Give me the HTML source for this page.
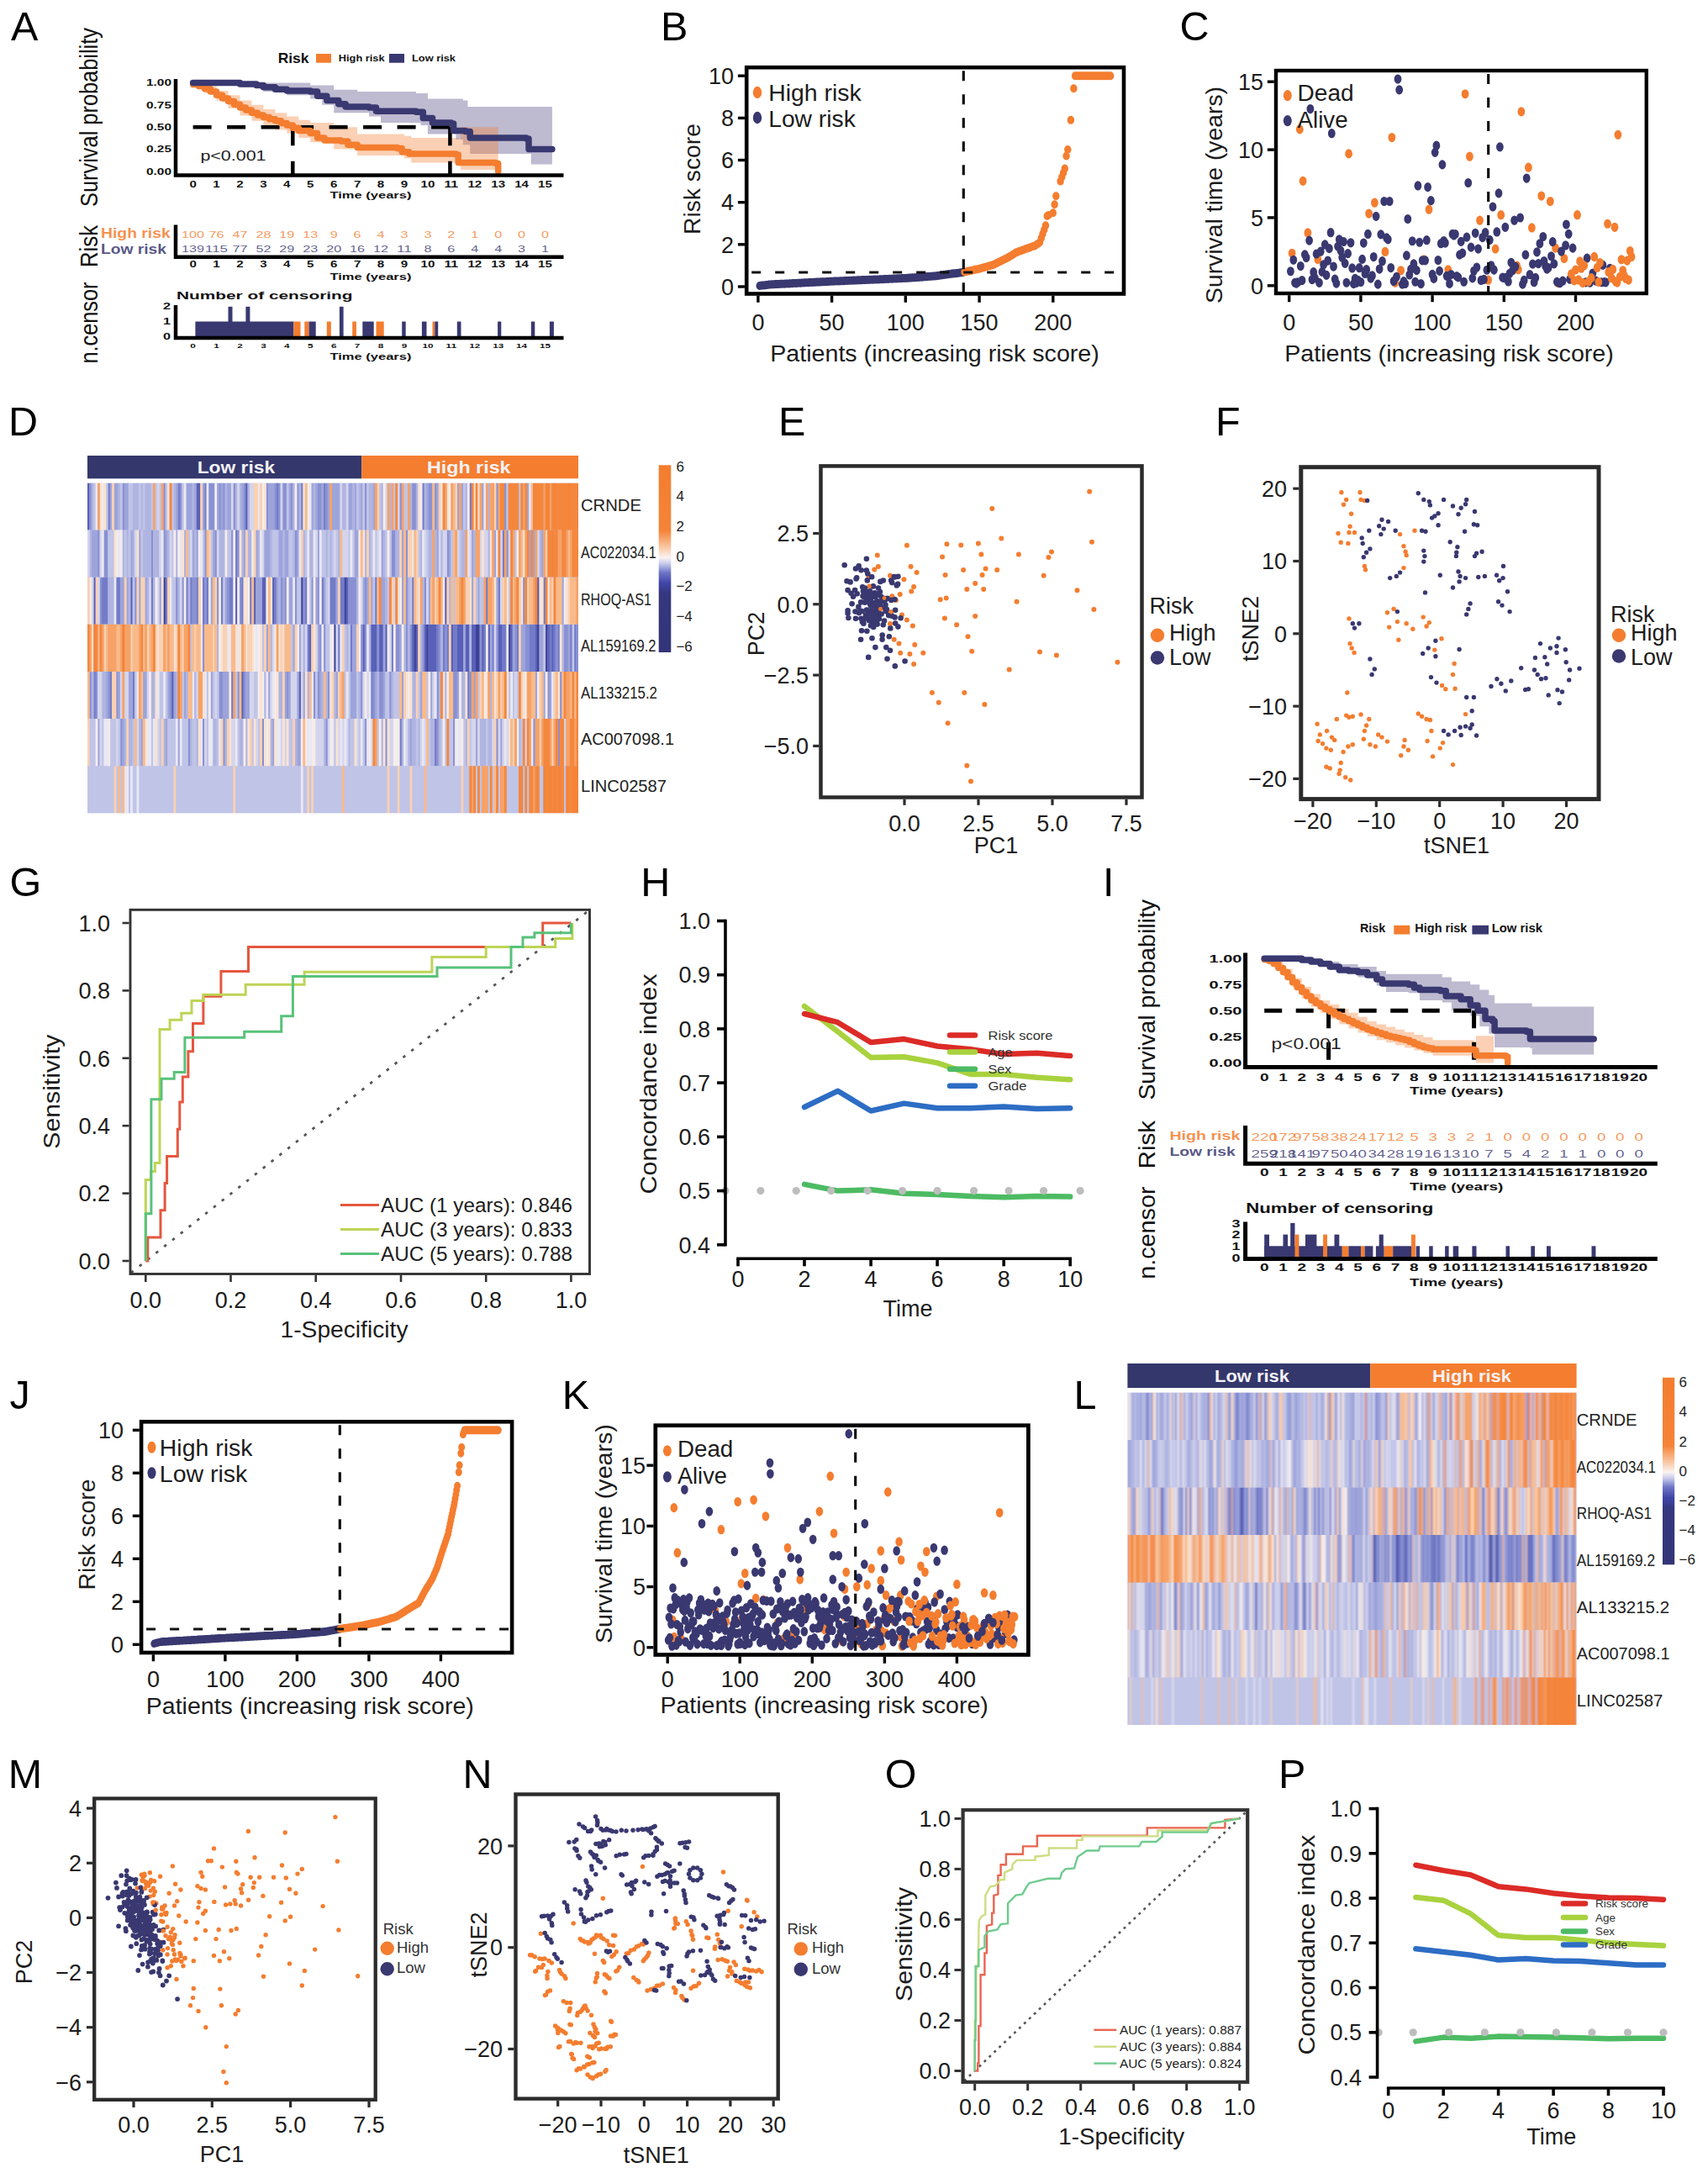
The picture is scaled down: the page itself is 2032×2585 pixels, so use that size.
<!DOCTYPE html>
<html lang="en"><head><meta charset="utf-8"><title>Figure</title>
<style>
html,body{margin:0;padding:0;background:#fff;}
svg{display:block;font-family:"Liberation Sans", sans-serif;}
</style></head><body>
<svg width="2032" height="2585" viewBox="0 0 2032 2585">
<rect width="2032" height="2585" fill="#fff"/>
<text x="12.9" y="48.0" font-size="48.5" fill="#000">A</text>
<text x="786.0" y="48.0" font-size="48.5" fill="#000">B</text>
<text x="1403.5" y="48.0" font-size="48.5" fill="#000">C</text>
<text x="10.0" y="518.3" font-size="48.5" fill="#000">D</text>
<text x="926.0" y="518.3" font-size="48.5" fill="#000">E</text>
<text x="1446.0" y="517.5" font-size="48.5" fill="#000">F</text>
<text x="11.6" y="1065.8" font-size="48.5" fill="#000">G</text>
<text x="762.3" y="1065.5" font-size="48.5" fill="#000">H</text>
<text x="1312.0" y="1065.5" font-size="48.5" fill="#000">I</text>
<text x="11.5" y="1675.6" font-size="48.5" fill="#000">J</text>
<text x="668.8" y="1675.6" font-size="48.5" fill="#000">K</text>
<text x="1277.4" y="1675.6" font-size="48.5" fill="#000">L</text>
<text x="9.8" y="2127.3" font-size="48.5" fill="#000">M</text>
<text x="550.4" y="2126.8" font-size="48.5" fill="#000">N</text>
<text x="1052.7" y="2126.8" font-size="48.5" fill="#000">O</text>
<text x="1521.0" y="2126.8" font-size="48.5" fill="#000">P</text>
<polygon points="229.6,98.4 313.4,98.4 313.4,98.4 369.2,98.4 369.2,101.6 397.2,101.6 397.2,106.8 425.1,106.8 425.1,109.0 494.9,109.0 494.9,111.1 508.9,111.1 508.9,117.4 550.8,117.4 550.8,119.5 556.4,119.5 556.4,126.9 656.9,126.9 656.9,128.0 656.9,195.6 656.9,195.6 631.8,195.6 631.8,182.9 629.0,182.9 629.0,182.9 559.2,182.9 559.2,172.3 550.8,172.3 550.8,166.0 542.4,166.0 542.4,159.6 508.9,159.6 508.9,149.1 500.5,149.1 500.5,145.9 453.0,145.9 453.0,138.5 439.1,138.5 439.1,134.3 397.2,134.3 397.2,124.8 383.2,124.8 383.2,117.4 369.2,117.4 369.2,113.2 341.3,113.2 341.3,109.0 313.4,109.0 313.4,103.7 285.5,103.7 285.5,100.5 257.5,100.5 257.5,98.4 229.6,98.4" fill="#4a3f7c" fill-opacity="0.36"/>
<polygon points="229.6,98.4 243.6,98.4 243.6,102.6 257.5,102.6 257.5,107.9 271.5,107.9 271.5,113.2 285.5,113.2 285.5,119.5 299.4,119.5 299.4,124.8 313.4,124.8 313.4,130.1 327.4,130.1 327.4,134.3 341.3,134.3 341.3,138.5 355.3,138.5 355.3,142.8 369.2,142.8 369.2,145.9 397.2,145.9 397.2,151.2 425.1,151.2 425.1,159.6 481.0,159.6 481.0,161.8 489.3,161.8 489.3,163.9 545.2,163.9 545.2,166.0 548.0,166.0 548.0,151.2 592.7,151.2 592.7,151.2 592.7,204.0 592.7,201.9 548.0,201.9 548.0,195.6 545.2,195.6 545.2,193.4 489.3,193.4 489.3,188.2 481.0,188.2 481.0,185.0 425.1,185.0 425.1,177.6 397.2,177.6 397.2,169.2 369.2,169.2 369.2,163.9 355.3,163.9 355.3,158.6 341.3,158.6 341.3,154.4 327.4,154.4 327.4,149.1 313.4,149.1 313.4,143.8 299.4,143.8 299.4,137.5 285.5,137.5 285.5,129.0 271.5,129.0 271.5,119.5 257.5,119.5 257.5,111.1 243.6,111.1 243.6,102.6 229.6,102.6" fill="#F47D2F" fill-opacity="0.36"/>
<line x1="229.6" y1="151.2" x2="535.4" y2="151.2" stroke="#000" stroke-width="4.5" stroke-dasharray="22 18.5"/>
<line x1="348.3" y1="151.2" x2="348.3" y2="208.5" stroke="#000" stroke-width="4.5" stroke-dasharray="22 18.5"/>
<line x1="535.4" y1="151.2" x2="535.4" y2="208.5" stroke="#000" stroke-width="4.5" stroke-dasharray="22 18.5"/>
<polyline points="229.6,100.5 236.6,100.5 236.6,102.6 243.6,102.6 243.6,105.8 250.5,105.8 250.5,109.0 257.5,109.0 257.5,113.2 264.5,113.2 264.5,116.9 271.5,116.9 271.5,120.6 278.5,120.6 278.5,124.3 285.5,124.3 285.5,128.0 292.4,128.0 292.4,131.1 299.4,131.1 299.4,134.3 306.4,134.3 306.4,136.9 313.4,136.9 313.4,139.6 320.4,139.6 320.4,141.7 327.4,141.7 327.4,143.8 334.3,143.8 334.3,146.4 341.3,146.4 341.3,149.1 348.3,149.1 348.3,152.3 355.3,152.3 355.3,155.4 369.2,155.4 369.2,158.6 377.6,158.6 377.6,163.9 386.0,163.9 386.0,167.0 405.6,167.0 405.6,168.1 413.9,168.1 413.9,172.3 425.1,172.3 425.1,175.5 472.6,175.5 472.6,176.5 478.2,176.5 478.2,180.8 486.6,180.8 486.6,182.9 542.4,182.9 542.4,183.9 545.2,183.9 545.2,193.4 589.9,193.4 589.9,194.5 592.7,194.5 592.7,204.0" fill="none" stroke="#F47D2F" stroke-width="7.5" stroke-linejoin="round" stroke-linecap="round"/>
<polyline points="229.6,98.4 271.5,98.4 271.5,98.4 285.5,98.4 285.5,100.0 305.0,100.0 305.0,101.6 313.4,101.6 313.4,103.7 327.4,103.7 327.4,106.3 341.3,106.3 341.3,107.9 369.2,107.9 369.2,109.0 377.6,109.0 377.6,114.2 388.8,114.2 388.8,119.5 402.8,119.5 402.8,123.7 411.1,123.7 411.1,126.9 439.1,126.9 439.1,128.0 447.5,128.0 447.5,132.2 494.9,132.2 494.9,133.2 503.3,133.2 503.3,140.6 514.5,140.6 514.5,145.9 536.8,145.9 536.8,147.0 539.6,147.0 539.6,155.4 553.6,155.4 553.6,156.5 559.2,156.5 559.2,163.9 626.2,163.9 626.2,164.9 629.0,164.9 629.0,177.6 656.9,177.6 656.9,177.6" fill="none" stroke="#393870" stroke-width="7.5" stroke-linejoin="round" stroke-linecap="round"/>
<polyline points="209.0,94.0 209.0,208.5 670.5,208.5" fill="none" stroke="#000" stroke-width="4.5" stroke-linejoin="miter" stroke-linecap="butt"/>
<text x="204.0" y="207.8" font-size="10.5" fill="#111" text-anchor="end" font-weight="bold" textLength="30.0" lengthAdjust="spacingAndGlyphs">0.00</text>
<text x="204.0" y="181.4" font-size="10.5" fill="#111" text-anchor="end" font-weight="bold" textLength="30.0" lengthAdjust="spacingAndGlyphs">0.25</text>
<text x="204.0" y="155.0" font-size="10.5" fill="#111" text-anchor="end" font-weight="bold" textLength="30.0" lengthAdjust="spacingAndGlyphs">0.50</text>
<text x="204.0" y="128.6" font-size="10.5" fill="#111" text-anchor="end" font-weight="bold" textLength="30.0" lengthAdjust="spacingAndGlyphs">0.75</text>
<text x="204.0" y="102.2" font-size="10.5" fill="#111" text-anchor="end" font-weight="bold" textLength="30.0" lengthAdjust="spacingAndGlyphs">1.00</text>
<text x="229.6" y="222.8" font-size="10.5" fill="#111" text-anchor="middle" font-weight="bold" textLength="8.4" lengthAdjust="spacingAndGlyphs">0</text>
<text x="257.5" y="222.8" font-size="10.5" fill="#111" text-anchor="middle" font-weight="bold" textLength="8.4" lengthAdjust="spacingAndGlyphs">1</text>
<text x="285.5" y="222.8" font-size="10.5" fill="#111" text-anchor="middle" font-weight="bold" textLength="8.4" lengthAdjust="spacingAndGlyphs">2</text>
<text x="313.4" y="222.8" font-size="10.5" fill="#111" text-anchor="middle" font-weight="bold" textLength="8.4" lengthAdjust="spacingAndGlyphs">3</text>
<text x="341.3" y="222.8" font-size="10.5" fill="#111" text-anchor="middle" font-weight="bold" textLength="8.4" lengthAdjust="spacingAndGlyphs">4</text>
<text x="369.2" y="222.8" font-size="10.5" fill="#111" text-anchor="middle" font-weight="bold" textLength="8.4" lengthAdjust="spacingAndGlyphs">5</text>
<text x="397.2" y="222.8" font-size="10.5" fill="#111" text-anchor="middle" font-weight="bold" textLength="8.4" lengthAdjust="spacingAndGlyphs">6</text>
<text x="425.1" y="222.8" font-size="10.5" fill="#111" text-anchor="middle" font-weight="bold" textLength="8.4" lengthAdjust="spacingAndGlyphs">7</text>
<text x="453.0" y="222.8" font-size="10.5" fill="#111" text-anchor="middle" font-weight="bold" textLength="8.4" lengthAdjust="spacingAndGlyphs">8</text>
<text x="481.0" y="222.8" font-size="10.5" fill="#111" text-anchor="middle" font-weight="bold" textLength="8.4" lengthAdjust="spacingAndGlyphs">9</text>
<text x="508.9" y="222.8" font-size="10.5" fill="#111" text-anchor="middle" font-weight="bold" textLength="16.8" lengthAdjust="spacingAndGlyphs">10</text>
<text x="536.8" y="222.8" font-size="10.5" fill="#111" text-anchor="middle" font-weight="bold" textLength="16.8" lengthAdjust="spacingAndGlyphs">11</text>
<text x="564.8" y="222.8" font-size="10.5" fill="#111" text-anchor="middle" font-weight="bold" textLength="16.8" lengthAdjust="spacingAndGlyphs">12</text>
<text x="592.7" y="222.8" font-size="10.5" fill="#111" text-anchor="middle" font-weight="bold" textLength="16.8" lengthAdjust="spacingAndGlyphs">13</text>
<text x="620.6" y="222.8" font-size="10.5" fill="#111" text-anchor="middle" font-weight="bold" textLength="16.8" lengthAdjust="spacingAndGlyphs">14</text>
<text x="648.5" y="222.8" font-size="10.5" fill="#111" text-anchor="middle" font-weight="bold" textLength="16.8" lengthAdjust="spacingAndGlyphs">15</text>
<text x="441.0" y="236.3" font-size="10.5" fill="#111" text-anchor="middle" font-weight="bold" textLength="97.0" lengthAdjust="spacingAndGlyphs">Time (years)</text>
<text x="238.4" y="190.7" font-size="16" fill="#222" textLength="78.1" lengthAdjust="spacingAndGlyphs">p&lt;0.001</text>
<text x="330.7" y="75.1" font-size="17" fill="#111" font-weight="bold" textLength="36.8" lengthAdjust="spacingAndGlyphs">Risk</text>
<rect x="376.0" y="64.0" width="18.0" height="10.7" fill="#F47D2F"/>
<rect x="463.0" y="64.0" width="18.0" height="10.7" fill="#393870"/>
<text x="402.8" y="72.8" font-size="10.5" fill="#111" font-weight="bold" textLength="54.7" lengthAdjust="spacingAndGlyphs">High risk</text>
<text x="490.0" y="72.8" font-size="10.5" fill="#111" font-weight="bold" textLength="52.0" lengthAdjust="spacingAndGlyphs">Low risk</text>
<text transform="translate(105.5,139.5) rotate(-90)" x="0" y="10.7" font-size="30" fill="#111" text-anchor="middle" textLength="213.0" lengthAdjust="spacingAndGlyphs">Survival probability</text>
<polyline points="209.0,267.5 209.0,305.8 670.5,305.8" fill="none" stroke="#000" stroke-width="4.5" stroke-linejoin="miter" stroke-linecap="butt"/>
<text x="229.6" y="282.5" font-size="11" fill="#F47D2F" text-anchor="middle" textLength="27.0" lengthAdjust="spacingAndGlyphs" fill-opacity=".8">100</text>
<text x="257.5" y="282.5" font-size="11" fill="#F47D2F" text-anchor="middle" textLength="18.0" lengthAdjust="spacingAndGlyphs" fill-opacity=".8">76</text>
<text x="285.5" y="282.5" font-size="11" fill="#F47D2F" text-anchor="middle" textLength="18.0" lengthAdjust="spacingAndGlyphs" fill-opacity=".8">47</text>
<text x="313.4" y="282.5" font-size="11" fill="#F47D2F" text-anchor="middle" textLength="18.0" lengthAdjust="spacingAndGlyphs" fill-opacity=".8">28</text>
<text x="341.3" y="282.5" font-size="11" fill="#F47D2F" text-anchor="middle" textLength="18.0" lengthAdjust="spacingAndGlyphs" fill-opacity=".8">19</text>
<text x="369.2" y="282.5" font-size="11" fill="#F47D2F" text-anchor="middle" textLength="18.0" lengthAdjust="spacingAndGlyphs" fill-opacity=".8">13</text>
<text x="397.2" y="282.5" font-size="11" fill="#F47D2F" text-anchor="middle" textLength="9.0" lengthAdjust="spacingAndGlyphs" fill-opacity=".8">9</text>
<text x="425.1" y="282.5" font-size="11" fill="#F47D2F" text-anchor="middle" textLength="9.0" lengthAdjust="spacingAndGlyphs" fill-opacity=".8">6</text>
<text x="453.0" y="282.5" font-size="11" fill="#F47D2F" text-anchor="middle" textLength="9.0" lengthAdjust="spacingAndGlyphs" fill-opacity=".8">4</text>
<text x="481.0" y="282.5" font-size="11" fill="#F47D2F" text-anchor="middle" textLength="9.0" lengthAdjust="spacingAndGlyphs" fill-opacity=".8">3</text>
<text x="508.9" y="282.5" font-size="11" fill="#F47D2F" text-anchor="middle" textLength="9.0" lengthAdjust="spacingAndGlyphs" fill-opacity=".8">3</text>
<text x="536.8" y="282.5" font-size="11" fill="#F47D2F" text-anchor="middle" textLength="9.0" lengthAdjust="spacingAndGlyphs" fill-opacity=".8">2</text>
<text x="564.8" y="282.5" font-size="11" fill="#F47D2F" text-anchor="middle" textLength="9.0" lengthAdjust="spacingAndGlyphs" fill-opacity=".8">1</text>
<text x="592.7" y="282.5" font-size="11" fill="#F47D2F" text-anchor="middle" textLength="9.0" lengthAdjust="spacingAndGlyphs" fill-opacity=".8">0</text>
<text x="620.6" y="282.5" font-size="11" fill="#F47D2F" text-anchor="middle" textLength="9.0" lengthAdjust="spacingAndGlyphs" fill-opacity=".8">0</text>
<text x="648.5" y="282.5" font-size="11" fill="#F47D2F" text-anchor="middle" textLength="9.0" lengthAdjust="spacingAndGlyphs" fill-opacity=".8">0</text>
<text x="229.6" y="299.6" font-size="11" fill="#393870" text-anchor="middle" textLength="27.0" lengthAdjust="spacingAndGlyphs" fill-opacity=".8">139</text>
<text x="257.5" y="299.6" font-size="11" fill="#393870" text-anchor="middle" textLength="27.0" lengthAdjust="spacingAndGlyphs" fill-opacity=".8">115</text>
<text x="285.5" y="299.6" font-size="11" fill="#393870" text-anchor="middle" textLength="18.0" lengthAdjust="spacingAndGlyphs" fill-opacity=".8">77</text>
<text x="313.4" y="299.6" font-size="11" fill="#393870" text-anchor="middle" textLength="18.0" lengthAdjust="spacingAndGlyphs" fill-opacity=".8">52</text>
<text x="341.3" y="299.6" font-size="11" fill="#393870" text-anchor="middle" textLength="18.0" lengthAdjust="spacingAndGlyphs" fill-opacity=".8">29</text>
<text x="369.2" y="299.6" font-size="11" fill="#393870" text-anchor="middle" textLength="18.0" lengthAdjust="spacingAndGlyphs" fill-opacity=".8">23</text>
<text x="397.2" y="299.6" font-size="11" fill="#393870" text-anchor="middle" textLength="18.0" lengthAdjust="spacingAndGlyphs" fill-opacity=".8">20</text>
<text x="425.1" y="299.6" font-size="11" fill="#393870" text-anchor="middle" textLength="18.0" lengthAdjust="spacingAndGlyphs" fill-opacity=".8">16</text>
<text x="453.0" y="299.6" font-size="11" fill="#393870" text-anchor="middle" textLength="18.0" lengthAdjust="spacingAndGlyphs" fill-opacity=".8">12</text>
<text x="481.0" y="299.6" font-size="11" fill="#393870" text-anchor="middle" textLength="18.0" lengthAdjust="spacingAndGlyphs" fill-opacity=".8">11</text>
<text x="508.9" y="299.6" font-size="11" fill="#393870" text-anchor="middle" textLength="9.0" lengthAdjust="spacingAndGlyphs" fill-opacity=".8">8</text>
<text x="536.8" y="299.6" font-size="11" fill="#393870" text-anchor="middle" textLength="9.0" lengthAdjust="spacingAndGlyphs" fill-opacity=".8">6</text>
<text x="564.8" y="299.6" font-size="11" fill="#393870" text-anchor="middle" textLength="9.0" lengthAdjust="spacingAndGlyphs" fill-opacity=".8">4</text>
<text x="592.7" y="299.6" font-size="11" fill="#393870" text-anchor="middle" textLength="9.0" lengthAdjust="spacingAndGlyphs" fill-opacity=".8">4</text>
<text x="620.6" y="299.6" font-size="11" fill="#393870" text-anchor="middle" textLength="9.0" lengthAdjust="spacingAndGlyphs" fill-opacity=".8">3</text>
<text x="648.5" y="299.6" font-size="11" fill="#393870" text-anchor="middle" textLength="9.0" lengthAdjust="spacingAndGlyphs" fill-opacity=".8">1</text>
<text x="120.0" y="282.5" font-size="16" fill="#F47D2F" font-weight="bold" textLength="82.7" lengthAdjust="spacingAndGlyphs" fill-opacity=".85">High risk</text>
<text x="120.0" y="301.7" font-size="16" fill="#393870" font-weight="bold" textLength="78.0" lengthAdjust="spacingAndGlyphs" fill-opacity=".85">Low risk</text>
<text x="229.6" y="318.3" font-size="10.5" fill="#111" text-anchor="middle" font-weight="bold" textLength="8.4" lengthAdjust="spacingAndGlyphs">0</text>
<text x="257.5" y="318.3" font-size="10.5" fill="#111" text-anchor="middle" font-weight="bold" textLength="8.4" lengthAdjust="spacingAndGlyphs">1</text>
<text x="285.5" y="318.3" font-size="10.5" fill="#111" text-anchor="middle" font-weight="bold" textLength="8.4" lengthAdjust="spacingAndGlyphs">2</text>
<text x="313.4" y="318.3" font-size="10.5" fill="#111" text-anchor="middle" font-weight="bold" textLength="8.4" lengthAdjust="spacingAndGlyphs">3</text>
<text x="341.3" y="318.3" font-size="10.5" fill="#111" text-anchor="middle" font-weight="bold" textLength="8.4" lengthAdjust="spacingAndGlyphs">4</text>
<text x="369.2" y="318.3" font-size="10.5" fill="#111" text-anchor="middle" font-weight="bold" textLength="8.4" lengthAdjust="spacingAndGlyphs">5</text>
<text x="397.2" y="318.3" font-size="10.5" fill="#111" text-anchor="middle" font-weight="bold" textLength="8.4" lengthAdjust="spacingAndGlyphs">6</text>
<text x="425.1" y="318.3" font-size="10.5" fill="#111" text-anchor="middle" font-weight="bold" textLength="8.4" lengthAdjust="spacingAndGlyphs">7</text>
<text x="453.0" y="318.3" font-size="10.5" fill="#111" text-anchor="middle" font-weight="bold" textLength="8.4" lengthAdjust="spacingAndGlyphs">8</text>
<text x="481.0" y="318.3" font-size="10.5" fill="#111" text-anchor="middle" font-weight="bold" textLength="8.4" lengthAdjust="spacingAndGlyphs">9</text>
<text x="508.9" y="318.3" font-size="10.5" fill="#111" text-anchor="middle" font-weight="bold" textLength="16.8" lengthAdjust="spacingAndGlyphs">10</text>
<text x="536.8" y="318.3" font-size="10.5" fill="#111" text-anchor="middle" font-weight="bold" textLength="16.8" lengthAdjust="spacingAndGlyphs">11</text>
<text x="564.8" y="318.3" font-size="10.5" fill="#111" text-anchor="middle" font-weight="bold" textLength="16.8" lengthAdjust="spacingAndGlyphs">12</text>
<text x="592.7" y="318.3" font-size="10.5" fill="#111" text-anchor="middle" font-weight="bold" textLength="16.8" lengthAdjust="spacingAndGlyphs">13</text>
<text x="620.6" y="318.3" font-size="10.5" fill="#111" text-anchor="middle" font-weight="bold" textLength="16.8" lengthAdjust="spacingAndGlyphs">14</text>
<text x="648.5" y="318.3" font-size="10.5" fill="#111" text-anchor="middle" font-weight="bold" textLength="16.8" lengthAdjust="spacingAndGlyphs">15</text>
<text x="441.0" y="332.5" font-size="10.5" fill="#111" text-anchor="middle" font-weight="bold" textLength="97.0" lengthAdjust="spacingAndGlyphs">Time (years)</text>
<text transform="translate(105.5,293.0) rotate(-90)" x="0" y="10.7" font-size="30" fill="#111" text-anchor="middle" textLength="50.0" lengthAdjust="spacingAndGlyphs">Risk</text>
<rect x="232.4" y="382.5" width="117.0" height="17.7" fill="#393870"/>
<rect x="271.5" y="364.8" width="5.0" height="35.4" fill="#393870"/>
<rect x="292.4" y="364.8" width="5.0" height="35.4" fill="#393870"/>
<rect x="349.4" y="382.5" width="8.1" height="17.7" fill="#F47D2F"/>
<rect x="362.3" y="382.5" width="5.3" height="17.7" fill="#F47D2F"/>
<rect x="367.6" y="382.5" width="8.1" height="17.7" fill="#393870"/>
<rect x="388.8" y="382.5" width="5.0" height="17.7" fill="#F47D2F"/>
<rect x="403.9" y="364.8" width="4.7" height="35.4" fill="#393870"/>
<rect x="419.2" y="382.5" width="4.7" height="17.7" fill="#F47D2F"/>
<rect x="431.3" y="382.5" width="13.4" height="17.7" fill="#393870"/>
<rect x="447.5" y="382.5" width="9.2" height="17.7" fill="#F47D2F"/>
<rect x="478.2" y="382.5" width="4.5" height="17.7" fill="#393870"/>
<rect x="501.9" y="382.5" width="5.6" height="17.7" fill="#393870"/>
<rect x="514.5" y="382.5" width="2.8" height="17.7" fill="#F47D2F"/>
<rect x="517.3" y="382.5" width="3.9" height="17.7" fill="#393870"/>
<rect x="543.8" y="382.5" width="4.7" height="17.7" fill="#393870"/>
<rect x="592.1" y="382.5" width="4.2" height="17.7" fill="#393870"/>
<rect x="631.8" y="382.5" width="4.5" height="17.7" fill="#393870"/>
<rect x="653.9" y="382.5" width="5.0" height="17.7" fill="#393870"/>
<polyline points="209.0,363.0 209.0,402.0 670.5,402.0" fill="none" stroke="#000" stroke-width="4.5" stroke-linejoin="miter" stroke-linecap="butt"/>
<text x="198.5" y="403.8" font-size="10" fill="#111" text-anchor="middle" font-weight="bold" textLength="9.0" lengthAdjust="spacingAndGlyphs">0</text>
<text x="198.5" y="386.1" font-size="10" fill="#111" text-anchor="middle" font-weight="bold" textLength="9.0" lengthAdjust="spacingAndGlyphs">1</text>
<text x="198.5" y="368.4" font-size="10" fill="#111" text-anchor="middle" font-weight="bold" textLength="9.0" lengthAdjust="spacingAndGlyphs">2</text>
<text x="229.6" y="413.9" font-size="8" fill="#111" text-anchor="middle" font-weight="bold" textLength="6.5" lengthAdjust="spacingAndGlyphs">0</text>
<text x="257.5" y="413.9" font-size="8" fill="#111" text-anchor="middle" font-weight="bold" textLength="6.5" lengthAdjust="spacingAndGlyphs">1</text>
<text x="285.5" y="413.9" font-size="8" fill="#111" text-anchor="middle" font-weight="bold" textLength="6.5" lengthAdjust="spacingAndGlyphs">2</text>
<text x="313.4" y="413.9" font-size="8" fill="#111" text-anchor="middle" font-weight="bold" textLength="6.5" lengthAdjust="spacingAndGlyphs">3</text>
<text x="341.3" y="413.9" font-size="8" fill="#111" text-anchor="middle" font-weight="bold" textLength="6.5" lengthAdjust="spacingAndGlyphs">4</text>
<text x="369.2" y="413.9" font-size="8" fill="#111" text-anchor="middle" font-weight="bold" textLength="6.5" lengthAdjust="spacingAndGlyphs">5</text>
<text x="397.2" y="413.9" font-size="8" fill="#111" text-anchor="middle" font-weight="bold" textLength="6.5" lengthAdjust="spacingAndGlyphs">6</text>
<text x="425.1" y="413.9" font-size="8" fill="#111" text-anchor="middle" font-weight="bold" textLength="6.5" lengthAdjust="spacingAndGlyphs">7</text>
<text x="453.0" y="413.9" font-size="8" fill="#111" text-anchor="middle" font-weight="bold" textLength="6.5" lengthAdjust="spacingAndGlyphs">8</text>
<text x="481.0" y="413.9" font-size="8" fill="#111" text-anchor="middle" font-weight="bold" textLength="6.5" lengthAdjust="spacingAndGlyphs">9</text>
<text x="508.9" y="413.9" font-size="8" fill="#111" text-anchor="middle" font-weight="bold" textLength="13.0" lengthAdjust="spacingAndGlyphs">10</text>
<text x="536.8" y="413.9" font-size="8" fill="#111" text-anchor="middle" font-weight="bold" textLength="13.0" lengthAdjust="spacingAndGlyphs">11</text>
<text x="564.8" y="413.9" font-size="8" fill="#111" text-anchor="middle" font-weight="bold" textLength="13.0" lengthAdjust="spacingAndGlyphs">12</text>
<text x="592.7" y="413.9" font-size="8" fill="#111" text-anchor="middle" font-weight="bold" textLength="13.0" lengthAdjust="spacingAndGlyphs">13</text>
<text x="620.6" y="413.9" font-size="8" fill="#111" text-anchor="middle" font-weight="bold" textLength="13.0" lengthAdjust="spacingAndGlyphs">14</text>
<text x="648.5" y="413.9" font-size="8" fill="#111" text-anchor="middle" font-weight="bold" textLength="13.0" lengthAdjust="spacingAndGlyphs">15</text>
<text x="441.0" y="427.8" font-size="10.5" fill="#111" text-anchor="middle" font-weight="bold" textLength="97.0" lengthAdjust="spacingAndGlyphs">Time (years)</text>
<text x="210.0" y="356.0" font-size="13.5" fill="#111" font-weight="bold" textLength="209.5" lengthAdjust="spacingAndGlyphs">Number of censoring</text>
<text transform="translate(105.5,384.0) rotate(-90)" x="0" y="10.7" font-size="30" fill="#111" text-anchor="middle" textLength="97.0" lengthAdjust="spacingAndGlyphs">n.censor</text>
<polygon points="1504.2,1140.2 1571.0,1140.2 1571.0,1143.9 1593.3,1143.9 1593.3,1147.0 1615.5,1147.0 1615.5,1150.1 1637.8,1150.1 1637.8,1155.1 1649.0,1155.1 1649.0,1158.8 1715.8,1158.8 1715.8,1162.6 1726.9,1162.6 1726.9,1167.5 1749.2,1167.5 1749.2,1171.3 1760.3,1171.3 1760.3,1177.5 1771.4,1177.5 1771.4,1183.7 1778.1,1183.7 1778.1,1193.6 1820.4,1193.6 1820.4,1193.6 1822.7,1193.6 1822.7,1197.4 1896.2,1197.4 1896.2,1197.4 1896.2,1254.6 1896.2,1254.6 1822.7,1254.6 1822.7,1247.1 1820.4,1247.1 1820.4,1245.9 1778.1,1245.9 1778.1,1229.7 1771.4,1229.7 1771.4,1221.0 1760.3,1221.0 1760.3,1208.6 1749.2,1208.6 1749.2,1202.3 1726.9,1202.3 1726.9,1192.4 1715.8,1192.4 1715.8,1189.9 1689.0,1189.9 1689.0,1181.2 1675.7,1181.2 1675.7,1180.0 1649.0,1180.0 1649.0,1172.5 1637.8,1172.5 1637.8,1162.6 1615.5,1162.6 1615.5,1156.4 1593.3,1156.4 1593.3,1148.9 1571.0,1148.9 1571.0,1145.2 1548.7,1145.2 1548.7,1142.7 1526.5,1142.7 1526.5,1140.2 1504.2,1140.2" fill="#4a3f7c" fill-opacity="0.36"/>
<polygon points="1504.2,1140.2 1515.3,1140.2 1515.3,1143.9 1526.5,1143.9 1526.5,1152.6 1537.6,1152.6 1537.6,1163.8 1548.7,1163.8 1548.7,1173.8 1559.9,1173.8 1559.9,1182.5 1571.0,1182.5 1571.0,1189.9 1582.1,1189.9 1582.1,1194.9 1593.3,1194.9 1593.3,1199.9 1604.4,1199.9 1604.4,1204.8 1615.5,1204.8 1615.5,1209.8 1626.7,1209.8 1626.7,1214.8 1637.8,1214.8 1637.8,1218.5 1649.0,1218.5 1649.0,1221.6 1660.1,1221.6 1660.1,1224.7 1671.2,1224.7 1671.2,1227.8 1682.4,1227.8 1682.4,1230.9 1693.5,1230.9 1693.5,1234.0 1704.6,1234.0 1704.6,1237.2 1753.6,1237.2 1753.6,1239.6 1755.9,1239.6 1755.9,1232.2 1775.9,1232.2 1775.9,1232.2 1777.0,1232.2 1777.0,1264.5 1777.0,1264.5 1777.0,1264.5 1755.9,1264.5 1755.9,1257.0 1753.6,1257.0 1753.6,1255.8 1704.6,1255.8 1704.6,1252.7 1693.5,1252.7 1693.5,1249.6 1682.4,1249.6 1682.4,1246.5 1671.2,1246.5 1671.2,1243.4 1660.1,1243.4 1660.1,1240.3 1649.0,1240.3 1649.0,1237.2 1637.8,1237.2 1637.8,1232.8 1626.7,1232.8 1626.7,1228.5 1615.5,1228.5 1615.5,1223.5 1604.4,1223.5 1604.4,1218.5 1593.3,1218.5 1593.3,1212.3 1582.1,1212.3 1582.1,1204.8 1571.0,1204.8 1571.0,1197.4 1559.9,1197.4 1559.9,1187.4 1548.7,1187.4 1548.7,1175.0 1537.6,1175.0 1537.6,1161.3 1526.5,1161.3 1526.5,1151.4 1515.3,1151.4 1515.3,1143.9 1504.2,1143.9" fill="#F47D2F" fill-opacity="0.36"/>
<line x1="1504.2" y1="1202.3" x2="1753.6" y2="1202.3" stroke="#000" stroke-width="5" stroke-dasharray="21 16.5"/>
<line x1="1580.6" y1="1202.3" x2="1580.6" y2="1269.5" stroke="#000" stroke-width="5" stroke-dasharray="21 16.5"/>
<line x1="1753.6" y1="1202.3" x2="1753.6" y2="1269.5" stroke="#000" stroke-width="5" stroke-dasharray="21 16.5"/>
<polyline points="1504.2,1141.4 1509.8,1141.4 1509.8,1143.3 1515.3,1143.3 1515.3,1146.4 1520.9,1146.4 1520.9,1151.4 1526.5,1151.4 1526.5,1156.4 1532.0,1156.4 1532.0,1162.6 1537.6,1162.6 1537.6,1168.8 1543.2,1168.8 1543.2,1174.4 1548.7,1174.4 1548.7,1180.0 1554.3,1180.0 1554.3,1184.9 1559.9,1184.9 1559.9,1189.9 1565.4,1189.9 1565.4,1193.6 1571.0,1193.6 1571.0,1197.4 1576.6,1197.4 1576.6,1200.5 1582.1,1200.5 1582.1,1203.6 1587.7,1203.6 1587.7,1206.7 1593.3,1206.7 1593.3,1209.8 1598.8,1209.8 1598.8,1212.3 1604.4,1212.3 1604.4,1214.8 1610.0,1214.8 1610.0,1217.3 1615.5,1217.3 1615.5,1219.8 1621.1,1219.8 1621.1,1222.2 1626.7,1222.2 1626.7,1224.7 1632.3,1224.7 1632.3,1226.6 1637.8,1226.6 1637.8,1228.5 1643.4,1228.5 1643.4,1230.3 1649.0,1230.3 1649.0,1232.2 1654.5,1232.2 1654.5,1233.4 1660.1,1233.4 1660.1,1234.7 1665.7,1234.7 1665.7,1235.9 1671.2,1235.9 1671.2,1237.2 1676.8,1237.2 1676.8,1239.6 1682.4,1239.6 1682.4,1242.1 1687.9,1242.1 1687.9,1244.0 1693.5,1244.0 1693.5,1245.9 1699.1,1245.9 1699.1,1247.1 1704.6,1247.1 1704.6,1248.3 1753.6,1248.3 1753.6,1249.6 1755.9,1249.6 1755.9,1255.8 1791.5,1255.8 1791.5,1257.0 1793.7,1257.0 1793.7,1264.5" fill="none" stroke="#F47D2F" stroke-width="7.5" stroke-linejoin="round" stroke-linecap="round"/>
<polyline points="1504.2,1140.2 1537.6,1140.2 1537.6,1140.2 1548.7,1140.2 1548.7,1142.1 1559.9,1142.1 1559.9,1143.9 1571.0,1143.9 1571.0,1146.4 1582.1,1146.4 1582.1,1150.1 1593.3,1150.1 1593.3,1153.9 1604.4,1153.9 1604.4,1155.1 1615.5,1155.1 1615.5,1156.4 1626.7,1156.4 1626.7,1160.1 1637.8,1160.1 1637.8,1165.1 1644.5,1165.1 1644.5,1170.0 1675.7,1170.0 1675.7,1171.3 1682.4,1171.3 1682.4,1175.0 1689.0,1175.0 1689.0,1177.5 1713.5,1177.5 1713.5,1178.7 1720.2,1178.7 1720.2,1184.9 1738.0,1184.9 1738.0,1188.7 1749.2,1188.7 1749.2,1196.1 1758.1,1196.1 1758.1,1202.3 1767.0,1202.3 1767.0,1212.3 1775.9,1212.3 1775.9,1214.8 1778.1,1214.8 1778.1,1226.0 1816.0,1226.0 1816.0,1227.2 1820.4,1227.2 1820.4,1235.9 1896.2,1235.9 1896.2,1235.9" fill="none" stroke="#393870" stroke-width="7.5" stroke-linejoin="round" stroke-linecap="round"/>
<polyline points="1481.6,1133.5 1481.6,1269.5 1971.8,1269.5" fill="none" stroke="#000" stroke-width="5" stroke-linejoin="miter" stroke-linecap="butt"/>
<text x="1477.5" y="1269.3" font-size="13.5" fill="#111" text-anchor="end" font-weight="bold" textLength="39.0" lengthAdjust="spacingAndGlyphs">0.00</text>
<text x="1477.5" y="1238.3" font-size="13.5" fill="#111" text-anchor="end" font-weight="bold" textLength="39.0" lengthAdjust="spacingAndGlyphs">0.25</text>
<text x="1477.5" y="1207.2" font-size="13.5" fill="#111" text-anchor="end" font-weight="bold" textLength="39.0" lengthAdjust="spacingAndGlyphs">0.50</text>
<text x="1477.5" y="1176.1" font-size="13.5" fill="#111" text-anchor="end" font-weight="bold" textLength="39.0" lengthAdjust="spacingAndGlyphs">0.75</text>
<text x="1477.5" y="1145.0" font-size="13.5" fill="#111" text-anchor="end" font-weight="bold" textLength="39.0" lengthAdjust="spacingAndGlyphs">1.00</text>
<text x="1504.2" y="1286.2" font-size="13.5" fill="#111" text-anchor="middle" font-weight="bold" textLength="10.6" lengthAdjust="spacingAndGlyphs">0</text>
<text x="1526.5" y="1286.2" font-size="13.5" fill="#111" text-anchor="middle" font-weight="bold" textLength="10.6" lengthAdjust="spacingAndGlyphs">1</text>
<text x="1548.7" y="1286.2" font-size="13.5" fill="#111" text-anchor="middle" font-weight="bold" textLength="10.6" lengthAdjust="spacingAndGlyphs">2</text>
<text x="1571.0" y="1286.2" font-size="13.5" fill="#111" text-anchor="middle" font-weight="bold" textLength="10.6" lengthAdjust="spacingAndGlyphs">3</text>
<text x="1593.3" y="1286.2" font-size="13.5" fill="#111" text-anchor="middle" font-weight="bold" textLength="10.6" lengthAdjust="spacingAndGlyphs">4</text>
<text x="1615.5" y="1286.2" font-size="13.5" fill="#111" text-anchor="middle" font-weight="bold" textLength="10.6" lengthAdjust="spacingAndGlyphs">5</text>
<text x="1637.8" y="1286.2" font-size="13.5" fill="#111" text-anchor="middle" font-weight="bold" textLength="10.6" lengthAdjust="spacingAndGlyphs">6</text>
<text x="1660.1" y="1286.2" font-size="13.5" fill="#111" text-anchor="middle" font-weight="bold" textLength="10.6" lengthAdjust="spacingAndGlyphs">7</text>
<text x="1682.4" y="1286.2" font-size="13.5" fill="#111" text-anchor="middle" font-weight="bold" textLength="10.6" lengthAdjust="spacingAndGlyphs">8</text>
<text x="1704.6" y="1286.2" font-size="13.5" fill="#111" text-anchor="middle" font-weight="bold" textLength="10.6" lengthAdjust="spacingAndGlyphs">9</text>
<text x="1726.9" y="1286.2" font-size="13.5" fill="#111" text-anchor="middle" font-weight="bold" textLength="21.2" lengthAdjust="spacingAndGlyphs">10</text>
<text x="1749.2" y="1286.2" font-size="13.5" fill="#111" text-anchor="middle" font-weight="bold" textLength="21.2" lengthAdjust="spacingAndGlyphs">11</text>
<text x="1771.4" y="1286.2" font-size="13.5" fill="#111" text-anchor="middle" font-weight="bold" textLength="21.2" lengthAdjust="spacingAndGlyphs">12</text>
<text x="1793.7" y="1286.2" font-size="13.5" fill="#111" text-anchor="middle" font-weight="bold" textLength="21.2" lengthAdjust="spacingAndGlyphs">13</text>
<text x="1816.0" y="1286.2" font-size="13.5" fill="#111" text-anchor="middle" font-weight="bold" textLength="21.2" lengthAdjust="spacingAndGlyphs">14</text>
<text x="1838.2" y="1286.2" font-size="13.5" fill="#111" text-anchor="middle" font-weight="bold" textLength="21.2" lengthAdjust="spacingAndGlyphs">15</text>
<text x="1860.5" y="1286.2" font-size="13.5" fill="#111" text-anchor="middle" font-weight="bold" textLength="21.2" lengthAdjust="spacingAndGlyphs">16</text>
<text x="1882.8" y="1286.2" font-size="13.5" fill="#111" text-anchor="middle" font-weight="bold" textLength="21.2" lengthAdjust="spacingAndGlyphs">17</text>
<text x="1905.1" y="1286.2" font-size="13.5" fill="#111" text-anchor="middle" font-weight="bold" textLength="21.2" lengthAdjust="spacingAndGlyphs">18</text>
<text x="1927.3" y="1286.2" font-size="13.5" fill="#111" text-anchor="middle" font-weight="bold" textLength="21.2" lengthAdjust="spacingAndGlyphs">19</text>
<text x="1949.6" y="1286.2" font-size="13.5" fill="#111" text-anchor="middle" font-weight="bold" textLength="21.2" lengthAdjust="spacingAndGlyphs">20</text>
<text x="1732.7" y="1302.3" font-size="13.5" fill="#111" text-anchor="middle" font-weight="bold" textLength="111.4" lengthAdjust="spacingAndGlyphs">Time (years)</text>
<text x="1512.4" y="1248.3" font-size="19" fill="#222" textLength="83.2" lengthAdjust="spacingAndGlyphs">p&lt;0.001</text>
<text x="1618.0" y="1108.8" font-size="14.5" fill="#111" font-weight="bold" textLength="30.2" lengthAdjust="spacingAndGlyphs">Risk</text>
<rect x="1658.3" y="1100.8" width="19.0" height="10.7" fill="#F47D2F"/>
<rect x="1751.4" y="1100.8" width="19.6" height="10.7" fill="#393870"/>
<text x="1683.3" y="1108.6" font-size="14" fill="#111" font-weight="bold" textLength="62.0" lengthAdjust="spacingAndGlyphs">High risk</text>
<text x="1774.7" y="1108.6" font-size="14" fill="#111" font-weight="bold" textLength="60.3" lengthAdjust="spacingAndGlyphs">Low risk</text>
<text transform="translate(1364.0,1189.3) rotate(-90)" x="0" y="10.2" font-size="28.4" fill="#111" text-anchor="middle" textLength="238.6" lengthAdjust="spacingAndGlyphs">Survival probability</text>
<polyline points="1481.6,1339.0 1481.6,1384.2 1971.8,1384.2" fill="none" stroke="#000" stroke-width="5" stroke-linejoin="miter" stroke-linecap="butt"/>
<text x="1504.2" y="1357.0" font-size="13.5" fill="#F47D2F" text-anchor="middle" textLength="31.2" lengthAdjust="spacingAndGlyphs" fill-opacity=".8">220</text>
<text x="1526.5" y="1357.0" font-size="13.5" fill="#F47D2F" text-anchor="middle" textLength="31.2" lengthAdjust="spacingAndGlyphs" fill-opacity=".8">172</text>
<text x="1548.7" y="1357.0" font-size="13.5" fill="#F47D2F" text-anchor="middle" textLength="20.8" lengthAdjust="spacingAndGlyphs" fill-opacity=".8">97</text>
<text x="1571.0" y="1357.0" font-size="13.5" fill="#F47D2F" text-anchor="middle" textLength="20.8" lengthAdjust="spacingAndGlyphs" fill-opacity=".8">58</text>
<text x="1593.3" y="1357.0" font-size="13.5" fill="#F47D2F" text-anchor="middle" textLength="20.8" lengthAdjust="spacingAndGlyphs" fill-opacity=".8">38</text>
<text x="1615.5" y="1357.0" font-size="13.5" fill="#F47D2F" text-anchor="middle" textLength="20.8" lengthAdjust="spacingAndGlyphs" fill-opacity=".8">24</text>
<text x="1637.8" y="1357.0" font-size="13.5" fill="#F47D2F" text-anchor="middle" textLength="20.8" lengthAdjust="spacingAndGlyphs" fill-opacity=".8">17</text>
<text x="1660.1" y="1357.0" font-size="13.5" fill="#F47D2F" text-anchor="middle" textLength="20.8" lengthAdjust="spacingAndGlyphs" fill-opacity=".8">12</text>
<text x="1682.4" y="1357.0" font-size="13.5" fill="#F47D2F" text-anchor="middle" textLength="10.4" lengthAdjust="spacingAndGlyphs" fill-opacity=".8">5</text>
<text x="1704.6" y="1357.0" font-size="13.5" fill="#F47D2F" text-anchor="middle" textLength="10.4" lengthAdjust="spacingAndGlyphs" fill-opacity=".8">3</text>
<text x="1726.9" y="1357.0" font-size="13.5" fill="#F47D2F" text-anchor="middle" textLength="10.4" lengthAdjust="spacingAndGlyphs" fill-opacity=".8">3</text>
<text x="1749.2" y="1357.0" font-size="13.5" fill="#F47D2F" text-anchor="middle" textLength="10.4" lengthAdjust="spacingAndGlyphs" fill-opacity=".8">2</text>
<text x="1771.4" y="1357.0" font-size="13.5" fill="#F47D2F" text-anchor="middle" textLength="10.4" lengthAdjust="spacingAndGlyphs" fill-opacity=".8">1</text>
<text x="1793.7" y="1357.0" font-size="13.5" fill="#F47D2F" text-anchor="middle" textLength="10.4" lengthAdjust="spacingAndGlyphs" fill-opacity=".8">0</text>
<text x="1816.0" y="1357.0" font-size="13.5" fill="#F47D2F" text-anchor="middle" textLength="10.4" lengthAdjust="spacingAndGlyphs" fill-opacity=".8">0</text>
<text x="1838.2" y="1357.0" font-size="13.5" fill="#F47D2F" text-anchor="middle" textLength="10.4" lengthAdjust="spacingAndGlyphs" fill-opacity=".8">0</text>
<text x="1860.5" y="1357.0" font-size="13.5" fill="#F47D2F" text-anchor="middle" textLength="10.4" lengthAdjust="spacingAndGlyphs" fill-opacity=".8">0</text>
<text x="1882.8" y="1357.0" font-size="13.5" fill="#F47D2F" text-anchor="middle" textLength="10.4" lengthAdjust="spacingAndGlyphs" fill-opacity=".8">0</text>
<text x="1905.1" y="1357.0" font-size="13.5" fill="#F47D2F" text-anchor="middle" textLength="10.4" lengthAdjust="spacingAndGlyphs" fill-opacity=".8">0</text>
<text x="1927.3" y="1357.0" font-size="13.5" fill="#F47D2F" text-anchor="middle" textLength="10.4" lengthAdjust="spacingAndGlyphs" fill-opacity=".8">0</text>
<text x="1949.6" y="1357.0" font-size="13.5" fill="#F47D2F" text-anchor="middle" textLength="10.4" lengthAdjust="spacingAndGlyphs" fill-opacity=".8">0</text>
<text x="1504.2" y="1376.5" font-size="13.5" fill="#393870" text-anchor="middle" textLength="31.2" lengthAdjust="spacingAndGlyphs" fill-opacity=".8">259</text>
<text x="1526.5" y="1376.5" font-size="13.5" fill="#393870" text-anchor="middle" textLength="31.2" lengthAdjust="spacingAndGlyphs" fill-opacity=".8">218</text>
<text x="1548.7" y="1376.5" font-size="13.5" fill="#393870" text-anchor="middle" textLength="31.2" lengthAdjust="spacingAndGlyphs" fill-opacity=".8">141</text>
<text x="1571.0" y="1376.5" font-size="13.5" fill="#393870" text-anchor="middle" textLength="20.8" lengthAdjust="spacingAndGlyphs" fill-opacity=".8">97</text>
<text x="1593.3" y="1376.5" font-size="13.5" fill="#393870" text-anchor="middle" textLength="20.8" lengthAdjust="spacingAndGlyphs" fill-opacity=".8">50</text>
<text x="1615.5" y="1376.5" font-size="13.5" fill="#393870" text-anchor="middle" textLength="20.8" lengthAdjust="spacingAndGlyphs" fill-opacity=".8">40</text>
<text x="1637.8" y="1376.5" font-size="13.5" fill="#393870" text-anchor="middle" textLength="20.8" lengthAdjust="spacingAndGlyphs" fill-opacity=".8">34</text>
<text x="1660.1" y="1376.5" font-size="13.5" fill="#393870" text-anchor="middle" textLength="20.8" lengthAdjust="spacingAndGlyphs" fill-opacity=".8">28</text>
<text x="1682.4" y="1376.5" font-size="13.5" fill="#393870" text-anchor="middle" textLength="20.8" lengthAdjust="spacingAndGlyphs" fill-opacity=".8">19</text>
<text x="1704.6" y="1376.5" font-size="13.5" fill="#393870" text-anchor="middle" textLength="20.8" lengthAdjust="spacingAndGlyphs" fill-opacity=".8">16</text>
<text x="1726.9" y="1376.5" font-size="13.5" fill="#393870" text-anchor="middle" textLength="20.8" lengthAdjust="spacingAndGlyphs" fill-opacity=".8">13</text>
<text x="1749.2" y="1376.5" font-size="13.5" fill="#393870" text-anchor="middle" textLength="20.8" lengthAdjust="spacingAndGlyphs" fill-opacity=".8">10</text>
<text x="1771.4" y="1376.5" font-size="13.5" fill="#393870" text-anchor="middle" textLength="10.4" lengthAdjust="spacingAndGlyphs" fill-opacity=".8">7</text>
<text x="1793.7" y="1376.5" font-size="13.5" fill="#393870" text-anchor="middle" textLength="10.4" lengthAdjust="spacingAndGlyphs" fill-opacity=".8">5</text>
<text x="1816.0" y="1376.5" font-size="13.5" fill="#393870" text-anchor="middle" textLength="10.4" lengthAdjust="spacingAndGlyphs" fill-opacity=".8">4</text>
<text x="1838.2" y="1376.5" font-size="13.5" fill="#393870" text-anchor="middle" textLength="10.4" lengthAdjust="spacingAndGlyphs" fill-opacity=".8">2</text>
<text x="1860.5" y="1376.5" font-size="13.5" fill="#393870" text-anchor="middle" textLength="10.4" lengthAdjust="spacingAndGlyphs" fill-opacity=".8">1</text>
<text x="1882.8" y="1376.5" font-size="13.5" fill="#393870" text-anchor="middle" textLength="10.4" lengthAdjust="spacingAndGlyphs" fill-opacity=".8">1</text>
<text x="1905.1" y="1376.5" font-size="13.5" fill="#393870" text-anchor="middle" textLength="10.4" lengthAdjust="spacingAndGlyphs" fill-opacity=".8">0</text>
<text x="1927.3" y="1376.5" font-size="13.5" fill="#393870" text-anchor="middle" textLength="10.4" lengthAdjust="spacingAndGlyphs" fill-opacity=".8">0</text>
<text x="1949.6" y="1376.5" font-size="13.5" fill="#393870" text-anchor="middle" textLength="10.4" lengthAdjust="spacingAndGlyphs" fill-opacity=".8">0</text>
<text x="1391.4" y="1355.5" font-size="15.5" fill="#F47D2F" font-weight="bold" textLength="84.0" lengthAdjust="spacingAndGlyphs" fill-opacity=".85">High risk</text>
<text x="1391.4" y="1375.3" font-size="15.5" fill="#393870" font-weight="bold" textLength="78.3" lengthAdjust="spacingAndGlyphs" fill-opacity=".85">Low risk</text>
<text x="1504.2" y="1398.8" font-size="13.5" fill="#111" text-anchor="middle" font-weight="bold" textLength="10.6" lengthAdjust="spacingAndGlyphs">0</text>
<text x="1526.5" y="1398.8" font-size="13.5" fill="#111" text-anchor="middle" font-weight="bold" textLength="10.6" lengthAdjust="spacingAndGlyphs">1</text>
<text x="1548.7" y="1398.8" font-size="13.5" fill="#111" text-anchor="middle" font-weight="bold" textLength="10.6" lengthAdjust="spacingAndGlyphs">2</text>
<text x="1571.0" y="1398.8" font-size="13.5" fill="#111" text-anchor="middle" font-weight="bold" textLength="10.6" lengthAdjust="spacingAndGlyphs">3</text>
<text x="1593.3" y="1398.8" font-size="13.5" fill="#111" text-anchor="middle" font-weight="bold" textLength="10.6" lengthAdjust="spacingAndGlyphs">4</text>
<text x="1615.5" y="1398.8" font-size="13.5" fill="#111" text-anchor="middle" font-weight="bold" textLength="10.6" lengthAdjust="spacingAndGlyphs">5</text>
<text x="1637.8" y="1398.8" font-size="13.5" fill="#111" text-anchor="middle" font-weight="bold" textLength="10.6" lengthAdjust="spacingAndGlyphs">6</text>
<text x="1660.1" y="1398.8" font-size="13.5" fill="#111" text-anchor="middle" font-weight="bold" textLength="10.6" lengthAdjust="spacingAndGlyphs">7</text>
<text x="1682.4" y="1398.8" font-size="13.5" fill="#111" text-anchor="middle" font-weight="bold" textLength="10.6" lengthAdjust="spacingAndGlyphs">8</text>
<text x="1704.6" y="1398.8" font-size="13.5" fill="#111" text-anchor="middle" font-weight="bold" textLength="10.6" lengthAdjust="spacingAndGlyphs">9</text>
<text x="1726.9" y="1398.8" font-size="13.5" fill="#111" text-anchor="middle" font-weight="bold" textLength="21.2" lengthAdjust="spacingAndGlyphs">10</text>
<text x="1749.2" y="1398.8" font-size="13.5" fill="#111" text-anchor="middle" font-weight="bold" textLength="21.2" lengthAdjust="spacingAndGlyphs">11</text>
<text x="1771.4" y="1398.8" font-size="13.5" fill="#111" text-anchor="middle" font-weight="bold" textLength="21.2" lengthAdjust="spacingAndGlyphs">12</text>
<text x="1793.7" y="1398.8" font-size="13.5" fill="#111" text-anchor="middle" font-weight="bold" textLength="21.2" lengthAdjust="spacingAndGlyphs">13</text>
<text x="1816.0" y="1398.8" font-size="13.5" fill="#111" text-anchor="middle" font-weight="bold" textLength="21.2" lengthAdjust="spacingAndGlyphs">14</text>
<text x="1838.2" y="1398.8" font-size="13.5" fill="#111" text-anchor="middle" font-weight="bold" textLength="21.2" lengthAdjust="spacingAndGlyphs">15</text>
<text x="1860.5" y="1398.8" font-size="13.5" fill="#111" text-anchor="middle" font-weight="bold" textLength="21.2" lengthAdjust="spacingAndGlyphs">16</text>
<text x="1882.8" y="1398.8" font-size="13.5" fill="#111" text-anchor="middle" font-weight="bold" textLength="21.2" lengthAdjust="spacingAndGlyphs">17</text>
<text x="1905.1" y="1398.8" font-size="13.5" fill="#111" text-anchor="middle" font-weight="bold" textLength="21.2" lengthAdjust="spacingAndGlyphs">18</text>
<text x="1927.3" y="1398.8" font-size="13.5" fill="#111" text-anchor="middle" font-weight="bold" textLength="21.2" lengthAdjust="spacingAndGlyphs">19</text>
<text x="1949.6" y="1398.8" font-size="13.5" fill="#111" text-anchor="middle" font-weight="bold" textLength="21.2" lengthAdjust="spacingAndGlyphs">20</text>
<text x="1732.7" y="1415.8" font-size="13.5" fill="#111" text-anchor="middle" font-weight="bold" textLength="111.4" lengthAdjust="spacingAndGlyphs">Time (years)</text>
<text transform="translate(1364.0,1361.7) rotate(-90)" x="0" y="10.2" font-size="28.4" fill="#111" text-anchor="middle" textLength="57.4" lengthAdjust="spacingAndGlyphs">Risk</text>
<rect x="1504.2" y="1482.3" width="92.6" height="13.7" fill="#393870"/>
<rect x="1504.2" y="1468.6" width="5.8" height="27.4" fill="#393870"/>
<rect x="1526.5" y="1468.6" width="5.6" height="27.4" fill="#393870"/>
<rect x="1535.2" y="1454.9" width="5.3" height="41.1" fill="#393870"/>
<rect x="1540.5" y="1468.6" width="4.9" height="27.4" fill="#F47D2F"/>
<rect x="1553.0" y="1468.6" width="13.4" height="27.4" fill="#393870"/>
<rect x="1574.1" y="1468.6" width="4.9" height="27.4" fill="#F47D2F"/>
<rect x="1587.5" y="1468.6" width="5.8" height="27.4" fill="#393870"/>
<rect x="1596.8" y="1482.3" width="7.6" height="13.7" fill="#F47D2F"/>
<rect x="1604.4" y="1482.3" width="14.7" height="13.7" fill="#393870"/>
<rect x="1619.1" y="1482.3" width="4.5" height="13.7" fill="#F47D2F"/>
<rect x="1623.6" y="1482.3" width="9.8" height="13.7" fill="#393870"/>
<rect x="1636.9" y="1482.3" width="9.8" height="13.7" fill="#393870"/>
<rect x="1640.7" y="1468.6" width="5.1" height="27.4" fill="#393870"/>
<rect x="1646.7" y="1482.3" width="10.5" height="13.7" fill="#F47D2F"/>
<rect x="1657.2" y="1482.3" width="23.6" height="13.7" fill="#393870"/>
<rect x="1679.0" y="1468.6" width="4.9" height="27.4" fill="#F47D2F"/>
<rect x="1684.6" y="1482.3" width="4.5" height="13.7" fill="#393870"/>
<rect x="1700.2" y="1482.3" width="4.5" height="13.7" fill="#393870"/>
<rect x="1719.1" y="1482.3" width="4.5" height="13.7" fill="#393870"/>
<rect x="1728.7" y="1482.3" width="6.5" height="13.7" fill="#393870"/>
<rect x="1751.4" y="1482.3" width="5.1" height="13.7" fill="#393870"/>
<rect x="1791.5" y="1482.3" width="4.5" height="13.7" fill="#393870"/>
<rect x="1821.3" y="1482.3" width="4.7" height="13.7" fill="#393870"/>
<rect x="1840.0" y="1482.3" width="4.9" height="13.7" fill="#393870"/>
<rect x="1893.5" y="1482.3" width="4.9" height="13.7" fill="#393870"/>
<polyline points="1481.6,1453.6 1481.6,1497.5 1971.8,1497.5" fill="none" stroke="#000" stroke-width="5" stroke-linejoin="miter" stroke-linecap="butt"/>
<text x="1470.5" y="1500.7" font-size="13" fill="#111" text-anchor="middle" font-weight="bold" textLength="10.0" lengthAdjust="spacingAndGlyphs">0</text>
<text x="1470.5" y="1487.0" font-size="13" fill="#111" text-anchor="middle" font-weight="bold" textLength="10.0" lengthAdjust="spacingAndGlyphs">1</text>
<text x="1470.5" y="1473.3" font-size="13" fill="#111" text-anchor="middle" font-weight="bold" textLength="10.0" lengthAdjust="spacingAndGlyphs">2</text>
<text x="1470.5" y="1459.6" font-size="13" fill="#111" text-anchor="middle" font-weight="bold" textLength="10.0" lengthAdjust="spacingAndGlyphs">3</text>
<text x="1504.2" y="1512.3" font-size="13.5" fill="#111" text-anchor="middle" font-weight="bold" textLength="10.6" lengthAdjust="spacingAndGlyphs">0</text>
<text x="1526.5" y="1512.3" font-size="13.5" fill="#111" text-anchor="middle" font-weight="bold" textLength="10.6" lengthAdjust="spacingAndGlyphs">1</text>
<text x="1548.7" y="1512.3" font-size="13.5" fill="#111" text-anchor="middle" font-weight="bold" textLength="10.6" lengthAdjust="spacingAndGlyphs">2</text>
<text x="1571.0" y="1512.3" font-size="13.5" fill="#111" text-anchor="middle" font-weight="bold" textLength="10.6" lengthAdjust="spacingAndGlyphs">3</text>
<text x="1593.3" y="1512.3" font-size="13.5" fill="#111" text-anchor="middle" font-weight="bold" textLength="10.6" lengthAdjust="spacingAndGlyphs">4</text>
<text x="1615.5" y="1512.3" font-size="13.5" fill="#111" text-anchor="middle" font-weight="bold" textLength="10.6" lengthAdjust="spacingAndGlyphs">5</text>
<text x="1637.8" y="1512.3" font-size="13.5" fill="#111" text-anchor="middle" font-weight="bold" textLength="10.6" lengthAdjust="spacingAndGlyphs">6</text>
<text x="1660.1" y="1512.3" font-size="13.5" fill="#111" text-anchor="middle" font-weight="bold" textLength="10.6" lengthAdjust="spacingAndGlyphs">7</text>
<text x="1682.4" y="1512.3" font-size="13.5" fill="#111" text-anchor="middle" font-weight="bold" textLength="10.6" lengthAdjust="spacingAndGlyphs">8</text>
<text x="1704.6" y="1512.3" font-size="13.5" fill="#111" text-anchor="middle" font-weight="bold" textLength="10.6" lengthAdjust="spacingAndGlyphs">9</text>
<text x="1726.9" y="1512.3" font-size="13.5" fill="#111" text-anchor="middle" font-weight="bold" textLength="21.2" lengthAdjust="spacingAndGlyphs">10</text>
<text x="1749.2" y="1512.3" font-size="13.5" fill="#111" text-anchor="middle" font-weight="bold" textLength="21.2" lengthAdjust="spacingAndGlyphs">11</text>
<text x="1771.4" y="1512.3" font-size="13.5" fill="#111" text-anchor="middle" font-weight="bold" textLength="21.2" lengthAdjust="spacingAndGlyphs">12</text>
<text x="1793.7" y="1512.3" font-size="13.5" fill="#111" text-anchor="middle" font-weight="bold" textLength="21.2" lengthAdjust="spacingAndGlyphs">13</text>
<text x="1816.0" y="1512.3" font-size="13.5" fill="#111" text-anchor="middle" font-weight="bold" textLength="21.2" lengthAdjust="spacingAndGlyphs">14</text>
<text x="1838.2" y="1512.3" font-size="13.5" fill="#111" text-anchor="middle" font-weight="bold" textLength="21.2" lengthAdjust="spacingAndGlyphs">15</text>
<text x="1860.5" y="1512.3" font-size="13.5" fill="#111" text-anchor="middle" font-weight="bold" textLength="21.2" lengthAdjust="spacingAndGlyphs">16</text>
<text x="1882.8" y="1512.3" font-size="13.5" fill="#111" text-anchor="middle" font-weight="bold" textLength="21.2" lengthAdjust="spacingAndGlyphs">17</text>
<text x="1905.1" y="1512.3" font-size="13.5" fill="#111" text-anchor="middle" font-weight="bold" textLength="21.2" lengthAdjust="spacingAndGlyphs">18</text>
<text x="1927.3" y="1512.3" font-size="13.5" fill="#111" text-anchor="middle" font-weight="bold" textLength="21.2" lengthAdjust="spacingAndGlyphs">19</text>
<text x="1949.6" y="1512.3" font-size="13.5" fill="#111" text-anchor="middle" font-weight="bold" textLength="21.2" lengthAdjust="spacingAndGlyphs">20</text>
<text x="1732.7" y="1529.8" font-size="13.5" fill="#111" text-anchor="middle" font-weight="bold" textLength="111.4" lengthAdjust="spacingAndGlyphs">Time (years)</text>
<text x="1482.3" y="1443.3" font-size="16" fill="#111" font-weight="bold" textLength="222.9" lengthAdjust="spacingAndGlyphs">Number of censoring</text>
<text transform="translate(1364.0,1466.6) rotate(-90)" x="0" y="10.2" font-size="28.4" fill="#111" text-anchor="middle" textLength="110.5" lengthAdjust="spacingAndGlyphs">n.censor</text>
<path transform="scale(1,1.1905)" d="M903.7 285.6h0M905.4 285.4h0M907.2 285.2h0M908.9 285.1h0M910.7 284.9h0M912.4 284.7h0M914.2 284.5h0M915.9 284.3h0M917.7 284.3h0M919.4 284.2h0M921.2 284.1h0M923.0 284.0h0M924.7 284.0h0M926.5 283.9h0M928.2 283.8h0M930.0 283.7h0M931.7 283.7h0M933.5 283.6h0M935.2 283.5h0M937.0 283.4h0M938.7 283.4h0M940.5 283.3h0M942.3 283.2h0M944.0 283.1h0M945.8 283.1h0M947.5 283.0h0M949.3 282.9h0M951.0 282.8h0M952.8 282.8h0M954.5 282.7h0M956.3 282.6h0M958.0 282.5h0M959.8 282.5h0M961.6 282.4h0M963.3 282.3h0M965.1 282.2h0M966.8 282.2h0M968.6 282.1h0M970.3 282.0h0M972.1 281.9h0M973.8 281.9h0M975.6 281.8h0M977.3 281.7h0M979.1 281.6h0M980.9 281.5h0M982.6 281.5h0M984.4 281.4h0M986.1 281.3h0M987.9 281.2h0M989.6 281.2h0M991.4 281.1h0M993.1 281.0h0M994.9 281.0h0M996.6 280.9h0M998.4 280.9h0M1000.2 280.8h0M1001.9 280.7h0M1003.7 280.7h0M1005.4 280.6h0M1007.2 280.5h0M1008.9 280.5h0M1010.7 280.4h0M1012.4 280.4h0M1014.2 280.3h0M1015.9 280.2h0M1017.7 280.2h0M1019.5 280.1h0M1021.2 280.0h0M1023.0 280.0h0M1024.7 279.9h0M1026.5 279.8h0M1028.2 279.8h0M1030.0 279.7h0M1031.7 279.7h0M1033.5 279.6h0M1035.2 279.5h0M1037.0 279.5h0M1038.8 279.4h0M1040.5 279.3h0M1042.3 279.3h0M1044.0 279.2h0M1045.8 279.2h0M1047.5 279.1h0M1049.3 279.0h0M1051.0 279.0h0M1052.8 278.9h0M1054.5 278.8h0M1056.3 278.8h0M1058.1 278.7h0M1059.8 278.6h0M1061.6 278.6h0M1063.3 278.5h0M1065.1 278.5h0M1066.8 278.4h0M1068.6 278.3h0M1070.3 278.3h0M1072.1 278.2h0M1073.8 278.1h0M1075.6 278.1h0M1077.3 278.0h0M1079.1 277.9h0M1080.9 277.8h0M1082.6 277.7h0M1084.4 277.6h0M1086.1 277.5h0M1087.9 277.4h0M1089.6 277.3h0M1091.4 277.2h0M1093.1 277.1h0M1094.9 277.0h0M1096.6 276.9h0M1098.4 276.7h0M1100.2 276.6h0M1101.9 276.5h0M1103.7 276.4h0M1105.4 276.3h0M1107.2 276.2h0M1108.9 276.1h0M1110.7 276.0h0M1112.4 275.9h0M1114.2 275.7h0M1115.9 275.5h0M1117.7 275.3h0M1119.5 275.1h0M1121.2 274.9h0M1123.0 274.7h0M1124.7 274.5h0M1126.5 274.3h0M1128.2 274.1h0M1130.0 273.9h0M1131.7 273.7h0M1133.5 273.5h0M1135.2 273.3h0M1137.0 273.1h0M1138.8 272.9h0M1140.5 272.7h0M1142.3 272.5h0M1144.0 272.3h0M1145.8 272.1h0" stroke="#393870" stroke-width="8.4" stroke-linecap="round" fill="none"/>
<path transform="scale(1,1.1905)" d="M1147.5 271.8h0M1149.3 271.5h0M1151.0 271.1h0M1152.8 270.8h0M1154.5 270.5h0M1156.3 270.2h0M1158.1 269.8h0M1159.8 269.5h0M1161.6 269.2h0M1163.3 268.9h0M1165.1 268.5h0M1166.8 268.1h0M1168.6 267.7h0M1170.3 267.3h0M1172.1 266.8h0M1173.8 266.4h0M1175.6 266.0h0M1177.4 265.6h0M1179.1 265.2h0M1180.9 264.7h0M1182.6 264.3h0M1184.4 263.6h0M1186.1 262.8h0M1187.9 262.1h0M1189.6 261.4h0M1191.4 260.6h0M1193.1 259.9h0M1194.9 259.2h0M1196.7 258.4h0M1198.4 257.7h0M1200.2 256.9h0M1201.9 256.0h0M1203.7 255.1h0M1205.4 254.2h0M1207.2 253.2h0M1208.9 252.3h0M1210.7 251.8h0M1212.4 251.2h0M1214.2 250.7h0M1216.0 250.1h0M1217.7 249.6h0M1219.5 249.0h0M1221.2 248.5h0M1223.0 248.0h0M1224.7 247.5h0M1226.5 246.9h0M1228.2 246.4h0M1230.0 245.9h0M1231.7 245.4h0M1233.5 244.3h0M1235.3 243.3h0M1237.0 242.2h0M1238.8 238.0h0M1240.5 233.8h0M1242.3 229.6h0M1244.0 225.3h0M1245.8 215.9h0M1247.5 215.1h0M1252.8 212.7h0M1254.6 204.3h0M1256.3 195.9h0M1261.6 181.1h0M1263.3 176.9h0M1265.1 172.7h0M1266.8 168.5h0M1268.6 155.8h0M1270.3 149.5h0M1273.9 120.0h0M1277.4 88.4h0M1279.1 75.8h0M1280.9 75.8h0M1282.6 75.8h0M1284.4 75.8h0M1286.1 75.8h0M1287.9 75.8h0M1289.6 75.8h0M1291.4 75.8h0M1293.2 75.8h0M1294.9 75.8h0M1296.7 75.8h0M1298.4 75.8h0M1300.2 75.8h0M1301.9 75.8h0M1303.7 75.8h0M1305.4 75.8h0M1307.2 75.8h0M1308.9 75.8h0M1310.7 75.8h0M1312.5 75.8h0M1314.2 75.8h0M1316.0 75.8h0M1317.7 75.8h0M1319.5 75.8h0M1321.2 75.8h0" stroke="#F47D2F" stroke-width="8.4" stroke-linecap="round" fill="none"/>
<line x1="888.2" y1="323.9" x2="1337.0" y2="323.9" stroke="#111" stroke-width="3" stroke-dasharray="11 17" stroke-dashoffset="-6"/>
<line x1="1146.3" y1="80.2" x2="1146.3" y2="349.5" stroke="#111" stroke-width="3.2" stroke-dasharray="12 16" stroke-dashoffset="-4"/>
<rect x="888.2" y="80.2" width="448.8" height="269.3" fill="none" stroke="#000" stroke-width="4.6"/>
<line x1="901.9" y1="351.8" x2="901.9" y2="359.8" stroke="#000" stroke-width="3.4"/>
<text x="901.9" y="392.9" font-size="27" fill="#1c1c1c" text-anchor="middle">0</text>
<line x1="989.6" y1="351.8" x2="989.6" y2="359.8" stroke="#000" stroke-width="3.4"/>
<text x="989.6" y="392.9" font-size="27" fill="#1c1c1c" text-anchor="middle">50</text>
<line x1="1077.3" y1="351.8" x2="1077.3" y2="359.8" stroke="#000" stroke-width="3.4"/>
<text x="1077.3" y="392.9" font-size="27" fill="#1c1c1c" text-anchor="middle">100</text>
<line x1="1165.1" y1="351.8" x2="1165.1" y2="359.8" stroke="#000" stroke-width="3.4"/>
<text x="1165.1" y="392.9" font-size="27" fill="#1c1c1c" text-anchor="middle">150</text>
<line x1="1252.8" y1="351.8" x2="1252.8" y2="359.8" stroke="#000" stroke-width="3.4"/>
<text x="1252.8" y="392.9" font-size="27" fill="#1c1c1c" text-anchor="middle">200</text>
<line x1="877.9" y1="341.0" x2="885.9" y2="341.0" stroke="#000" stroke-width="3.4"/>
<text x="873.0" y="350.7" font-size="27" fill="#1c1c1c" text-anchor="end">0</text>
<line x1="877.9" y1="290.8" x2="885.9" y2="290.8" stroke="#000" stroke-width="3.4"/>
<text x="873.0" y="300.5" font-size="27" fill="#1c1c1c" text-anchor="end">2</text>
<line x1="877.9" y1="240.7" x2="885.9" y2="240.7" stroke="#000" stroke-width="3.4"/>
<text x="873.0" y="250.3" font-size="27" fill="#1c1c1c" text-anchor="end">4</text>
<line x1="877.9" y1="190.5" x2="885.9" y2="190.5" stroke="#000" stroke-width="3.4"/>
<text x="873.0" y="200.2" font-size="27" fill="#1c1c1c" text-anchor="end">6</text>
<line x1="877.9" y1="140.4" x2="885.9" y2="140.4" stroke="#000" stroke-width="3.4"/>
<text x="873.0" y="150.0" font-size="27" fill="#1c1c1c" text-anchor="end">8</text>
<line x1="877.9" y1="90.2" x2="885.9" y2="90.2" stroke="#000" stroke-width="3.4"/>
<text x="873.0" y="99.9" font-size="27" fill="#1c1c1c" text-anchor="end">10</text>
<text x="1112.0" y="430.2" font-size="27" fill="#1c1c1c" text-anchor="middle" textLength="391.7" lengthAdjust="spacingAndGlyphs">Patients (increasing risk score)</text>
<text transform="translate(823.5,213.0) rotate(-90)" x="0" y="9.7" font-size="27" fill="#1c1c1c" text-anchor="middle" textLength="132.0" lengthAdjust="spacingAndGlyphs">Risk score</text>
<ellipse cx="901.0" cy="110.0" rx="5.2" ry="7.2" fill="#F47D2F"/>
<ellipse cx="901.0" cy="140.0" rx="5.2" ry="7.2" fill="#393870"/>
<text x="914.2" y="120.1" font-size="27" fill="#1c1c1c" textLength="110.6" lengthAdjust="spacingAndGlyphs">High risk</text>
<text x="914.2" y="150.9" font-size="27" fill="#1c1c1c" textLength="103.6" lengthAdjust="spacingAndGlyphs">Low risk</text>
<path transform="scale(1,1.2727)" d="M1537.1 236.7h0M1555.9 217.6h0M1567.8 242.4h0M1647.9 235.3h0M1659.8 264.2h0M1666.6 252.8h0M1693.9 242.6h0M1722.8 252.1h0M1770.6 261.8h0M1779.1 232.7h0M1804.6 248.3h0M1806.3 252.0h0M1850.6 231.9h0M1854.1 264.6h0M1860.9 241.6h0M1546.3 120.9h0M1550.1 169.2h0M1604.6 143.7h0M1655.9 128.5h0M1635.4 189.5h0M1628.6 199.6h0M1700.0 195.8h0M1743.1 87.8h0M1748.4 146.3h0M1760.5 206.0h0M1809.9 104.4h0M1818.4 156.5h0M1785.7 200.9h0M1833.8 183.1h0M1844.3 188.2h0M1876.5 200.9h0M1924.9 126.0h0M1912.5 209.2h0M1921.0 212.4h0M1822.4 212.9h0" stroke="#F47D2F" stroke-width="8.8" stroke-linecap="round" fill="none"/>
<path transform="scale(1,1.2727)" d="M1535.4 253.6h0M1538.8 243.0h0M1540.5 264.3h0M1542.2 264.9h0M1543.9 263.9h0M1547.3 248.7h0M1549.0 262.1h0M1552.4 238.0h0M1554.1 240.8h0M1557.6 224.8h0M1561.0 261.3h0M1562.7 254.3h0M1564.4 259.9h0M1566.1 237.4h0M1569.5 264.3h0M1571.2 235.1h0M1572.9 254.1h0M1574.6 247.3h0M1576.3 228.6h0M1578.0 257.2h0M1579.7 243.6h0M1581.4 232.3h0M1583.1 217.4h0M1586.5 249.1h0M1588.2 261.0h0M1589.9 264.9h0M1591.6 230.3h0M1593.3 223.8h0M1595.0 234.3h0M1596.7 240.6h0M1598.5 225.9h0M1600.2 246.2h0M1601.9 264.2h0M1603.6 237.0h0M1607.0 226.9h0M1608.7 250.6h0M1610.4 265.3h0M1612.1 260.4h0M1613.8 264.3h0M1615.5 261.9h0M1617.2 250.4h0M1618.9 263.6h0M1620.6 242.3h0M1622.3 227.1h0M1624.0 255.7h0M1625.7 252.0h0M1627.4 218.8h0M1630.8 260.1h0M1632.5 257.7h0M1634.2 240.1h0M1639.3 265.7h0M1641.1 251.5h0M1642.8 219.1h0M1644.5 244.1h0M1649.6 222.3h0M1651.3 223.8h0M1654.7 250.3h0M1658.1 262.8h0M1661.5 258.7h0M1668.3 265.7h0M1670.0 262.9h0M1671.7 265.2h0M1673.4 238.8h0M1676.8 256.9h0M1678.5 251.7h0M1680.2 225.3h0M1681.9 246.6h0M1683.7 263.4h0M1685.4 252.7h0M1688.8 226.5h0M1690.5 265.3h0M1692.2 243.4h0M1695.6 243.4h0M1697.3 224.5h0M1704.1 256.5h0M1705.8 260.4h0M1710.9 243.2h0M1712.6 253.3h0M1714.3 227.6h0M1717.7 225.1h0M1719.4 227.1h0M1721.1 258.0h0M1724.5 265.1h0M1726.3 256.6h0M1728.0 218.8h0M1729.7 220.0h0M1731.4 218.9h0M1733.1 258.2h0M1734.8 259.2h0M1736.5 238.2h0M1738.2 225.8h0M1739.9 236.6h0M1741.6 263.4h0M1745.0 221.7h0M1750.1 231.1h0M1751.8 260.0h0M1753.5 253.2h0M1755.2 217.9h0M1756.9 249.9h0M1758.6 232.6h0M1762.0 262.0h0M1763.7 222.0h0M1765.4 261.2h0M1767.1 217.4h0M1768.9 252.4h0M1772.3 224.3h0M1774.0 248.1h0M1777.4 252.3h0M1787.6 259.4h0M1789.3 259.8h0M1792.7 259.2h0M1794.4 263.2h0M1796.1 255.6h0M1797.8 245.4h0M1799.5 252.9h0M1802.9 249.3h0M1811.5 265.7h0M1813.2 262.0h0M1814.9 238.2h0M1820.0 256.7h0M1823.4 246.8h0M1825.1 263.8h0M1826.8 259.6h0M1828.5 235.6h0M1830.2 246.4h0M1831.9 227.7h0M1837.0 244.0h0M1838.7 248.8h0M1840.4 251.5h0M1842.1 250.3h0M1845.5 239.5h0M1847.2 226.0h0M1848.9 246.6h0M1852.3 263.5h0M1855.8 264.6h0M1857.5 235.0h0M1859.2 262.6h0M1862.6 229.4h0M1867.7 261.0h0M1871.1 231.9h0M1886.4 263.9h0M1888.1 241.3h0M1891.5 264.2h0M1894.9 255.4h0M1898.4 262.5h0M1905.2 263.8h0M1906.9 247.8h0M1908.6 263.6h0M1910.3 263.9h0M1915.4 250.9h0M1558.9 101.8h0M1584.3 124.7h0M1663.0 73.9h0M1664.7 84.0h0M1708.9 136.1h0M1707.2 142.5h0M1715.9 153.9h0M1686.9 173.6h0M1698.6 174.9h0M1702.4 187.5h0M1746.7 170.9h0M1646.7 188.2h0M1653.2 188.2h0M1637.1 202.2h0M1674.8 204.7h0M1784.4 137.4h0M1816.2 166.6h0M1783.0 180.6h0M1776.0 193.3h0M1808.6 203.5h0M1801.6 206.0h0M1790.8 212.4h0M1863.4 209.8h0M1866.2 218.7h0M1780.8 216.8h0M1835.8 221.2h0" stroke="#393870" stroke-width="8.8" stroke-linecap="round" fill="none"/>
<path transform="scale(1,1.2727)" d="M1869.4 256.1h0M1872.8 262.3h0M1874.5 252.2h0M1877.9 261.6h0M1879.6 244.2h0M1881.3 250.8h0M1883.0 264.4h0M1884.7 248.2h0M1889.8 263.3h0M1893.2 259.8h0M1896.7 240.0h0M1900.1 250.2h0M1901.8 263.6h0M1903.5 245.6h0M1913.7 254.3h0M1917.1 259.9h0M1918.8 251.8h0M1922.2 263.2h0M1923.9 264.1h0M1927.3 258.7h0M1929.0 242.6h0M1930.7 252.8h0M1932.4 257.7h0M1934.1 260.3h0M1935.8 243.7h0M1937.5 261.7h0M1939.3 234.6h0M1941.0 240.0h0" stroke="#F47D2F" stroke-width="8.8" stroke-linecap="round" fill="none"/>
<line x1="1770.7" y1="84.0" x2="1770.7" y2="349.0" stroke="#111" stroke-width="3.2" stroke-dasharray="12 16" stroke-dashoffset="-4"/>
<rect x="1518.0" y="84.0" width="440.8" height="265.0" fill="none" stroke="#000" stroke-width="4.4"/>
<line x1="1533.7" y1="351.2" x2="1533.7" y2="359.2" stroke="#000" stroke-width="3.4"/>
<text x="1533.7" y="392.9" font-size="27" fill="#1c1c1c" text-anchor="middle">0</text>
<line x1="1618.9" y1="351.2" x2="1618.9" y2="359.2" stroke="#000" stroke-width="3.4"/>
<text x="1618.9" y="392.9" font-size="27" fill="#1c1c1c" text-anchor="middle">50</text>
<line x1="1704.1" y1="351.2" x2="1704.1" y2="359.2" stroke="#000" stroke-width="3.4"/>
<text x="1704.1" y="392.9" font-size="27" fill="#1c1c1c" text-anchor="middle">100</text>
<line x1="1789.3" y1="351.2" x2="1789.3" y2="359.2" stroke="#000" stroke-width="3.4"/>
<text x="1789.3" y="392.9" font-size="27" fill="#1c1c1c" text-anchor="middle">150</text>
<line x1="1874.5" y1="351.2" x2="1874.5" y2="359.2" stroke="#000" stroke-width="3.4"/>
<text x="1874.5" y="392.9" font-size="27" fill="#1c1c1c" text-anchor="middle">200</text>
<line x1="1507.8" y1="339.8" x2="1515.8" y2="339.8" stroke="#000" stroke-width="3.4"/>
<text x="1503.0" y="349.5" font-size="27" fill="#1c1c1c" text-anchor="end">0</text>
<line x1="1507.8" y1="258.9" x2="1515.8" y2="258.9" stroke="#000" stroke-width="3.4"/>
<text x="1503.0" y="268.6" font-size="27" fill="#1c1c1c" text-anchor="end">5</text>
<line x1="1507.8" y1="178.1" x2="1515.8" y2="178.1" stroke="#000" stroke-width="3.4"/>
<text x="1503.0" y="187.8" font-size="27" fill="#1c1c1c" text-anchor="end">10</text>
<line x1="1507.8" y1="97.2" x2="1515.8" y2="97.2" stroke="#000" stroke-width="3.4"/>
<text x="1503.0" y="106.9" font-size="27" fill="#1c1c1c" text-anchor="end">15</text>
<text x="1724.0" y="430.2" font-size="27" fill="#1c1c1c" text-anchor="middle" textLength="391.7" lengthAdjust="spacingAndGlyphs">Patients (increasing risk score)</text>
<text transform="translate(1444.0,232.0) rotate(-90)" x="0" y="9.7" font-size="27" fill="#1c1c1c" text-anchor="middle" textLength="258.0" lengthAdjust="spacingAndGlyphs">Survival time (years)</text>
<ellipse cx="1531.8" cy="113.6" rx="5" ry="6.6" fill="#F47D2F"/>
<ellipse cx="1531.8" cy="143.6" rx="5" ry="6.6" fill="#393870"/>
<text x="1543.6" y="119.5" font-size="27" fill="#1c1c1c" textLength="67.0" lengthAdjust="spacingAndGlyphs">Dead</text>
<text x="1543.6" y="151.7" font-size="27" fill="#1c1c1c" textLength="60.0" lengthAdjust="spacingAndGlyphs">Alive</text>
<path transform="scale(1,1.2000)" d="M183.3 1629.4h0M184.1 1629.2h0M185.0 1629.0h0M185.8 1628.8h0M186.7 1628.6h0M187.5 1628.5h0M188.4 1628.3h0M189.2 1628.1h0M190.1 1627.9h0M191.0 1627.7h0M191.8 1627.7h0M192.7 1627.6h0M193.5 1627.6h0M194.4 1627.5h0M195.2 1627.5h0M196.1 1627.4h0M196.9 1627.4h0M197.8 1627.4h0M198.6 1627.3h0M199.5 1627.3h0M200.4 1627.2h0M201.2 1627.2h0M202.1 1627.1h0M202.9 1627.1h0M203.8 1627.1h0M204.6 1627.0h0M205.5 1627.0h0M206.3 1626.9h0M207.2 1626.9h0M208.1 1626.9h0M208.9 1626.8h0M209.8 1626.8h0M210.6 1626.7h0M211.5 1626.7h0M212.3 1626.6h0M213.2 1626.6h0M214.0 1626.6h0M214.9 1626.5h0M215.7 1626.5h0M216.6 1626.4h0M217.5 1626.4h0M218.3 1626.3h0M219.2 1626.3h0M220.0 1626.3h0M220.9 1626.2h0M221.7 1626.2h0M222.6 1626.1h0M223.4 1626.1h0M224.3 1626.0h0M225.2 1626.0h0M226.0 1626.0h0M226.9 1625.9h0M227.7 1625.9h0M228.6 1625.8h0M229.4 1625.8h0M230.3 1625.7h0M231.1 1625.7h0M232.0 1625.7h0M232.8 1625.6h0M233.7 1625.6h0M234.6 1625.5h0M235.4 1625.5h0M236.3 1625.4h0M237.1 1625.4h0M238.0 1625.4h0M238.8 1625.3h0M239.7 1625.3h0M240.5 1625.2h0M241.4 1625.2h0M242.2 1625.2h0M243.1 1625.1h0M244.0 1625.1h0M244.8 1625.0h0M245.7 1625.0h0M246.5 1624.9h0M247.4 1624.9h0M248.2 1624.9h0M249.1 1624.8h0M249.9 1624.8h0M250.8 1624.7h0M251.7 1624.7h0M252.5 1624.6h0M253.4 1624.6h0M254.2 1624.6h0M255.1 1624.5h0M255.9 1624.5h0M256.8 1624.4h0M257.6 1624.4h0M258.5 1624.3h0M259.4 1624.3h0M260.2 1624.3h0M261.1 1624.2h0M261.9 1624.2h0M262.8 1624.1h0M263.6 1624.1h0M264.5 1624.0h0M265.3 1624.0h0M266.2 1624.0h0M267.0 1623.9h0M267.9 1623.9h0M268.8 1623.8h0M269.6 1623.8h0M270.5 1623.8h0M271.3 1623.7h0M272.2 1623.7h0M273.0 1623.6h0M273.9 1623.6h0M274.7 1623.6h0M275.6 1623.5h0M276.4 1623.5h0M277.3 1623.5h0M278.2 1623.4h0M279.0 1623.4h0M279.9 1623.3h0M280.7 1623.3h0M281.6 1623.3h0M282.4 1623.2h0M283.3 1623.2h0M284.1 1623.1h0M285.0 1623.1h0M285.9 1623.1h0M286.7 1623.0h0M287.6 1623.0h0M288.4 1623.0h0M289.3 1622.9h0M290.1 1622.9h0M291.0 1622.8h0M291.8 1622.8h0M292.7 1622.8h0M293.6 1622.7h0M294.4 1622.7h0M295.3 1622.7h0M296.1 1622.6h0M297.0 1622.6h0M297.8 1622.5h0M298.7 1622.5h0M299.5 1622.5h0M300.4 1622.4h0M301.2 1622.4h0M302.1 1622.3h0M303.0 1622.3h0M303.8 1622.3h0M304.7 1622.2h0M305.5 1622.2h0M306.4 1622.2h0M307.2 1622.1h0M308.1 1622.1h0M308.9 1622.0h0M309.8 1622.0h0M310.6 1622.0h0M311.5 1621.9h0M312.4 1621.9h0M313.2 1621.8h0M314.1 1621.8h0M314.9 1621.8h0M315.8 1621.7h0M316.6 1621.7h0M317.5 1621.7h0M318.3 1621.6h0M319.2 1621.6h0M320.1 1621.5h0M320.9 1621.5h0M321.8 1621.5h0M322.6 1621.4h0M323.5 1621.4h0M324.3 1621.4h0M325.2 1621.3h0M326.0 1621.3h0M326.9 1621.2h0M327.8 1621.2h0M328.6 1621.2h0M329.5 1621.1h0M330.3 1621.1h0M331.2 1621.0h0M332.0 1621.0h0M332.9 1621.0h0M333.7 1620.9h0M334.6 1620.9h0M335.4 1620.9h0M336.3 1620.8h0M337.2 1620.8h0M338.0 1620.7h0M338.9 1620.7h0M339.7 1620.7h0M340.6 1620.6h0M341.4 1620.6h0M342.3 1620.5h0M343.1 1620.5h0M344.0 1620.5h0M344.9 1620.4h0M345.7 1620.4h0M346.6 1620.4h0M347.4 1620.3h0M348.3 1620.3h0M349.1 1620.2h0M350.0 1620.2h0M350.8 1620.2h0M351.7 1620.1h0M352.5 1620.1h0M353.4 1620.0h0M354.3 1620.0h0M355.1 1619.9h0M356.0 1619.9h0M356.8 1619.8h0M357.7 1619.7h0M358.5 1619.7h0M359.4 1619.6h0M360.2 1619.5h0M361.1 1619.5h0M361.9 1619.4h0M362.8 1619.3h0M363.7 1619.3h0M364.5 1619.2h0M365.4 1619.2h0M366.2 1619.1h0M367.1 1619.0h0M367.9 1619.0h0M368.8 1618.9h0M369.6 1618.8h0M370.5 1618.8h0M371.4 1618.7h0M372.2 1618.6h0M373.1 1618.6h0M373.9 1618.5h0M374.8 1618.5h0M375.6 1618.4h0M376.5 1618.3h0M377.3 1618.3h0M378.2 1618.2h0M379.1 1618.1h0M379.9 1618.1h0M380.8 1618.0h0M381.6 1617.9h0M382.5 1617.9h0M383.3 1617.8h0M384.2 1617.8h0M385.0 1617.7h0M385.9 1617.6h0M386.7 1617.6h0M387.6 1617.5h0M388.5 1617.4h0M389.3 1617.2h0M390.2 1617.1h0M391.0 1617.0h0M391.9 1616.8h0M392.7 1616.7h0M393.6 1616.6h0M394.4 1616.4h0M395.3 1616.3h0M396.1 1616.2h0M397.0 1616.0h0M397.9 1615.9h0M398.7 1615.8h0M399.6 1615.6h0M400.4 1615.5h0M401.3 1615.4h0M402.1 1615.2h0M403.0 1615.1h0M403.8 1615.0h0" stroke="#393870" stroke-width="8.0" stroke-linecap="round" fill="none"/>
<path transform="scale(1,1.2000)" d="M404.7 1614.8h0M405.6 1614.7h0M406.4 1614.6h0M407.3 1614.5h0M408.1 1614.4h0M409.0 1614.3h0M409.8 1614.2h0M410.7 1614.1h0M411.5 1614.0h0M412.4 1613.9h0M413.2 1613.7h0M414.1 1613.6h0M415.0 1613.5h0M415.8 1613.4h0M416.7 1613.3h0M417.5 1613.2h0M418.4 1613.1h0M419.2 1613.0h0M420.1 1612.9h0M420.9 1612.8h0M421.8 1612.6h0M422.7 1612.5h0M423.5 1612.4h0M424.4 1612.3h0M425.2 1612.2h0M426.1 1612.1h0M426.9 1612.0h0M427.8 1611.9h0M428.6 1611.8h0M429.5 1611.7h0M430.4 1611.5h0M431.2 1611.4h0M432.1 1611.2h0M432.9 1611.1h0M433.8 1610.9h0M434.6 1610.8h0M435.5 1610.6h0M436.3 1610.5h0M437.2 1610.3h0M438.0 1610.2h0M438.9 1610.0h0M439.8 1609.9h0M440.6 1609.7h0M441.5 1609.6h0M442.3 1609.4h0M443.2 1609.3h0M444.0 1609.1h0M444.9 1609.0h0M445.7 1608.8h0M446.6 1608.7h0M447.5 1608.5h0M448.3 1608.4h0M449.2 1608.2h0M450.0 1608.1h0M450.9 1607.9h0M451.7 1607.7h0M452.6 1607.5h0M453.4 1607.3h0M454.3 1607.1h0M455.1 1606.9h0M456.0 1606.7h0M456.9 1606.5h0M457.7 1606.2h0M458.6 1606.0h0M459.4 1605.8h0M460.3 1605.6h0M461.1 1605.4h0M462.0 1605.2h0M462.8 1605.0h0M463.7 1604.8h0M464.5 1604.5h0M465.4 1604.3h0M466.3 1604.1h0M467.1 1603.9h0M468.0 1603.7h0M468.8 1603.5h0M469.7 1603.3h0M470.5 1603.0h0M471.4 1602.8h0M472.2 1602.4h0M473.1 1601.9h0M474.0 1601.5h0M474.8 1601.0h0M475.7 1600.6h0M476.5 1600.2h0M477.4 1599.7h0M478.2 1599.3h0M479.1 1598.8h0M479.9 1598.4h0M480.8 1597.9h0M481.6 1597.5h0M482.5 1597.0h0M483.4 1596.6h0M484.2 1596.1h0M485.1 1595.7h0M485.9 1595.2h0M486.8 1594.8h0M487.6 1594.3h0M488.5 1593.9h0M489.3 1593.5h0M490.2 1593.1h0M491.1 1592.6h0M491.9 1592.2h0M492.8 1591.8h0M493.6 1591.4h0M494.5 1590.9h0M495.3 1590.5h0M496.2 1590.1h0M497.0 1589.7h0M497.9 1589.2h0M498.8 1587.9h0M499.6 1586.5h0M500.5 1585.2h0M501.3 1583.9h0M502.2 1582.5h0M503.0 1581.2h0M503.9 1579.8h0M504.7 1578.5h0M505.6 1577.1h0M506.4 1576.0h0M507.3 1574.8h0M508.2 1573.6h0M509.0 1572.5h0M509.9 1571.3h0M510.7 1570.1h0M511.6 1568.9h0M512.4 1567.8h0M513.3 1566.6h0M514.1 1565.4h0M515.0 1563.8h0M515.9 1562.1h0M516.7 1560.4h0M517.6 1558.8h0M518.4 1557.1h0M519.3 1555.4h0M520.1 1553.8h0M521.0 1551.5h0M521.8 1549.3h0M522.7 1547.0h0M523.5 1544.8h0M524.4 1542.5h0M525.3 1540.3h0M526.1 1538.0h0M527.0 1535.9h0M527.8 1533.8h0M528.7 1531.7h0M529.5 1529.5h0M530.4 1527.4h0M531.2 1525.3h0M532.1 1523.2h0M533.0 1521.0h0M533.8 1517.5h0M534.7 1514.0h0M535.5 1510.5h0M536.4 1507.0h0M537.2 1503.6h0M538.1 1500.2h0M538.9 1496.8h0M539.8 1493.4h0M540.6 1490.0h0M541.5 1485.8h0M542.4 1481.5h0M543.2 1477.2h0M544.1 1473.0h0M545.8 1459.4h0M546.6 1452.6h0M548.3 1440.7h0M549.2 1434.8h0M550.9 1422.0h0M551.8 1419.9h0M552.6 1417.8h0M553.5 1417.8h0M554.3 1417.8h0M555.2 1417.8h0M556.0 1417.8h0M556.9 1417.8h0M557.7 1417.8h0M558.6 1417.8h0M559.5 1417.8h0M560.3 1417.8h0M561.2 1417.8h0M562.0 1417.8h0M562.9 1417.8h0M563.7 1417.8h0M564.6 1417.8h0M565.4 1417.8h0M566.3 1417.8h0M567.1 1417.8h0M568.0 1417.8h0M568.9 1417.8h0M569.7 1417.8h0M570.6 1417.8h0M571.4 1417.8h0M572.3 1417.8h0M573.1 1417.8h0M574.0 1417.8h0M574.8 1417.8h0M575.7 1417.8h0M576.6 1417.8h0M577.4 1417.8h0M578.3 1417.8h0M579.1 1417.8h0M580.0 1417.8h0M580.8 1417.8h0M581.7 1417.8h0M582.5 1417.8h0M583.4 1417.8h0M584.2 1417.8h0M585.1 1417.8h0M586.0 1417.8h0M586.8 1417.8h0M587.7 1417.8h0M588.5 1417.8h0M589.4 1417.8h0M590.2 1417.8h0M591.1 1417.8h0M591.9 1417.8h0M592.8 1417.8h0" stroke="#F47D2F" stroke-width="8.0" stroke-linecap="round" fill="none"/>
<line x1="168.1" y1="1938.0" x2="609.1" y2="1938.0" stroke="#111" stroke-width="3" stroke-dasharray="11 17" stroke-dashoffset="-6"/>
<line x1="404.3" y1="1691.3" x2="404.3" y2="1966.0" stroke="#111" stroke-width="3.2" stroke-dasharray="12 16" stroke-dashoffset="-4"/>
<rect x="168.1" y="1691.3" width="441.0" height="274.7" fill="none" stroke="#000" stroke-width="4.6"/>
<line x1="182.4" y1="1968.3" x2="182.4" y2="1976.3" stroke="#000" stroke-width="3.4"/>
<text x="182.4" y="2007.0" font-size="27" fill="#1c1c1c" text-anchor="middle">0</text>
<line x1="267.9" y1="1968.3" x2="267.9" y2="1976.3" stroke="#000" stroke-width="3.4"/>
<text x="267.9" y="2007.0" font-size="27" fill="#1c1c1c" text-anchor="middle">100</text>
<line x1="353.4" y1="1968.3" x2="353.4" y2="1976.3" stroke="#000" stroke-width="3.4"/>
<text x="353.4" y="2007.0" font-size="27" fill="#1c1c1c" text-anchor="middle">200</text>
<line x1="438.9" y1="1968.3" x2="438.9" y2="1976.3" stroke="#000" stroke-width="3.4"/>
<text x="438.9" y="2007.0" font-size="27" fill="#1c1c1c" text-anchor="middle">300</text>
<line x1="524.4" y1="1968.3" x2="524.4" y2="1976.3" stroke="#000" stroke-width="3.4"/>
<text x="524.4" y="2007.0" font-size="27" fill="#1c1c1c" text-anchor="middle">400</text>
<line x1="157.8" y1="1956.3" x2="165.8" y2="1956.3" stroke="#000" stroke-width="3.4"/>
<text x="147.0" y="1966.0" font-size="27" fill="#1c1c1c" text-anchor="end">0</text>
<line x1="157.8" y1="1905.3" x2="165.8" y2="1905.3" stroke="#000" stroke-width="3.4"/>
<text x="147.0" y="1915.0" font-size="27" fill="#1c1c1c" text-anchor="end">2</text>
<line x1="157.8" y1="1854.3" x2="165.8" y2="1854.3" stroke="#000" stroke-width="3.4"/>
<text x="147.0" y="1864.0" font-size="27" fill="#1c1c1c" text-anchor="end">4</text>
<line x1="157.8" y1="1803.3" x2="165.8" y2="1803.3" stroke="#000" stroke-width="3.4"/>
<text x="147.0" y="1813.0" font-size="27" fill="#1c1c1c" text-anchor="end">6</text>
<line x1="157.8" y1="1752.3" x2="165.8" y2="1752.3" stroke="#000" stroke-width="3.4"/>
<text x="147.0" y="1762.0" font-size="27" fill="#1c1c1c" text-anchor="end">8</text>
<line x1="157.8" y1="1701.3" x2="165.8" y2="1701.3" stroke="#000" stroke-width="3.4"/>
<text x="147.0" y="1711.0" font-size="27" fill="#1c1c1c" text-anchor="end">10</text>
<text x="368.8" y="2038.5" font-size="27" fill="#1c1c1c" text-anchor="middle" textLength="390.0" lengthAdjust="spacingAndGlyphs">Patients (increasing risk score)</text>
<text transform="translate(103.5,1825.5) rotate(-90)" x="0" y="9.7" font-size="27" fill="#1c1c1c" text-anchor="middle" textLength="132.0" lengthAdjust="spacingAndGlyphs">Risk score</text>
<ellipse cx="180.5" cy="1721.8" rx="5" ry="7" fill="#F47D2F"/>
<ellipse cx="180.5" cy="1752.2" rx="5" ry="7" fill="#393870"/>
<text x="189.8" y="1732.4" font-size="27" fill="#1c1c1c" textLength="110.6" lengthAdjust="spacingAndGlyphs">High risk</text>
<text x="189.8" y="1762.9" font-size="27" fill="#1c1c1c" textLength="104.5" lengthAdjust="spacingAndGlyphs">Low risk</text>
<path transform="scale(1,1.3023)" d="M800.2 1479.8h0M801.9 1495.4h0M810.5 1497.3h0M838.9 1467.6h0M851.0 1471.0h0M863.9 1481.4h0M869.9 1492.0h0M882.8 1478.1h0M899.2 1459.9h0M925.0 1482.4h0M931.9 1497.2h0M939.6 1493.9h0M946.5 1496.2h0M956.0 1469.7h0M966.3 1499.5h0M980.9 1488.6h0M985.2 1484.5h0M1001.6 1499.1h0M1004.2 1476.5h0M1017.1 1496.1h0M1017.9 1499.0h0M1019.7 1497.8h0M1020.5 1485.1h0M1023.1 1484.9h0M1024.8 1501.7h0M1031.7 1483.0h0M1032.6 1465.6h0M1042.0 1489.1h0M1048.9 1489.9h0M1049.8 1503.3h0M1051.5 1478.8h0M1054.1 1491.9h0M1057.5 1469.8h0M1060.1 1468.1h0M1063.5 1480.8h0M1071.3 1495.1h0M1072.1 1491.5h0M1073.0 1503.7h0M801.8 1377.3h0M805.9 1418.4h0M857.9 1397.3h0M877.7 1371.8h0M896.6 1370.1h0M910.9 1385.1h0M886.3 1437.2h0M881.8 1446.6h0M937.0 1413.9h0M951.7 1442.8h0M974.9 1380.7h0M987.8 1348.5h0M992.1 1400.6h0M1006.7 1436.1h0M1005.0 1451.6h0M1056.3 1362.9h0M1069.6 1408.4h0M1047.8 1416.7h0M1072.1 1425.0h0M1036.7 1432.8h0M1031.7 1447.7h0M1047.8 1443.9h0M1095.4 1430.6h0M1100.5 1436.1h0M1102.3 1417.3h0M1138.4 1447.2h0M1171.1 1455.0h0M1181.4 1457.2h0M1189.2 1381.8h0M1019.3 1449.4h0M908.6 1461.6h0M1114.3 1458.3h0M1054.1 1457.2h0M1071.3 1457.2h0" stroke="#F47D2F" stroke-width="8.6" stroke-linecap="round" fill="none"/>
<path transform="scale(1,1.3023)" d="M795.1 1498.2h0M795.9 1477.4h0M796.8 1496.1h0M797.6 1469.0h0M798.5 1483.5h0M799.4 1503.7h0M801.1 1469.7h0M802.8 1459.5h0M803.7 1465.7h0M804.5 1502.8h0M805.4 1483.9h0M806.2 1461.8h0M807.1 1498.5h0M808.0 1499.7h0M808.8 1485.9h0M809.7 1490.8h0M811.4 1466.2h0M812.3 1470.4h0M813.1 1461.0h0M814.0 1471.6h0M814.9 1480.0h0M815.7 1499.8h0M816.6 1468.1h0M817.4 1463.3h0M818.3 1487.8h0M819.2 1486.0h0M820.0 1459.6h0M820.9 1503.0h0M821.7 1473.4h0M822.6 1483.9h0M823.5 1481.4h0M824.3 1495.9h0M825.2 1481.1h0M826.0 1497.5h0M826.9 1490.6h0M827.8 1490.6h0M828.6 1492.3h0M829.5 1501.8h0M830.3 1470.6h0M831.2 1475.1h0M832.1 1464.5h0M832.9 1488.0h0M833.8 1461.3h0M834.6 1465.3h0M835.5 1489.4h0M836.4 1465.6h0M837.2 1501.7h0M838.1 1470.7h0M839.8 1494.4h0M840.7 1487.4h0M841.5 1501.7h0M842.4 1464.5h0M843.2 1472.1h0M844.1 1494.6h0M845.0 1482.6h0M845.8 1503.0h0M846.7 1467.5h0M847.6 1465.4h0M848.4 1487.1h0M849.3 1467.0h0M850.1 1482.2h0M851.9 1475.0h0M852.7 1503.1h0M853.6 1477.0h0M854.4 1479.8h0M855.3 1488.0h0M856.2 1464.2h0M857.0 1500.8h0M857.9 1503.1h0M858.7 1499.1h0M859.6 1476.5h0M860.5 1482.0h0M861.3 1484.0h0M862.2 1498.1h0M863.0 1489.3h0M864.8 1473.8h0M865.6 1470.7h0M866.5 1503.6h0M867.3 1501.9h0M868.2 1497.8h0M869.1 1494.6h0M870.8 1488.8h0M871.6 1464.4h0M872.5 1483.6h0M873.4 1462.0h0M874.2 1479.0h0M875.1 1472.6h0M875.9 1492.2h0M876.8 1482.6h0M877.7 1501.9h0M878.5 1460.6h0M879.4 1491.9h0M880.2 1500.3h0M881.1 1501.5h0M882.0 1471.4h0M883.7 1477.0h0M884.6 1482.9h0M885.4 1488.2h0M886.3 1502.4h0M887.1 1494.9h0M888.0 1468.6h0M888.9 1485.8h0M889.7 1488.9h0M890.6 1477.6h0M891.4 1501.1h0M892.3 1484.1h0M893.2 1464.9h0M894.0 1477.8h0M894.9 1475.8h0M895.7 1474.4h0M896.6 1494.9h0M897.5 1488.9h0M898.3 1468.2h0M900.0 1492.1h0M900.9 1488.7h0M901.8 1481.3h0M902.6 1492.5h0M903.5 1472.3h0M904.3 1500.3h0M905.2 1474.1h0M906.1 1491.1h0M906.9 1475.2h0M907.8 1461.9h0M908.6 1494.6h0M909.5 1498.6h0M910.4 1496.8h0M911.2 1493.6h0M912.1 1462.4h0M912.9 1486.6h0M913.8 1493.5h0M914.7 1489.0h0M915.5 1497.2h0M916.4 1502.8h0M917.3 1462.7h0M918.1 1503.3h0M919.0 1502.7h0M919.8 1474.3h0M920.7 1503.6h0M921.6 1500.8h0M922.4 1485.8h0M923.3 1489.6h0M924.1 1469.8h0M925.9 1497.3h0M926.7 1481.3h0M927.6 1469.3h0M928.4 1463.2h0M929.3 1503.3h0M930.2 1501.3h0M931.0 1472.0h0M932.7 1468.7h0M933.6 1478.1h0M934.5 1469.4h0M935.3 1493.9h0M936.2 1492.7h0M937.0 1464.9h0M937.9 1501.7h0M938.8 1475.4h0M940.5 1502.7h0M941.3 1475.2h0M942.2 1498.4h0M943.1 1462.9h0M943.9 1487.9h0M944.8 1473.0h0M945.6 1501.4h0M947.4 1490.4h0M948.2 1477.8h0M949.1 1473.8h0M950.0 1498.3h0M950.8 1469.1h0M951.7 1475.3h0M952.5 1470.5h0M953.4 1482.2h0M954.3 1460.9h0M955.1 1462.3h0M956.8 1490.4h0M957.7 1478.7h0M958.6 1476.9h0M959.4 1462.9h0M960.3 1465.4h0M961.1 1459.5h0M962.0 1470.6h0M962.9 1465.3h0M963.7 1501.2h0M964.6 1497.6h0M965.4 1468.7h0M967.2 1487.3h0M968.0 1503.1h0M968.9 1496.3h0M969.7 1463.1h0M970.6 1464.7h0M971.5 1499.8h0M972.3 1487.2h0M973.2 1470.9h0M974.0 1476.7h0M974.9 1486.9h0M975.8 1484.2h0M976.6 1482.0h0M977.5 1502.8h0M978.3 1479.7h0M979.2 1472.5h0M980.1 1459.7h0M981.8 1476.0h0M982.6 1480.2h0M983.5 1496.9h0M984.4 1472.7h0M986.1 1489.6h0M987.0 1483.8h0M987.8 1488.7h0M988.7 1479.2h0M989.5 1466.2h0M990.4 1489.4h0M991.3 1470.3h0M992.1 1463.0h0M993.0 1467.1h0M993.8 1501.4h0M994.7 1477.5h0M995.6 1467.9h0M996.4 1475.2h0M997.3 1496.0h0M998.1 1483.9h0M999.0 1496.0h0M999.9 1491.1h0M1000.7 1489.7h0M1002.4 1474.5h0M1003.3 1499.7h0M1005.0 1473.1h0M1005.9 1486.3h0M1006.7 1461.3h0M1007.6 1477.4h0M1008.5 1489.8h0M1009.3 1471.6h0M1010.2 1485.7h0M1011.0 1495.8h0M1011.9 1503.2h0M1012.8 1485.8h0M1013.6 1479.7h0M1014.5 1501.1h0M1015.3 1498.1h0M1016.2 1491.5h0M1018.8 1480.9h0M1021.4 1490.7h0M1022.2 1498.4h0M1024.0 1497.1h0M1025.7 1483.1h0M1026.5 1485.7h0M1027.4 1503.6h0M1028.3 1494.2h0M1029.1 1492.7h0M1030.0 1503.2h0M1030.8 1467.5h0M1033.4 1463.5h0M1034.3 1476.3h0M1035.1 1499.7h0M1036.0 1479.0h0M1036.9 1491.4h0M1037.7 1502.8h0M1038.6 1501.9h0M1039.4 1472.6h0M1040.3 1500.2h0M1041.2 1501.3h0M1042.9 1492.0h0M1043.7 1489.9h0M1044.6 1480.7h0M1045.5 1484.1h0M1046.3 1498.6h0M1047.2 1494.8h0M1048.0 1499.0h0M1050.6 1468.7h0M1052.4 1479.6h0M1053.2 1475.4h0M1054.9 1482.3h0M1055.8 1477.7h0M1056.7 1493.8h0M1058.4 1478.3h0M1059.2 1478.4h0M1061.0 1461.8h0M1061.8 1491.8h0M1062.7 1499.6h0M1064.4 1496.2h0M1065.3 1481.5h0M1066.1 1472.7h0M1067.0 1467.3h0M1067.8 1462.8h0M1068.7 1477.2h0M1069.6 1463.3h0M1070.4 1489.6h0M1073.9 1488.6h0M1074.7 1502.9h0M1075.6 1501.3h0M1076.4 1495.1h0M1077.3 1476.6h0M1078.2 1491.3h0M1079.0 1501.2h0M1079.9 1477.1h0M1082.5 1477.1h0M1085.0 1480.5h0M1085.9 1495.7h0M1090.2 1483.3h0M1091.1 1469.7h0M1095.4 1491.1h0M1096.2 1469.4h0M1098.8 1489.5h0M1100.5 1463.5h0M1101.4 1488.3h0M1103.1 1481.3h0M1104.0 1468.0h0M1104.8 1502.0h0M1105.7 1487.2h0M1106.6 1499.6h0M1107.4 1501.0h0M1110.0 1480.4h0M1110.9 1502.6h0M1111.7 1463.5h0M1114.3 1489.2h0M1116.9 1502.4h0M1119.5 1492.9h0M1120.3 1501.2h0M1123.8 1470.3h0M1124.6 1487.8h0M1126.4 1481.3h0M1127.2 1485.1h0M1128.1 1480.5h0M1128.9 1496.3h0M1129.8 1462.9h0M1134.1 1496.5h0M1135.0 1480.0h0M1137.5 1484.9h0M1138.4 1486.2h0M1139.3 1475.0h0M1145.3 1486.1h0M1147.9 1489.0h0M1151.3 1485.9h0M1153.0 1496.4h0M1153.9 1499.0h0M1156.5 1501.7h0M1163.4 1494.5h0M1168.5 1490.2h0M1171.1 1483.3h0M1175.4 1480.9h0M1176.3 1478.4h0M1178.0 1502.1h0M1181.4 1482.2h0M1183.1 1496.2h0M1184.9 1495.7h0M1186.6 1493.3h0M1188.3 1486.4h0M1190.0 1481.9h0M1191.8 1498.3h0M1196.1 1492.0h0M1198.6 1475.1h0M1206.4 1498.0h0M814.4 1360.7h0M843.9 1380.7h0M835.0 1391.8h0M813.8 1427.2h0M800.5 1450.5h0M873.9 1417.3h0M899.2 1413.9h0M901.8 1418.4h0M906.9 1427.2h0M898.3 1436.1h0M906.1 1436.1h0M888.9 1448.3h0M916.0 1336.3h0M916.4 1346.3h0M940.9 1422.8h0M949.8 1423.9h0M952.3 1436.1h0M930.8 1437.2h0M923.8 1443.9h0M925.9 1450.5h0M960.8 1390.6h0M955.1 1396.2h0M967.2 1406.2h0M990.8 1421.1h0M997.8 1421.1h0M990.8 1442.8h0M1001.6 1449.4h0M1009.8 1309.7h0M1028.8 1391.8h0M1028.3 1428.9h0M1021.8 1441.6h0M1052.4 1432.8h0M1066.7 1416.7h0M1110.9 1413.9h0M1123.6 1416.1h0M1114.7 1426.1h0M1091.1 1445.0h0M1118.6 1456.1h0M1047.8 1451.6h0M1076.2 1453.3h0M852.7 1453.3h0M1088.8 1457.2h0" stroke="#393870" stroke-width="8.6" stroke-linecap="round" fill="none"/>
<path transform="scale(1,1.3023)" d="M1080.7 1462.7h0M1081.6 1480.9h0M1083.3 1500.6h0M1084.2 1465.1h0M1086.8 1503.7h0M1087.6 1499.6h0M1088.5 1498.1h0M1089.4 1472.1h0M1091.9 1481.0h0M1092.8 1474.2h0M1093.7 1465.5h0M1094.5 1496.7h0M1097.1 1475.8h0M1098.0 1494.1h0M1099.7 1461.8h0M1102.3 1473.0h0M1108.3 1476.1h0M1109.1 1494.6h0M1112.6 1483.3h0M1113.4 1481.8h0M1115.2 1499.0h0M1116.0 1474.1h0M1117.7 1499.9h0M1118.6 1494.4h0M1121.2 1502.9h0M1122.1 1498.5h0M1122.9 1493.3h0M1125.5 1477.9h0M1130.7 1466.7h0M1131.5 1476.1h0M1132.4 1474.7h0M1133.2 1485.1h0M1135.8 1501.2h0M1136.7 1463.3h0M1140.1 1498.8h0M1141.0 1494.1h0M1141.8 1486.0h0M1142.7 1485.4h0M1143.6 1502.5h0M1144.4 1495.3h0M1146.1 1476.5h0M1147.0 1479.4h0M1148.7 1502.1h0M1149.6 1495.4h0M1150.4 1493.8h0M1152.2 1498.9h0M1154.7 1500.2h0M1155.6 1484.4h0M1157.3 1479.7h0M1158.2 1479.3h0M1159.1 1500.2h0M1159.9 1480.8h0M1160.8 1502.3h0M1161.6 1499.9h0M1162.5 1487.1h0M1164.2 1496.2h0M1165.1 1499.5h0M1165.9 1500.0h0M1166.8 1496.3h0M1167.7 1495.2h0M1169.4 1492.4h0M1170.2 1484.2h0M1172.0 1491.0h0M1172.8 1495.8h0M1173.7 1496.8h0M1174.5 1494.7h0M1177.1 1494.3h0M1178.8 1484.9h0M1179.7 1492.5h0M1180.6 1481.7h0M1182.3 1482.4h0M1184.0 1477.6h0M1185.7 1483.1h0M1187.4 1501.6h0M1189.2 1475.9h0M1190.9 1496.5h0M1192.6 1500.8h0M1193.5 1476.6h0M1194.3 1487.6h0M1195.2 1475.2h0M1196.9 1483.3h0M1197.8 1481.4h0M1199.5 1491.9h0M1200.4 1499.0h0M1201.2 1499.5h0M1202.1 1484.1h0M1202.9 1488.6h0M1203.8 1483.9h0M1204.7 1476.7h0M1205.5 1501.6h0M1207.2 1476.9h0" stroke="#F47D2F" stroke-width="8.6" stroke-linecap="round" fill="none"/>
<path transform="scale(1,1.3023)" d="M1145.3 1486.1h0M1147.9 1489.0h0M1153.0 1496.4h0M1163.4 1494.5h0M1168.5 1490.2h0M1171.1 1483.3h0M1176.3 1478.4h0M1181.4 1482.2h0M1186.6 1493.3h0M1191.8 1498.3h0" stroke="#393870" stroke-width="8.6" stroke-linecap="round" fill="none"/>
<line x1="1017.7" y1="1695.7" x2="1017.7" y2="1968.5" stroke="#111" stroke-width="3.2" stroke-dasharray="12 16" stroke-dashoffset="-4"/>
<rect x="779.8" y="1695.7" width="443.6" height="272.8" fill="none" stroke="#000" stroke-width="4.7"/>
<line x1="794.2" y1="1970.8" x2="794.2" y2="1978.8" stroke="#000" stroke-width="3.4"/>
<text x="794.2" y="2006.8" font-size="27" fill="#1c1c1c" text-anchor="middle">0</text>
<line x1="880.2" y1="1970.8" x2="880.2" y2="1978.8" stroke="#000" stroke-width="3.4"/>
<text x="880.2" y="2006.8" font-size="27" fill="#1c1c1c" text-anchor="middle">100</text>
<line x1="966.3" y1="1970.8" x2="966.3" y2="1978.8" stroke="#000" stroke-width="3.4"/>
<text x="966.3" y="2006.8" font-size="27" fill="#1c1c1c" text-anchor="middle">200</text>
<line x1="1052.4" y1="1970.8" x2="1052.4" y2="1978.8" stroke="#000" stroke-width="3.4"/>
<text x="1052.4" y="2006.8" font-size="27" fill="#1c1c1c" text-anchor="middle">300</text>
<line x1="1138.4" y1="1970.8" x2="1138.4" y2="1978.8" stroke="#000" stroke-width="3.4"/>
<text x="1138.4" y="2006.8" font-size="27" fill="#1c1c1c" text-anchor="middle">400</text>
<line x1="769.4" y1="1959.8" x2="777.4" y2="1959.8" stroke="#000" stroke-width="3.4"/>
<text x="768.0" y="1969.5" font-size="27" fill="#1c1c1c" text-anchor="end">0</text>
<line x1="769.4" y1="1887.6" x2="777.4" y2="1887.6" stroke="#000" stroke-width="3.4"/>
<text x="768.0" y="1897.3" font-size="27" fill="#1c1c1c" text-anchor="end">5</text>
<line x1="769.4" y1="1815.4" x2="777.4" y2="1815.4" stroke="#000" stroke-width="3.4"/>
<text x="768.0" y="1825.1" font-size="27" fill="#1c1c1c" text-anchor="end">10</text>
<line x1="769.4" y1="1743.2" x2="777.4" y2="1743.2" stroke="#000" stroke-width="3.4"/>
<text x="768.0" y="1752.9" font-size="27" fill="#1c1c1c" text-anchor="end">15</text>
<text x="980.6" y="2038.4" font-size="27" fill="#1c1c1c" text-anchor="middle" textLength="390.4" lengthAdjust="spacingAndGlyphs">Patients (increasing risk score)</text>
<text transform="translate(718.7,1824.6) rotate(-90)" x="0" y="9.7" font-size="27" fill="#1c1c1c" text-anchor="middle" textLength="261.0" lengthAdjust="spacingAndGlyphs">Survival time (years)</text>
<ellipse cx="793.9" cy="1725.8" rx="5" ry="6.6" fill="#F47D2F"/>
<ellipse cx="793.9" cy="1756.8" rx="5" ry="6.6" fill="#393870"/>
<text x="805.9" y="1733.0" font-size="27" fill="#1c1c1c" textLength="66.4" lengthAdjust="spacingAndGlyphs">Dead</text>
<text x="805.9" y="1764.9" font-size="27" fill="#1c1c1c" textLength="59.0" lengthAdjust="spacingAndGlyphs">Alive</text>
<path d="M1044.9 674.1h0M1040.3 677.6h0M1033.2 684.7h0M1059.0 684.7h0M1070.7 706.9h0M1061.3 709.3h0M1052.0 711.6h0M1066.0 713.9h0M1047.3 724.5h0M1060.2 728.0h0M1073.0 731.5h0M1078.9 737.4h0M1085.9 744.4h0M1059.0 742.0h0M1063.7 760.8h0M1069.5 765.5h0M1034.4 697.5h0M1035.6 715.1h0" stroke="#F47D2F" stroke-width="6.0" stroke-linecap="round" fill="none"/>
<path d="M1004.7 672.2h0M1030.9 664.8h0M1018.0 676.5h0M1007.5 691.2h0M1068.4 685.8h0M1050.8 690.5h0M1060.2 690.5h0M1025.0 750.2h0M1049.6 760.8h0M1057.8 757.3h0M1041.4 770.1h0M1054.3 770.1h0M1059.0 773.7h0M1033.2 781.9h0M1055.5 783.7h0M1076.6 786.5h0M1064.8 792.4h0M1068.4 745.6h0M1039.2 746.0h0M1024.8 736.1h0M1034.3 716.0h0M1064.6 734.4h0M1037.3 735.6h0M1053.7 727.1h0M1046.2 706.8h0M1032.8 712.1h0M1019.2 687.3h0M1015.1 709.7h0M1035.5 715.3h0M1038.9 697.4h0M1036.8 726.2h0M1048.5 710.0h0M1032.3 682.4h0M1030.8 678.5h0M1018.0 735.8h0M1008.6 726.3h0M1042.5 717.9h0M1044.4 734.3h0M1052.6 723.0h0M1029.6 707.9h0M1024.1 716.4h0M1026.9 738.3h0M1011.6 692.4h0M1024.5 678.2h0M1064.6 686.4h0M1033.9 710.9h0M1061.2 693.1h0M1053.0 713.7h0M1035.7 708.8h0M1046.9 704.0h0M1036.8 728.4h0M1063.8 686.1h0M1059.3 747.4h0M1031.1 725.5h0M1031.4 750.7h0M1040.9 719.1h0M1034.7 717.3h0M1035.4 704.8h0M1066.8 696.5h0M1008.6 702.1h0M1035.9 728.4h0M1035.0 718.4h0M1042.6 741.9h0M1031.6 712.9h0M1065.2 741.6h0M1024.1 760.8h0M1048.8 714.9h0M1021.4 721.9h0M1026.2 698.2h0M1019.7 706.3h0M1053.5 719.5h0M1017.5 727.5h0M1038.8 738.3h0M1054.8 724.9h0M1035.9 720.6h0M1022.0 729.1h0M1057.2 732.1h0M1034.6 716.1h0M1026.9 703.2h0M1032.3 704.4h0M1031.8 690.4h0M1042.8 724.8h0M1021.7 673.4h0M1037.8 742.8h0M1027.6 709.5h0M1029.9 731.6h0M1025.0 736.1h0M1033.7 738.0h0M1038.4 718.0h0M1017.1 702.0h0M1034.2 733.2h0M1041.4 710.3h0M1043.7 742.6h0M1035.8 713.2h0M1032.4 735.4h0M1045.5 707.4h0M1043.2 715.0h0M1027.4 741.7h0M1049.5 712.6h0M1039.0 731.9h0M1028.9 716.7h0M1047.3 691.9h0M1042.5 737.6h0M1045.0 699.5h0M1042.4 707.5h0M1045.9 736.3h0M1041.0 708.9h0M1029.6 735.2h0M1025.3 727.0h0M1045.1 719.4h0M1071.6 735.2h0M1068.1 694.9h0M1008.6 729.5h0M1046.9 719.4h0M1037.2 686.2h0M1029.1 699.7h0M1034.8 737.6h0M1038.7 729.4h0M1028.1 710.5h0M1039.5 717.4h0M1055.7 711.9h0M1064.5 713.1h0M1052.8 712.9h0M1061.1 732.8h0M1043.5 738.0h0M1029.0 699.5h0M1009.4 735.0h0M1028.1 707.6h0M1037.5 759.2h0M1013.6 718.3h0M1032.4 730.1h0M1012.6 705.8h0M1049.7 755.5h0M1060.4 714.0h0M1038.7 720.3h0M1018.6 688.4h0M1048.6 730.5h0M1035.9 744.2h0M1023.8 727.1h0M1038.1 721.1h0M1044.8 727.8h0M1041.7 728.4h0M1065.2 725.8h0M1052.1 738.5h0M1033.0 735.3h0M1025.9 739.7h0M1026.5 709.0h0M1042.5 739.3h0M1050.7 743.3h0M1035.0 703.2h0M1045.6 730.5h0M1024.5 735.7h0M1040.7 705.2h0" stroke="#393870" stroke-width="6.6" stroke-linecap="round" fill="none"/>
<path d="M1296.2 584.7h0M1180.3 605.0h0M1191.3 640.6h0M1078.9 648.8h0M1126.4 647.2h0M1143.3 648.4h0M1163.9 646.5h0M1299.0 644.8h0M1043.8 660.5h0M1121.1 662.4h0M1167.4 659.4h0M1211.9 659.4h0M1251.0 656.6h0M1247.5 663.1h0M1083.6 674.1h0M1090.6 681.1h0M1146.1 678.1h0M1172.6 676.5h0M1186.2 678.1h0M1124.6 684.0h0M1168.6 684.0h0M1241.7 684.7h0M1075.4 689.3h0M1160.2 694.0h0M1150.3 701.1h0M1170.2 701.1h0M1087.1 698.0h0M1084.3 703.4h0M1281.5 702.2h0M1118.7 713.2h0M1125.7 711.6h0M1209.6 715.8h0M1301.4 724.9h0M1160.2 733.1h0M1123.9 735.5h0M1138.1 743.2h0M1151.5 757.3h0M1156.2 774.8h0M1237.0 775.5h0M1256.9 779.5h0M1329.5 787.7h0M1200.7 796.4h0M1088.3 767.1h0M1098.3 776.7h0M1082.4 777.9h0M1071.2 776.7h0M1087.1 790.0h0M1108.9 824.0h0M1147.3 824.0h0M1116.8 835.7h0M1171.4 838.1h0M1127.6 860.3h0M1150.3 910.7h0M1155.0 929.4h0" stroke="#F47D2F" stroke-width="6.0" stroke-linecap="round" fill="none"/>
<path d="M1047.3 724.5h0M1060.2 728.0h0M1059.0 742.0h0M1052.0 711.6h0M1034.4 697.5h0" stroke="#F47D2F" stroke-width="4.8" stroke-linecap="round" fill="none"/>
<rect x="976.5" y="554.4" width="382.0" height="394.1" fill="none" stroke="#2b2b2b" stroke-width="4.5"/>
<line x1="1076.0" y1="950.8" x2="1076.0" y2="957.8" stroke="#2b2b2b" stroke-width="3.2"/>
<text x="1076.0" y="988.5" font-size="27" fill="#1c1c1c" text-anchor="middle">0.0</text>
<line x1="1164.0" y1="950.8" x2="1164.0" y2="957.8" stroke="#2b2b2b" stroke-width="3.2"/>
<text x="1164.0" y="988.5" font-size="27" fill="#1c1c1c" text-anchor="middle">2.5</text>
<line x1="1252.0" y1="950.8" x2="1252.0" y2="957.8" stroke="#2b2b2b" stroke-width="3.2"/>
<text x="1252.0" y="988.5" font-size="27" fill="#1c1c1c" text-anchor="middle">5.0</text>
<line x1="1340.0" y1="950.8" x2="1340.0" y2="957.8" stroke="#2b2b2b" stroke-width="3.2"/>
<text x="1340.0" y="988.5" font-size="27" fill="#1c1c1c" text-anchor="middle">7.5</text>
<line x1="967.2" y1="634.5" x2="974.2" y2="634.5" stroke="#2b2b2b" stroke-width="3.2"/>
<text x="962.0" y="644.2" font-size="27" fill="#1c1c1c" text-anchor="end">2.5</text>
<line x1="967.2" y1="718.8" x2="974.2" y2="718.8" stroke="#2b2b2b" stroke-width="3.2"/>
<text x="962.0" y="728.5" font-size="27" fill="#1c1c1c" text-anchor="end">0.0</text>
<line x1="967.2" y1="803.1" x2="974.2" y2="803.1" stroke="#2b2b2b" stroke-width="3.2"/>
<text x="962.0" y="812.8" font-size="27" fill="#1c1c1c" text-anchor="end">−2.5</text>
<line x1="967.2" y1="887.4" x2="974.2" y2="887.4" stroke="#2b2b2b" stroke-width="3.2"/>
<text x="962.0" y="897.1" font-size="27" fill="#1c1c1c" text-anchor="end">−5.0</text>
<text x="1185.0" y="1015.2" font-size="27" fill="#1c1c1c" text-anchor="middle">PC1</text>
<text transform="translate(899.0,754.0) rotate(-90)" x="0" y="9.7" font-size="27" fill="#1c1c1c" text-anchor="middle">PC2</text>
<text x="1367.5" y="730.3" font-size="27" fill="#1c1c1c">Risk</text>
<circle cx="1377.0" cy="755.7" r="8.2" fill="#F47D2F"/>
<circle cx="1377.0" cy="782.5" r="8.2" fill="#393870"/>
<text x="1391.0" y="762.2" font-size="27" fill="#1c1c1c">High</text>
<text x="1391.0" y="791.2" font-size="27" fill="#1c1c1c">Low</text>
<path d="M1595.9 585.7h0M1601.7 594.4h0M1598.5 600.3h0M1618.0 585.7h0M1619.1 594.4h0M1623.4 595.5h0M1607.6 611.3h0M1606.1 626.3h0M1605.0 633.4h0M1611.5 633.4h0M1592.0 634.5h0M1595.2 645.3h0M1603.9 646.4h0M1623.4 673.5h0M1624.5 677.8h0M1670.0 649.7h0M1672.1 656.2h0M1673.2 660.5h0M1665.6 635.6h0M1683.0 631.2h0M1670.0 675.6h0M1605.0 735.9h0M1650.5 728.7h0M1658.1 724.4h0M1652.7 746.1h0M1662.4 739.6h0M1673.2 741.7h0M1680.8 748.2h0M1663.9 761.2h0M1693.2 734.1h0M1700.3 740.6h0M1697.1 745.0h0M1715.0 759.7h0M1706.8 773.1h0M1606.1 765.6h0M1608.2 771.0h0M1611.1 776.4h0M1602.8 824.0h0M1730.2 789.4h0M1728.5 802.4h0M1715.5 815.4h0M1719.8 819.7h0M1731.1 819.3h0M1743.6 849.6h0M1567.1 861.3h0M1590.3 855.5h0M1601.7 851.1h0M1605.0 853.3h0M1609.3 852.2h0M1619.1 850.0h0M1628.8 855.5h0M1625.6 863.0h0M1623.4 869.5h0M1622.3 879.3h0M1570.3 873.9h0M1568.2 881.5h0M1573.6 884.7h0M1578.6 869.5h0M1584.4 877.1h0M1587.7 880.4h0M1577.9 890.1h0M1583.3 892.3h0M1639.7 873.9h0M1644.0 877.1h0M1650.5 882.1h0M1629.9 885.8h0M1636.4 888.0h0M1609.3 885.8h0M1603.9 888.0h0M1598.1 894.5h0M1595.2 907.5h0M1594.2 916.1h0M1593.1 920.5h0M1577.9 912.2h0M1582.2 914.0h0M1600.7 924.8h0M1606.7 928.0h0M1687.3 849.0h0M1691.6 852.2h0M1697.1 855.5h0M1701.4 856.5h0M1702.9 869.5h0M1698.1 881.5h0M1671.1 880.4h0M1670.0 888.0h0M1675.4 892.3h0M1666.7 898.8h0M1716.6 883.6h0M1713.3 890.1h0M1704.6 899.9h0M1728.5 909.6h0" stroke="#F47D2F" stroke-width="5.4" stroke-linecap="round" fill="none"/>
<path d="M1687.3 586.8h0M1693.8 594.4h0M1700.3 596.6h0M1701.4 600.9h0M1717.6 594.4h0M1744.7 594.4h0M1743.6 599.8h0M1728.5 602.0h0M1738.2 604.2h0M1735.0 611.7h0M1754.5 608.5h0M1711.1 610.7h0M1706.8 613.9h0M1703.6 616.1h0M1711.1 624.7h0M1753.4 623.7h0M1757.7 624.7h0M1742.6 632.3h0M1644.0 618.2h0M1651.6 620.4h0M1640.7 625.8h0M1646.2 629.1h0M1642.9 635.6h0M1628.8 631.2h0M1660.2 631.2h0M1691.6 631.2h0M1696.0 632.3h0M1626.7 595.5h0M1620.2 639.9h0M1621.2 646.4h0M1629.9 652.9h0M1625.6 657.2h0M1622.3 662.7h0M1725.2 644.7h0M1733.9 650.7h0M1732.8 657.2h0M1732.4 661.6h0M1763.1 656.2h0M1756.6 658.3h0M1754.5 661.6h0M1693.8 655.1h0M1694.9 661.6h0M1693.8 668.1h0M1788.5 673.5h0M1780.5 684.3h0M1788.1 687.6h0M1783.7 690.8h0M1758.8 686.5h0M1766.4 685.4h0M1653.7 687.6h0M1661.3 685.4h0M1665.6 681.1h0M1713.3 684.3h0M1735.0 680.0h0M1737.1 685.4h0M1743.6 687.6h0M1736.1 691.9h0M1728.5 699.0h0M1793.5 703.8h0M1782.6 715.7h0M1787.0 720.1h0M1796.1 727.6h0M1695.5 704.9h0M1749.1 717.9h0M1746.9 724.4h0M1744.7 730.9h0M1662.4 727.6h0M1609.3 741.7h0M1616.9 741.7h0M1611.5 747.1h0M1629.9 784.0h0M1635.3 795.9h0M1632.1 802.4h0M1707.9 762.3h0M1699.2 771.0h0M1692.7 777.5h0M1707.9 780.7h0M1736.1 772.5h0M1702.5 805.6h0M1709.0 812.1h0M1744.7 829.5h0M1753.4 829.5h0M1751.2 845.7h0M1717.6 869.5h0M1723.1 873.9h0M1730.6 869.5h0M1737.1 865.2h0M1743.6 864.1h0M1749.1 866.3h0M1751.2 862.0h0M1738.2 874.5h0M1756.6 875.0h0M1854.1 759.1h0M1832.5 765.6h0M1844.4 771.0h0M1852.0 768.8h0M1852.0 776.4h0M1862.4 772.7h0M1826.4 782.5h0M1837.9 781.8h0M1840.7 790.0h0M1863.2 787.7h0M1879.0 795.2h0M1809.7 794.8h0M1825.5 797.0h0M1829.2 802.4h0M1833.5 807.8h0M1839.0 806.7h0M1867.6 797.0h0M1866.7 808.9h0M1780.9 807.8h0M1785.9 813.2h0M1774.0 816.5h0M1791.3 821.9h0M1797.8 810.0h0M1814.7 820.4h0M1818.4 819.7h0M1842.2 826.9h0M1853.0 820.8h0M1858.5 823.0h0M1855.2 836.6h0" stroke="#393870" stroke-width="5.4" stroke-linecap="round" fill="none"/>
<rect x="1547.8" y="555.7" width="354.2" height="394.9" fill="none" stroke="#2b2b2b" stroke-width="5"/>
<line x1="1561.9" y1="953.1" x2="1561.9" y2="960.1" stroke="#2b2b2b" stroke-width="3.2"/>
<text x="1561.9" y="985.5" font-size="27" fill="#1c1c1c" text-anchor="middle">−20</text>
<line x1="1637.3" y1="953.1" x2="1637.3" y2="960.1" stroke="#2b2b2b" stroke-width="3.2"/>
<text x="1637.3" y="985.5" font-size="27" fill="#1c1c1c" text-anchor="middle">−10</text>
<line x1="1712.7" y1="953.1" x2="1712.7" y2="960.1" stroke="#2b2b2b" stroke-width="3.2"/>
<text x="1712.7" y="985.5" font-size="27" fill="#1c1c1c" text-anchor="middle">0</text>
<line x1="1788.1" y1="953.1" x2="1788.1" y2="960.1" stroke="#2b2b2b" stroke-width="3.2"/>
<text x="1788.1" y="985.5" font-size="27" fill="#1c1c1c" text-anchor="middle">10</text>
<line x1="1863.5" y1="953.1" x2="1863.5" y2="960.1" stroke="#2b2b2b" stroke-width="3.2"/>
<text x="1863.5" y="985.5" font-size="27" fill="#1c1c1c" text-anchor="middle">20</text>
<line x1="1538.3" y1="581.2" x2="1545.3" y2="581.2" stroke="#2b2b2b" stroke-width="3.2"/>
<text x="1531.0" y="590.9" font-size="27" fill="#1c1c1c" text-anchor="end">20</text>
<line x1="1538.3" y1="667.5" x2="1545.3" y2="667.5" stroke="#2b2b2b" stroke-width="3.2"/>
<text x="1531.0" y="677.2" font-size="27" fill="#1c1c1c" text-anchor="end">10</text>
<line x1="1538.3" y1="753.8" x2="1545.3" y2="753.8" stroke="#2b2b2b" stroke-width="3.2"/>
<text x="1531.0" y="763.5" font-size="27" fill="#1c1c1c" text-anchor="end">0</text>
<line x1="1538.3" y1="840.1" x2="1545.3" y2="840.1" stroke="#2b2b2b" stroke-width="3.2"/>
<text x="1531.0" y="849.8" font-size="27" fill="#1c1c1c" text-anchor="end">−10</text>
<line x1="1538.3" y1="926.4" x2="1545.3" y2="926.4" stroke="#2b2b2b" stroke-width="3.2"/>
<text x="1531.0" y="936.1" font-size="27" fill="#1c1c1c" text-anchor="end">−20</text>
<text x="1733.0" y="1015.2" font-size="27" fill="#1c1c1c" text-anchor="middle">tSNE1</text>
<text transform="translate(1487.0,748.0) rotate(-90)" x="0" y="9.7" font-size="27" fill="#1c1c1c" text-anchor="middle">tSNE2</text>
<text x="1916.0" y="739.5" font-size="27" fill="#1c1c1c">Risk</text>
<circle cx="1926.0" cy="755.7" r="8.2" fill="#F47D2F"/>
<circle cx="1926.0" cy="780.5" r="8.2" fill="#393870"/>
<text x="1940.0" y="762.2" font-size="27" fill="#1c1c1c">High</text>
<text x="1940.0" y="790.7" font-size="27" fill="#1c1c1c">Low</text>
<path d="M171.7 2229.1h0M190.6 2232.2h0M174.8 2239.6h0M163.2 2245.9h0M184.3 2250.2h0M201.2 2252.3h0M182.2 2264.9h0M192.7 2271.2h0M198.0 2275.4h0M184.3 2277.6h0M193.8 2286.0h0M199.1 2292.3h0M203.3 2298.6h0M207.5 2305.0h0M213.8 2311.3h0M190.6 2296.5h0M197.0 2302.8h0M193.8 2319.7h0M199.1 2325.0h0M207.5 2325.0h0M214.9 2327.1h0M220.2 2329.2h0M209.6 2332.4h0M203.3 2338.7h0M199.1 2340.8h0M218.0 2338.7h0M215.9 2333.4h0M205.4 2313.4h0M188.5 2309.2h0M172.1 2231.3h0M206.2 2319.7h0M185.9 2264.1h0M183.7 2263.2h0M219.7 2329.7h0M178.7 2239.2h0M178.1 2256.1h0M205.8 2294.6h0M168.3 2230.2h0M213.9 2323.4h0M208.1 2301.8h0" stroke="#F47D2F" stroke-width="5.4" stroke-linecap="round" fill="none"/>
<path d="M137.9 2239.6h0M139.0 2245.9h0M144.3 2231.2h0M150.6 2231.2h0M141.1 2256.5h0M142.2 2269.1h0M141.1 2291.3h0M164.3 2344.0h0M180.1 2346.1h0M190.6 2350.3h0M201.2 2350.3h0M198.0 2356.6h0M193.8 2361.5h0M211.1 2378.1h0M169.6 2336.6h0M175.9 2339.7h0M155.9 2315.5h0M147.6 2263.0h0M150.7 2225.3h0M178.6 2320.4h0M167.4 2272.6h0M163.2 2261.0h0M171.4 2278.3h0M184.8 2277.0h0M164.6 2269.2h0M161.5 2290.0h0M169.6 2290.9h0M182.7 2329.1h0M176.1 2334.3h0M194.4 2295.7h0M155.8 2236.3h0M169.0 2278.6h0M166.2 2301.1h0M180.2 2318.3h0M178.2 2296.6h0M173.8 2274.8h0M167.1 2278.3h0M149.9 2297.2h0M161.3 2297.0h0M170.5 2300.0h0M188.9 2346.6h0M178.8 2333.1h0M158.3 2302.5h0M188.0 2319.9h0M167.4 2245.5h0M178.6 2293.2h0M148.5 2264.9h0M158.9 2265.2h0M177.1 2301.1h0M128.5 2257.8h0M181.4 2291.7h0M166.7 2262.1h0M150.1 2263.7h0M189.6 2342.0h0M172.3 2288.9h0M143.0 2272.0h0M165.2 2260.4h0M191.5 2310.8h0M194.5 2310.7h0M175.1 2301.3h0M161.2 2289.6h0M167.1 2261.9h0M193.3 2332.4h0M160.5 2269.3h0M175.0 2283.6h0M171.1 2261.4h0M150.0 2241.6h0M170.5 2261.0h0M178.8 2302.9h0M184.1 2266.0h0M170.9 2261.9h0M181.6 2274.7h0M161.3 2287.0h0M172.0 2265.9h0M145.5 2252.4h0M166.0 2326.1h0M153.5 2276.6h0M190.8 2315.1h0M159.0 2266.6h0M161.6 2286.0h0M152.4 2250.3h0M146.6 2250.9h0M163.4 2258.6h0M161.8 2256.6h0M178.7 2319.6h0M163.3 2272.9h0M166.9 2294.0h0M170.9 2282.3h0M160.1 2285.6h0M189.2 2296.4h0M166.2 2292.6h0M187.2 2317.9h0M166.3 2288.8h0M158.4 2251.9h0M161.9 2251.6h0M160.0 2296.6h0M161.3 2291.0h0M181.0 2332.0h0M163.4 2272.3h0M183.5 2307.0h0M151.5 2268.0h0M168.7 2269.3h0M183.4 2304.2h0M181.8 2332.1h0M175.1 2275.0h0M165.8 2275.9h0M164.5 2290.5h0M184.9 2304.6h0M173.6 2281.3h0M178.7 2312.6h0M186.3 2331.9h0M172.7 2289.9h0M159.2 2280.3h0M151.1 2266.6h0M164.3 2269.2h0M158.9 2263.3h0M168.8 2314.8h0M155.1 2289.9h0M149.4 2294.1h0M168.0 2319.4h0M158.2 2293.5h0M152.2 2263.8h0M162.9 2296.1h0M166.1 2291.9h0M193.4 2333.0h0M155.6 2275.2h0M184.5 2323.8h0M159.3 2251.4h0M175.0 2293.4h0M165.8 2290.9h0M185.1 2319.9h0M182.2 2345.4h0M163.1 2273.1h0M165.5 2285.6h0M151.2 2237.3h0M183.1 2277.5h0M172.1 2313.9h0M164.2 2286.0h0M175.7 2301.4h0M151.2 2254.5h0M157.5 2279.8h0M153.9 2270.0h0M178.3 2281.0h0M185.1 2291.4h0M155.0 2281.3h0M178.7 2283.4h0M177.9 2324.6h0M177.5 2288.0h0M159.7 2262.6h0M185.2 2318.6h0M164.4 2290.1h0M167.0 2300.2h0M190.8 2325.2h0M174.0 2307.8h0M165.0 2278.8h0M178.0 2321.6h0M157.7 2270.4h0M176.8 2283.7h0M159.1 2274.3h0M161.8 2304.8h0M166.4 2256.7h0M152.4 2260.4h0M161.7 2263.8h0M171.0 2293.7h0M161.9 2268.9h0M154.1 2234.7h0M157.8 2270.0h0M175.0 2289.5h0M177.4 2300.0h0M175.1 2288.4h0M174.5 2309.6h0M188.3 2326.4h0M178.2 2317.6h0M154.3 2246.5h0M172.4 2318.7h0M161.7 2284.8h0M170.0 2293.7h0M161.6 2236.0h0M165.7 2302.3h0M151.7 2284.5h0M162.6 2287.7h0M154.8 2271.8h0M182.7 2289.9h0M167.3 2262.0h0M152.0 2264.4h0M172.4 2299.5h0M165.1 2269.3h0M170.9 2284.7h0M169.2 2297.5h0M169.8 2300.0h0M177.6 2307.5h0M166.3 2267.5h0M180.4 2301.3h0M171.5 2316.6h0M174.9 2274.4h0M158.4 2249.6h0M172.6 2295.2h0M174.2 2279.2h0M168.7 2275.1h0M185.4 2322.6h0M164.1 2269.8h0M171.8 2279.0h0M172.5 2301.6h0M164.3 2285.5h0M171.2 2306.4h0M165.5 2268.5h0M168.3 2250.9h0M156.4 2277.1h0M160.2 2288.4h0M151.8 2279.9h0M180.1 2330.7h0M174.6 2298.4h0M179.4 2323.2h0M156.9 2290.7h0M174.2 2291.8h0M168.5 2318.8h0M156.1 2277.8h0M168.5 2274.2h0M159.6 2261.3h0M161.9 2270.4h0M174.6 2257.4h0M178.5 2307.2h0M154.1 2275.7h0M148.3 2275.8h0M159.9 2272.0h0M162.3 2312.2h0M187.0 2308.6h0M153.1 2236.2h0M170.3 2300.5h0M157.5 2266.0h0M157.6 2272.7h0M181.9 2335.6h0M154.6 2262.1h0M163.1 2303.2h0M181.0 2295.3h0M168.6 2300.3h0M153.4 2254.9h0M145.8 2255.6h0M156.3 2287.9h0M179.5 2294.8h0M166.1 2296.9h0M156.8 2235.8h0M187.2 2312.2h0M150.7 2262.9h0M156.4 2283.1h0M153.4 2273.5h0M178.4 2298.4h0M150.7 2250.6h0M167.8 2264.5h0M163.7 2284.5h0M168.8 2247.9h0M145.6 2268.6h0M159.6 2261.6h0M168.4 2307.6h0M165.7 2281.8h0M167.6 2267.2h0M161.0 2240.6h0M167.8 2274.7h0M156.4 2252.8h0M167.9 2296.6h0M159.6 2294.0h0M184.9 2303.0h0" stroke="#393870" stroke-width="5.8" stroke-linecap="round" fill="none"/>
<path d="M200.6 2306.6h0M172.5 2246.4h0M179.2 2249.1h0M182.4 2246.1h0M199.6 2317.6h0M204.8 2333.0h0M211.7 2331.2h0M176.7 2243.2h0M196.4 2275.8h0M169.3 2237.5h0M191.9 2277.7h0M192.7 2268.9h0M208.3 2330.9h0M204.1 2308.2h0M173.8 2241.3h0M204.4 2311.9h0M182.7 2254.5h0M206.0 2307.5h0M185.2 2272.2h0M170.3 2236.5h0M202.4 2304.2h0M178.4 2227.8h0M197.4 2277.5h0M183.7 2237.7h0M179.6 2236.5h0M169.0 2237.0h0M194.0 2270.6h0M181.8 2262.9h0M191.8 2285.3h0M214.9 2325.3h0M169.9 2232.5h0M196.1 2267.0h0M194.4 2296.9h0M172.8 2238.5h0M398.9 2161.6h0M295.4 2178.5h0M339.2 2180.0h0M254.5 2198.9h0M303.0 2209.7h0M401.4 2214.3h0M205.4 2220.0h0M247.6 2213.7h0M251.3 2213.7h0M264.4 2221.1h0M280.9 2214.3h0M335.5 2219.0h0M359.3 2223.4h0M354.0 2229.1h0M239.1 2227.4h0M240.8 2232.2h0M281.3 2227.4h0M283.0 2229.1h0M298.1 2233.3h0M308.7 2233.3h0M325.5 2233.3h0M340.3 2233.9h0M302.4 2239.6h0M301.3 2245.5h0M288.7 2241.7h0M286.6 2247.0h0M287.6 2251.8h0M267.6 2244.9h0M234.9 2243.8h0M239.1 2246.4h0M244.4 2248.0h0M208.6 2241.3h0M214.9 2248.0h0M344.5 2247.4h0M351.9 2252.3h0M312.9 2255.4h0M295.6 2260.3h0M279.2 2260.7h0M254.9 2262.4h0M237.0 2262.8h0M236.0 2269.1h0M268.6 2266.0h0M273.9 2264.9h0M280.2 2264.9h0M286.6 2267.0h0M334.6 2263.2h0M384.1 2267.6h0M244.4 2273.3h0M241.7 2276.5h0M210.7 2261.7h0M207.5 2267.0h0M212.8 2279.0h0M221.2 2286.0h0M234.9 2287.0h0M320.7 2279.7h0M345.6 2280.3h0M339.2 2284.9h0M402.9 2295.9h0M244.4 2296.5h0M260.2 2295.5h0M275.0 2296.5h0M281.3 2294.4h0M257.0 2306.6h0M232.8 2306.6h0M316.1 2301.8h0M310.8 2315.5h0M307.6 2326.0h0M374.7 2319.1h0M266.5 2321.8h0M254.5 2326.5h0M261.3 2332.8h0M272.8 2329.8h0M230.3 2332.8h0M344.5 2335.9h0M362.4 2344.4h0M313.5 2351.3h0M425.7 2350.7h0M359.3 2361.9h0M210.0 2354.5h0M230.3 2365.5h0M261.9 2366.1h0M229.6 2376.6h0M226.5 2385.7h0M236.0 2392.4h0M263.4 2385.7h0M283.4 2391.4h0M280.2 2396.0h0M244.8 2411.8h0M269.3 2434.6h0M265.9 2464.5h0M269.3 2477.8h0" stroke="#F47D2F" stroke-width="5.4" stroke-linecap="round" fill="none"/>
<rect x="112.2" y="2139.5" width="334.5" height="358.3" fill="none" stroke="#2b2b2b" stroke-width="4.3"/>
<line x1="159.0" y1="2500.0" x2="159.0" y2="2507.0" stroke="#2b2b2b" stroke-width="3.2"/>
<text x="159.0" y="2537.2" font-size="27" fill="#1c1c1c" text-anchor="middle">0.0</text>
<line x1="252.3" y1="2500.0" x2="252.3" y2="2507.0" stroke="#2b2b2b" stroke-width="3.2"/>
<text x="252.3" y="2537.2" font-size="27" fill="#1c1c1c" text-anchor="middle">2.5</text>
<line x1="345.6" y1="2500.0" x2="345.6" y2="2507.0" stroke="#2b2b2b" stroke-width="3.2"/>
<text x="345.6" y="2537.2" font-size="27" fill="#1c1c1c" text-anchor="middle">5.0</text>
<line x1="439.0" y1="2500.0" x2="439.0" y2="2507.0" stroke="#2b2b2b" stroke-width="3.2"/>
<text x="439.0" y="2537.2" font-size="27" fill="#1c1c1c" text-anchor="middle">7.5</text>
<line x1="103.0" y1="2151.1" x2="110.0" y2="2151.1" stroke="#2b2b2b" stroke-width="3.2"/>
<text x="97.0" y="2160.8" font-size="27" fill="#1c1c1c" text-anchor="end">4</text>
<line x1="103.0" y1="2216.3" x2="110.0" y2="2216.3" stroke="#2b2b2b" stroke-width="3.2"/>
<text x="97.0" y="2225.9" font-size="27" fill="#1c1c1c" text-anchor="end">2</text>
<line x1="103.0" y1="2281.4" x2="110.0" y2="2281.4" stroke="#2b2b2b" stroke-width="3.2"/>
<text x="97.0" y="2291.1" font-size="27" fill="#1c1c1c" text-anchor="end">0</text>
<line x1="103.0" y1="2346.5" x2="110.0" y2="2346.5" stroke="#2b2b2b" stroke-width="3.2"/>
<text x="97.0" y="2356.2" font-size="27" fill="#1c1c1c" text-anchor="end">−2</text>
<line x1="103.0" y1="2411.7" x2="110.0" y2="2411.7" stroke="#2b2b2b" stroke-width="3.2"/>
<text x="97.0" y="2421.3" font-size="27" fill="#1c1c1c" text-anchor="end">−4</text>
<line x1="103.0" y1="2476.8" x2="110.0" y2="2476.8" stroke="#2b2b2b" stroke-width="3.2"/>
<text x="97.0" y="2486.5" font-size="27" fill="#1c1c1c" text-anchor="end">−6</text>
<text x="264.0" y="2571.7" font-size="27" fill="#1c1c1c" text-anchor="middle">PC1</text>
<text transform="translate(27.9,2334.0) rotate(-90)" x="0" y="9.7" font-size="27" fill="#1c1c1c" text-anchor="middle">PC2</text>
<text x="455.7" y="2301.4" font-size="18.5" fill="#333">Risk</text>
<circle cx="460.7" cy="2317.7" r="8.2" fill="#F47D2F"/>
<circle cx="460.7" cy="2342.3" r="8.2" fill="#393870"/>
<text x="472.0" y="2322.6" font-size="18.5" fill="#333">High</text>
<text x="472.0" y="2347.4" font-size="18.5" fill="#333">Low</text>
<path d="M860.5 2226.9h0M888.6 2260.3h0M889.1 2261.1h0M717.3 2258.2h0M764.4 2220.6h0M803.2 2282.4h0M803.4 2282.1h0M803.7 2285.3h0M806.3 2288.4h0M801.8 2294.0h0M802.5 2293.5h0M803.9 2288.3h0M816.3 2285.7h0M818.1 2289.6h0M822.1 2297.0h0M823.0 2301.6h0M823.7 2302.7h0M824.5 2307.2h0M866.2 2273.3h0M897.1 2274.8h0M900.8 2280.0h0M840.9 2305.0h0M842.9 2305.5h0M853.3 2301.3h0M854.7 2307.4h0M856.4 2311.7h0M850.7 2316.1h0M850.4 2318.2h0M882.2 2291.8h0M682.2 2287.9h0M643.4 2300.3h0M690.3 2306.5h0M691.6 2307.9h0M693.7 2308.7h0M695.5 2310.1h0M699.4 2310.5h0M700.2 2312.0h0M702.1 2311.0h0M704.0 2307.6h0M706.2 2306.0h0M708.8 2304.3h0M709.6 2301.9h0M710.4 2302.6h0M714.4 2302.3h0M715.2 2304.7h0M717.9 2306.6h0M722.2 2309.1h0M729.6 2302.2h0M731.7 2302.4h0M724.8 2313.8h0M729.6 2314.6h0M707.5 2324.3h0M717.4 2332.5h0M718.7 2334.4h0M727.9 2327.4h0M730.5 2325.3h0M733.2 2321.7h0M745.4 2324.1h0M747.7 2323.5h0M750.5 2320.2h0M754.3 2319.0h0M757.4 2315.8h0M759.8 2314.8h0M763.6 2312.5h0M765.3 2312.9h0M765.3 2332.8h0M766.8 2330.8h0M769.0 2328.4h0M770.6 2326.2h0M771.9 2323.0h0M710.5 2347.6h0M710.2 2351.7h0M709.4 2352.9h0M708.3 2357.7h0M719.4 2348.8h0M721.0 2349.8h0M722.9 2351.9h0M725.0 2353.5h0M732.9 2345.0h0M734.6 2343.9h0M736.8 2340.2h0M753.8 2352.5h0M757.2 2355.5h0M759.1 2356.4h0M759.9 2358.0h0M718.9 2369.0h0M720.4 2370.9h0M770.1 2368.0h0M774.5 2366.4h0M778.3 2365.2h0M781.5 2362.2h0M784.4 2361.9h0M788.4 2359.9h0M801.6 2364.6h0M803.9 2367.4h0M803.5 2370.5h0M810.9 2374.5h0M812.0 2376.7h0M814.1 2379.0h0M822.1 2365.2h0M825.4 2363.0h0M828.1 2362.5h0M831.5 2359.2h0M824.6 2344.3h0M630.6 2325.8h0M632.6 2325.8h0M636.2 2327.8h0M641.9 2330.0h0M645.2 2330.5h0M648.0 2330.1h0M653.0 2332.5h0M636.7 2345.2h0M637.5 2344.5h0M640.6 2340.3h0M644.4 2340.6h0M646.3 2337.6h0M651.9 2345.4h0M650.9 2350.2h0M651.1 2353.5h0M656.3 2335.0h0M665.6 2343.6h0M666.5 2345.9h0M668.0 2348.1h0M671.6 2350.7h0M672.9 2353.4h0M648.5 2373.4h0M649.5 2373.1h0M651.6 2369.3h0M654.5 2368.0h0M854.2 2331.4h0M859.2 2330.8h0M862.8 2332.2h0M865.4 2333.3h0M873.1 2334.1h0M875.3 2337.6h0M868.5 2340.5h0M867.6 2344.2h0M870.8 2345.8h0M870.9 2347.9h0M865.6 2350.9h0M885.8 2342.2h0M889.7 2343.1h0M892.2 2344.3h0M895.4 2344.0h0M899.7 2345.0h0M903.0 2343.5h0M906.1 2345.7h0M876.3 2356.5h0M876.5 2356.5h0M880.2 2357.9h0M881.8 2359.3h0M886.2 2361.4h0M888.7 2363.4h0M892.4 2364.7h0M884.1 2359.5h0M887.1 2358.1h0M890.5 2358.1h0M670.4 2380.8h0M674.3 2382.6h0M678.7 2382.6h0M677.3 2392.4h0M677.6 2391.4h0M678.1 2389.3h0M686.8 2397.4h0M687.4 2394.4h0M690.4 2393.2h0M692.2 2391.5h0M693.7 2388.9h0M696.2 2386.0h0M695.4 2386.2h0M697.5 2389.4h0M699.1 2392.1h0M703.5 2397.3h0M660.6 2410.1h0M663.3 2412.2h0M664.8 2413.8h0M667.7 2415.3h0M670.2 2416.8h0M672.9 2418.7h0M663.4 2414.7h0M663.8 2418.4h0M678.0 2408.3h0M679.3 2408.7h0M706.0 2408.1h0M707.4 2411.4h0M708.9 2414.0h0M708.1 2416.6h0M710.8 2418.7h0M701.9 2418.6h0M705.5 2421.4h0M707.5 2423.5h0M726.7 2404.2h0M727.4 2405.2h0M726.6 2421.9h0M729.4 2422.3h0M731.0 2420.2h0M732.5 2420.5h0M676.5 2428.8h0M678.6 2428.6h0M682.3 2431.0h0M684.8 2429.6h0M686.3 2430.2h0M690.9 2430.3h0M665.9 2434.4h0M664.6 2435.5h0M701.0 2434.7h0M705.1 2436.6h0M704.7 2434.4h0M708.3 2433.9h0M709.8 2431.0h0M712.3 2430.3h0M712.8 2437.8h0M715.5 2436.9h0M719.9 2437.3h0M721.6 2437.3h0M722.9 2435.2h0M726.3 2434.7h0M679.7 2443.4h0M680.3 2443.7h0M681.1 2448.3h0M682.6 2449.6h0M698.8 2446.3h0M701.4 2447.7h0M686.1 2462.8h0M688.4 2460.8h0M690.5 2461.1h0M695.2 2459.0h0M694.8 2458.6h0M698.6 2456.0h0M700.9 2455.4h0M704.9 2453.7h0M706.9 2453.6h0M699.0 2467.9h0M702.3 2471.0h0M705.2 2471.7h0M705.2 2472.4h0M709.5 2469.8h0M711.8 2468.1h0M714.6 2467.3h0M719.9 2464.3h0M721.1 2462.5h0" stroke="#F47D2F" stroke-width="5.5" stroke-linecap="round" fill="none"/>
<path d="M708.6 2160.9h0M710.6 2165.5h0M710.9 2167.9h0M710.5 2171.2h0M689.0 2170.0h0M693.6 2173.0h0M695.6 2174.4h0M699.6 2178.6h0M702.6 2178.5h0M703.7 2177.1h0M715.0 2175.5h0M717.2 2177.2h0M720.8 2176.9h0M721.8 2175.6h0M724.2 2177.0h0M726.5 2177.5h0M728.4 2178.5h0M733.0 2179.1h0M739.3 2177.2h0M745.0 2177.9h0M753.0 2177.2h0M759.1 2176.7h0M765.0 2176.6h0M763.9 2176.0h0M769.2 2175.8h0M773.9 2175.0h0M777.3 2173.5h0M779.1 2172.4h0M768.5 2176.0h0M771.9 2178.1h0M774.6 2180.8h0M676.9 2191.4h0M683.2 2191.0h0M685.8 2188.5h0M683.9 2199.0h0M685.8 2199.9h0M686.1 2201.4h0M687.9 2207.7h0M689.8 2210.2h0M708.9 2193.6h0M712.5 2193.1h0M714.6 2193.5h0M717.9 2190.6h0M719.8 2191.2h0M724.7 2188.7h0M713.4 2196.8h0M716.6 2196.2h0M720.3 2194.8h0M702.5 2202.9h0M704.1 2205.0h0M705.8 2206.4h0M706.3 2207.2h0M707.2 2209.4h0M709.3 2207.3h0M711.2 2212.6h0M711.9 2213.7h0M714.6 2215.2h0M733.2 2207.7h0M737.4 2206.2h0M742.6 2205.9h0M745.0 2205.5h0M779.9 2186.7h0M781.3 2188.3h0M783.4 2190.5h0M783.9 2189.9h0M787.3 2193.0h0M781.4 2197.3h0M781.4 2200.6h0M779.3 2202.5h0M777.0 2205.8h0M777.0 2207.3h0M765.7 2209.7h0M768.0 2207.7h0M771.8 2207.5h0M809.0 2192.8h0M811.9 2192.2h0M815.7 2191.7h0M819.6 2191.1h0M815.1 2197.5h0M817.5 2198.3h0M719.6 2221.9h0M703.6 2219.9h0M704.2 2224.1h0M708.8 2229.8h0M739.1 2229.7h0M740.3 2231.1h0M697.0 2236.9h0M697.9 2239.2h0M699.8 2244.0h0M701.8 2245.4h0M703.3 2247.8h0M684.1 2247.7h0M689.6 2250.0h0M690.8 2252.7h0M699.8 2250.1h0M698.9 2250.8h0M698.5 2254.9h0M696.9 2257.7h0M745.7 2242.1h0M749.4 2241.6h0M751.5 2239.6h0M755.4 2238.8h0M756.7 2237.2h0M751.2 2252.7h0M750.5 2251.1h0M754.4 2247.5h0M752.0 2243.6h0M766.8 2238.9h0M771.7 2241.4h0M791.6 2217.1h0M794.0 2218.2h0M796.6 2219.9h0M808.8 2216.9h0M781.9 2232.2h0M784.6 2230.6h0M787.5 2230.4h0M791.1 2229.4h0M793.3 2227.9h0M794.8 2227.8h0M799.7 2226.3h0M802.1 2225.2h0M788.5 2238.6h0M791.2 2237.5h0M795.3 2238.8h0M797.4 2240.7h0M802.2 2239.9h0M805.5 2239.9h0M797.5 2232.0h0M797.2 2237.0h0M797.3 2241.5h0M797.5 2244.2h0M789.6 2252.8h0M813.2 2249.0h0M814.2 2253.1h0M814.3 2255.3h0M815.4 2259.7h0M816.0 2263.5h0M864.4 2241.8h0M867.0 2243.7h0M869.0 2243.9h0M871.4 2245.5h0M873.5 2248.0h0M843.7 2254.8h0M846.7 2256.3h0M849.2 2257.2h0M854.0 2257.9h0M854.6 2258.6h0M871.9 2259.6h0M869.8 2261.2h0M867.6 2263.5h0M671.4 2263.1h0M674.7 2266.8h0M674.7 2270.3h0M675.7 2274.1h0M691.1 2271.5h0M691.5 2277.0h0M694.6 2280.9h0M696.6 2286.2h0M695.4 2285.8h0M699.8 2284.1h0M704.9 2282.5h0M709.5 2278.8h0M714.4 2277.7h0M721.8 2274.8h0M724.1 2273.4h0M726.8 2273.1h0M775.0 2274.2h0M774.9 2278.0h0M792.5 2273.5h0M644.6 2279.8h0M647.2 2279.2h0M651.5 2279.0h0M655.3 2279.6h0M658.0 2277.3h0M654.6 2280.0h0M653.6 2283.0h0M656.3 2287.8h0M656.8 2290.4h0M648.2 2299.4h0M650.3 2303.5h0M651.6 2306.1h0M654.8 2307.6h0M656.1 2310.7h0M822.3 2280.3h0M825.0 2281.0h0M825.9 2283.8h0M836.9 2290.3h0M839.3 2292.5h0M839.9 2293.7h0M853.1 2279.3h0M857.3 2278.2h0M860.8 2277.5h0M861.5 2275.4h0M855.5 2279.0h0M856.0 2283.3h0M856.6 2286.2h0M856.3 2288.4h0M856.4 2289.2h0M862.2 2289.6h0M882.7 2278.4h0M886.6 2278.7h0M893.5 2284.6h0M899.7 2283.7h0M904.3 2286.0h0M909.1 2285.2h0M890.7 2293.9h0M895.4 2295.4h0M898.4 2294.8h0M885.1 2304.5h0M886.1 2310.6h0M893.5 2317.0h0M895.3 2317.8h0M897.6 2318.5h0M889.4 2329.3h0M891.0 2332.8h0M766.9 2308.6h0M769.0 2311.0h0M782.3 2312.4h0M786.0 2313.4h0M788.4 2315.4h0M793.2 2317.7h0M788.8 2322.3h0M789.6 2324.2h0M817.1 2327.1h0M818.0 2323.9h0M819.6 2322.0h0M824.4 2320.7h0M833.5 2320.3h0M857.1 2316.6h0M857.9 2316.5h0M861.9 2317.8h0M866.4 2316.8h0M858.4 2310.3h0M865.0 2315.7h0M659.7 2324.8h0M662.0 2328.6h0M663.3 2330.2h0M668.1 2334.6h0M721.4 2321.0h0M723.4 2322.2h0M725.5 2321.2h0M743.9 2328.6h0M745.9 2331.3h0M746.8 2332.9h0M749.4 2335.9h0M787.4 2341.5h0M789.0 2341.6h0M796.2 2339.1h0M798.7 2338.4h0M795.9 2343.4h0M796.2 2347.2h0M795.8 2350.8h0M841.1 2333.2h0M842.3 2339.5h0M844.2 2342.9h0M833.8 2349.9h0M838.6 2349.5h0M841.1 2346.5h0M842.5 2345.4h0M842.3 2345.5h0M845.1 2347.6h0M846.9 2349.8h0M848.4 2354.2h0M850.7 2356.2h0M807.6 2357.3h0M810.0 2357.1h0M813.5 2360.1h0M874.7 2350.5h0M881.3 2352.6h0M885.5 2351.4h0M891.9 2352.6h0M778.5 2367.5h0M780.7 2368.1h0M816.8 2379.8h0M834.9 2229.3h0M833.4 2233.9h0M829.6 2236.7h0M824.8 2236.7h0M820.9 2233.9h0M819.5 2229.3h0M820.9 2224.8h0M824.8 2222.0h0M829.6 2222.0h0M833.4 2224.8h0" stroke="#393870" stroke-width="5.5" stroke-linecap="round" fill="none"/>
<rect x="613.5" y="2134.5" width="312.2" height="362.1" fill="none" stroke="#2b2b2b" stroke-width="4.4"/>
<line x1="663.7" y1="2498.8" x2="663.7" y2="2505.8" stroke="#2b2b2b" stroke-width="3.2"/>
<text x="663.7" y="2537.2" font-size="27" fill="#1c1c1c" text-anchor="middle">−20</text>
<line x1="715.0" y1="2498.8" x2="715.0" y2="2505.8" stroke="#2b2b2b" stroke-width="3.2"/>
<text x="715.0" y="2537.2" font-size="27" fill="#1c1c1c" text-anchor="middle">−10</text>
<line x1="766.3" y1="2498.8" x2="766.3" y2="2505.8" stroke="#2b2b2b" stroke-width="3.2"/>
<text x="766.3" y="2537.2" font-size="27" fill="#1c1c1c" text-anchor="middle">0</text>
<line x1="817.6" y1="2498.8" x2="817.6" y2="2505.8" stroke="#2b2b2b" stroke-width="3.2"/>
<text x="817.6" y="2537.2" font-size="27" fill="#1c1c1c" text-anchor="middle">10</text>
<line x1="868.9" y1="2498.8" x2="868.9" y2="2505.8" stroke="#2b2b2b" stroke-width="3.2"/>
<text x="868.9" y="2537.2" font-size="27" fill="#1c1c1c" text-anchor="middle">20</text>
<line x1="920.2" y1="2498.8" x2="920.2" y2="2505.8" stroke="#2b2b2b" stroke-width="3.2"/>
<text x="920.2" y="2537.2" font-size="27" fill="#1c1c1c" text-anchor="middle">30</text>
<line x1="604.3" y1="2195.9" x2="611.3" y2="2195.9" stroke="#2b2b2b" stroke-width="3.2"/>
<text x="598.0" y="2205.6" font-size="27" fill="#1c1c1c" text-anchor="end">20</text>
<line x1="604.3" y1="2316.7" x2="611.3" y2="2316.7" stroke="#2b2b2b" stroke-width="3.2"/>
<text x="598.0" y="2326.4" font-size="27" fill="#1c1c1c" text-anchor="end">0</text>
<line x1="604.3" y1="2437.5" x2="611.3" y2="2437.5" stroke="#2b2b2b" stroke-width="3.2"/>
<text x="598.0" y="2447.2" font-size="27" fill="#1c1c1c" text-anchor="end">−20</text>
<text x="780.7" y="2572.7" font-size="27" fill="#1c1c1c" text-anchor="middle">tSNE1</text>
<text transform="translate(569.0,2313.4) rotate(-90)" x="0" y="9.7" font-size="27" fill="#1c1c1c" text-anchor="middle">tSNE2</text>
<text x="936.4" y="2301.4" font-size="18.5" fill="#333">Risk</text>
<circle cx="952.8" cy="2318.4" r="8.2" fill="#F47D2F"/>
<circle cx="952.8" cy="2342.8" r="8.2" fill="#393870"/>
<text x="966.0" y="2323.1" font-size="18.5" fill="#333">High</text>
<text x="966.0" y="2347.6" font-size="18.5" fill="#333">Low</text>
<line x1="156.0" y1="1514.0" x2="700.0" y2="1083.5" stroke="#555" stroke-width="2.8" stroke-dasharray="3.5 9"/>
<polyline points="173.3,1500.0 175.8,1500.0 175.8,1471.9 191.0,1471.9 191.0,1439.7 196.1,1439.7 196.1,1407.5 198.6,1407.5 198.6,1375.4 211.3,1375.4 211.3,1343.2 213.8,1343.2 213.8,1311.1 217.3,1311.1 217.3,1280.9 223.9,1280.9 223.9,1250.8 229.5,1250.8 229.5,1217.4 241.9,1217.4 241.9,1185.2 262.9,1185.2 262.9,1155.5 295.5,1155.5 295.5,1126.5 645.7,1126.5 645.7,1098.0 679.4,1098.0" fill="none" stroke="#E5573F" stroke-width="3.0" stroke-linejoin="miter" stroke-linecap="butt"/>
<polyline points="173.3,1500.0 173.3,1403.5 179.4,1403.5 179.4,1393.5 184.4,1393.5 184.4,1383.4 190.0,1383.4 190.0,1224.6 202.1,1224.6 202.1,1213.2 215.8,1213.2 215.8,1205.3 228.0,1205.3 228.0,1190.5 241.9,1190.5 241.9,1183.2 292.2,1183.2 292.2,1171.2 362.1,1171.2 362.1,1156.3 513.9,1156.3 513.9,1138.6 578.2,1138.6 578.2,1126.5 660.7,1126.5 660.7,1116.5 680.9,1116.5 680.9,1098.0" fill="none" stroke="#BDD456" stroke-width="3.0" stroke-linejoin="miter" stroke-linecap="butt"/>
<polyline points="173.3,1500.0 173.3,1443.7 179.9,1443.7 179.9,1307.8 192.0,1307.8 192.0,1283.3 207.2,1283.3 207.2,1275.5 219.9,1275.5 219.9,1234.3 290.7,1234.3 290.7,1227.2 334.7,1227.2 334.7,1208.8 348.4,1208.8 348.4,1161.5 520.0,1161.5 520.0,1151.1 608.0,1151.1 608.0,1126.5 622.0,1126.5 622.0,1114.9 635.9,1114.9 635.9,1109.7 679.4,1109.7 679.4,1098.0" fill="none" stroke="#58C27A" stroke-width="3.0" stroke-linejoin="miter" stroke-linecap="butt"/>
<rect x="155.0" y="1082.3" width="546.5" height="433.2" fill="none" stroke="#333" stroke-width="2.9"/>
<line x1="173.3" y1="1517.0" x2="173.3" y2="1525.0" stroke="#333" stroke-width="2.6"/>
<text x="173.3" y="1555.7" font-size="27" fill="#1c1c1c" text-anchor="middle">0.0</text>
<line x1="274.5" y1="1517.0" x2="274.5" y2="1525.0" stroke="#333" stroke-width="2.6"/>
<text x="274.5" y="1555.7" font-size="27" fill="#1c1c1c" text-anchor="middle">0.2</text>
<line x1="375.7" y1="1517.0" x2="375.7" y2="1525.0" stroke="#333" stroke-width="2.6"/>
<text x="375.7" y="1555.7" font-size="27" fill="#1c1c1c" text-anchor="middle">0.4</text>
<line x1="477.0" y1="1517.0" x2="477.0" y2="1525.0" stroke="#333" stroke-width="2.6"/>
<text x="477.0" y="1555.7" font-size="27" fill="#1c1c1c" text-anchor="middle">0.6</text>
<line x1="578.2" y1="1517.0" x2="578.2" y2="1525.0" stroke="#333" stroke-width="2.6"/>
<text x="578.2" y="1555.7" font-size="27" fill="#1c1c1c" text-anchor="middle">0.8</text>
<line x1="679.4" y1="1517.0" x2="679.4" y2="1525.0" stroke="#333" stroke-width="2.6"/>
<text x="679.4" y="1555.7" font-size="27" fill="#1c1c1c" text-anchor="middle">1.0</text>
<line x1="145.6" y1="1500.0" x2="153.6" y2="1500.0" stroke="#333" stroke-width="2.6"/>
<text x="131.0" y="1509.7" font-size="27" fill="#1c1c1c" text-anchor="end">0.0</text>
<line x1="145.6" y1="1419.6" x2="153.6" y2="1419.6" stroke="#333" stroke-width="2.6"/>
<text x="131.0" y="1429.3" font-size="27" fill="#1c1c1c" text-anchor="end">0.2</text>
<line x1="145.6" y1="1339.2" x2="153.6" y2="1339.2" stroke="#333" stroke-width="2.6"/>
<text x="131.0" y="1348.9" font-size="27" fill="#1c1c1c" text-anchor="end">0.4</text>
<line x1="145.6" y1="1258.8" x2="153.6" y2="1258.8" stroke="#333" stroke-width="2.6"/>
<text x="131.0" y="1268.5" font-size="27" fill="#1c1c1c" text-anchor="end">0.6</text>
<line x1="145.6" y1="1178.4" x2="153.6" y2="1178.4" stroke="#333" stroke-width="2.6"/>
<text x="131.0" y="1188.1" font-size="27" fill="#1c1c1c" text-anchor="end">0.8</text>
<line x1="145.6" y1="1098.0" x2="153.6" y2="1098.0" stroke="#333" stroke-width="2.6"/>
<text x="131.0" y="1107.7" font-size="27" fill="#1c1c1c" text-anchor="end">1.0</text>
<text x="409.5" y="1591.3" font-size="27" fill="#1c1c1c" text-anchor="middle" textLength="152.0" lengthAdjust="spacingAndGlyphs">1-Specificity</text>
<text transform="translate(61.0,1298.7) rotate(-90)" x="0" y="9.7" font-size="27" fill="#1c1c1c" text-anchor="middle" textLength="136.0" lengthAdjust="spacingAndGlyphs">Sensitivity</text>
<line x1="405.0" y1="1433.4" x2="451.0" y2="1433.4" stroke="#E5573F" stroke-width="3.0"/>
<text x="453.0" y="1442.2" font-size="24.5" fill="#1c1c1c" textLength="228.0" lengthAdjust="spacingAndGlyphs">AUC (1 years): 0.846</text>
<line x1="405.0" y1="1462.4" x2="451.0" y2="1462.4" stroke="#BDD456" stroke-width="3.0"/>
<text x="453.0" y="1471.2" font-size="24.5" fill="#1c1c1c" textLength="228.0" lengthAdjust="spacingAndGlyphs">AUC (3 years): 0.833</text>
<line x1="405.0" y1="1491.5" x2="451.0" y2="1491.5" stroke="#58C27A" stroke-width="3.0"/>
<text x="453.0" y="1500.3" font-size="24.5" fill="#1c1c1c" textLength="228.0" lengthAdjust="spacingAndGlyphs">AUC (5 years): 0.788</text>
<line x1="1147.0" y1="2475.5" x2="1483.0" y2="2155.0" stroke="#555" stroke-width="2.6" stroke-dasharray="3 5.2"/>
<polyline points="1159.7,2463.5 1163.2,2463.5 1163.2,2454.5 1164.4,2454.5 1164.4,2410.1 1166.6,2410.1 1166.6,2349.2 1171.4,2349.2 1171.4,2323.4 1173.9,2323.4 1173.9,2290.9 1180.2,2289.4 1180.2,2275.6 1182.3,2275.6 1182.3,2254.9 1187.4,2253.4 1187.4,2230.9 1190.6,2230.9 1190.6,2218.3 1196.9,2218.3 1196.9,2205.7 1217.0,2205.7 1217.0,2196.4 1233.9,2196.4 1233.9,2183.8 1364.8,2183.8 1364.8,2174.4 1457.4,2174.4 1457.4,2164.9 1474.7,2163.4" fill="none" stroke="#EA6550" stroke-width="2.4" stroke-linejoin="miter" stroke-linecap="butt"/>
<polyline points="1159.7,2463.5 1159.7,2403.5 1161.3,2403.5 1161.3,2343.5 1163.5,2337.5 1164.7,2284.9 1167.6,2279.8 1172.3,2277.4 1172.3,2254.9 1178.0,2244.4 1184.3,2243.2 1190.6,2236.0 1195.0,2236.0 1195.0,2227.6 1204.4,2223.4 1204.4,2218.3 1209.5,2212.9 1231.5,2212.9 1231.5,2208.7 1247.9,2206.9 1247.9,2198.5 1281.0,2198.5 1281.0,2188.9 1287.6,2188.9 1287.6,2184.4 1377.4,2184.4 1377.4,2177.5 1436.3,2177.5 1441.6,2169.1 1474.7,2163.4" fill="none" stroke="#CDDD82" stroke-width="2.4" stroke-linejoin="miter" stroke-linecap="butt"/>
<polyline points="1159.7,2463.5 1159.7,2426.9 1160.6,2426.9 1160.6,2339.0 1164.4,2339.0 1164.4,2319.5 1171.4,2316.5 1171.4,2302.9 1175.9,2297.5 1186.5,2295.4 1190.6,2289.1 1199.1,2288.2 1199.1,2264.2 1208.5,2254.6 1216.4,2253.4 1220.2,2246.4 1224.3,2240.2 1246.5,2234.8 1261.1,2234.8 1263.3,2227.6 1267.6,2223.4 1278.1,2222.5 1280.2,2215.0 1282.2,2208.7 1292.9,2201.5 1307.1,2201.5 1308.7,2196.4 1355.3,2196.4 1358.5,2191.0 1375.5,2191.0 1382.7,2184.7 1382.7,2179.6 1436.3,2179.6 1440.7,2169.1 1474.7,2163.4" fill="none" stroke="#6FCB8E" stroke-width="2.4" stroke-linejoin="miter" stroke-linecap="butt"/>
<rect x="1145.6" y="2153.2" width="338.6" height="323.6" fill="none" stroke="#333" stroke-width="4.2"/>
<line x1="1159.7" y1="2478.9" x2="1159.7" y2="2486.9" stroke="#333" stroke-width="3"/>
<text x="1159.7" y="2515.7" font-size="27" fill="#1c1c1c" text-anchor="middle">0.0</text>
<line x1="1222.7" y1="2478.9" x2="1222.7" y2="2486.9" stroke="#333" stroke-width="3"/>
<text x="1222.7" y="2515.7" font-size="27" fill="#1c1c1c" text-anchor="middle">0.2</text>
<line x1="1285.7" y1="2478.9" x2="1285.7" y2="2486.9" stroke="#333" stroke-width="3"/>
<text x="1285.7" y="2515.7" font-size="27" fill="#1c1c1c" text-anchor="middle">0.4</text>
<line x1="1348.7" y1="2478.9" x2="1348.7" y2="2486.9" stroke="#333" stroke-width="3"/>
<text x="1348.7" y="2515.7" font-size="27" fill="#1c1c1c" text-anchor="middle">0.6</text>
<line x1="1411.7" y1="2478.9" x2="1411.7" y2="2486.9" stroke="#333" stroke-width="3"/>
<text x="1411.7" y="2515.7" font-size="27" fill="#1c1c1c" text-anchor="middle">0.8</text>
<line x1="1474.7" y1="2478.9" x2="1474.7" y2="2486.9" stroke="#333" stroke-width="3"/>
<text x="1474.7" y="2515.7" font-size="27" fill="#1c1c1c" text-anchor="middle">1.0</text>
<line x1="1135.5" y1="2463.5" x2="1143.5" y2="2463.5" stroke="#333" stroke-width="3"/>
<text x="1131.0" y="2473.2" font-size="27" fill="#1c1c1c" text-anchor="end">0.0</text>
<line x1="1135.5" y1="2403.5" x2="1143.5" y2="2403.5" stroke="#333" stroke-width="3"/>
<text x="1131.0" y="2413.1" font-size="27" fill="#1c1c1c" text-anchor="end">0.2</text>
<line x1="1135.5" y1="2343.5" x2="1143.5" y2="2343.5" stroke="#333" stroke-width="3"/>
<text x="1131.0" y="2353.1" font-size="27" fill="#1c1c1c" text-anchor="end">0.4</text>
<line x1="1135.5" y1="2283.4" x2="1143.5" y2="2283.4" stroke="#333" stroke-width="3"/>
<text x="1131.0" y="2293.1" font-size="27" fill="#1c1c1c" text-anchor="end">0.6</text>
<line x1="1135.5" y1="2223.4" x2="1143.5" y2="2223.4" stroke="#333" stroke-width="3"/>
<text x="1131.0" y="2233.1" font-size="27" fill="#1c1c1c" text-anchor="end">0.8</text>
<line x1="1135.5" y1="2163.4" x2="1143.5" y2="2163.4" stroke="#333" stroke-width="3"/>
<text x="1131.0" y="2173.1" font-size="27" fill="#1c1c1c" text-anchor="end">1.0</text>
<text x="1334.2" y="2550.9" font-size="27" fill="#1c1c1c" text-anchor="middle" textLength="150.0" lengthAdjust="spacingAndGlyphs">1-Specificity</text>
<text transform="translate(1075.0,2313.0) rotate(-90)" x="0" y="9.7" font-size="27" fill="#1c1c1c" text-anchor="middle" textLength="136.0" lengthAdjust="spacingAndGlyphs">Sensitivity</text>
<line x1="1301.4" y1="2414.8" x2="1328.3" y2="2414.8" stroke="#EA6550" stroke-width="2.4"/>
<text x="1331.9" y="2420.2" font-size="15" fill="#1c1c1c" textLength="145.1" lengthAdjust="spacingAndGlyphs">AUC (1 years): 0.887</text>
<line x1="1301.4" y1="2434.7" x2="1328.3" y2="2434.7" stroke="#CDDD82" stroke-width="2.4"/>
<text x="1331.9" y="2440.1" font-size="15" fill="#1c1c1c" textLength="145.1" lengthAdjust="spacingAndGlyphs">AUC (3 years): 0.884</text>
<line x1="1301.4" y1="2454.6" x2="1328.3" y2="2454.6" stroke="#6FCB8E" stroke-width="2.4"/>
<text x="1331.9" y="2460.0" font-size="15" fill="#1c1c1c" textLength="145.1" lengthAdjust="spacingAndGlyphs">AUC (5 years): 0.824</text>
<polyline points="957.0,1408.9 996.6,1416.6 1036.1,1415.3 1075.6,1419.8 1115.1,1421.1 1154.6,1423.0 1194.2,1424.3 1233.7,1423.0 1273.2,1423.6" fill="none" stroke="#4DBB63" stroke-width="6.5" stroke-linejoin="round" stroke-linecap="round"/>
<path d="M863.0 1416.6h0M904.9 1416.6h0M947.2 1416.6h0M988.7 1416.6h0M1032.1 1416.6h0M1073.6 1416.6h0M1115.1 1416.6h0M1158.6 1416.6h0M1200.1 1416.6h0M1241.6 1416.6h0M1285.1 1416.6h0" stroke="#BDBDBD" stroke-width="9.2" stroke-linecap="round" fill="none"/>
<polyline points="957.0,1317.0 996.6,1297.8 1036.1,1321.5 1075.6,1312.6 1115.1,1318.3 1154.6,1318.3 1194.2,1316.4 1233.7,1319.0 1273.2,1318.3" fill="none" stroke="#2D6DC4" stroke-width="6.5" stroke-linejoin="round" stroke-linecap="round"/>
<polyline points="957.0,1197.0 996.6,1227.1 1036.1,1258.0 1075.6,1257.3 1115.1,1264.4 1154.6,1277.9 1194.2,1277.9 1233.7,1281.7 1273.2,1284.3" fill="none" stroke="#A9D23E" stroke-width="6.5" stroke-linejoin="round" stroke-linecap="round"/>
<polyline points="957.0,1206.0 996.6,1216.2 1036.1,1240.0 1075.6,1236.1 1115.1,1244.5 1154.6,1248.3 1194.2,1254.1 1233.7,1252.8 1273.2,1256.0" fill="none" stroke="#DC2B27" stroke-width="6.5" stroke-linejoin="round" stroke-linecap="round"/>
<line x1="863.0" y1="1093.7" x2="863.0" y2="1482.6" stroke="#000" stroke-width="3.6"/>
<line x1="853.0" y1="1480.8" x2="863.0" y2="1480.8" stroke="#000" stroke-width="3.6"/>
<text x="845.0" y="1490.5" font-size="27" fill="#1c1c1c" text-anchor="end">0.4</text>
<line x1="853.0" y1="1416.6" x2="863.0" y2="1416.6" stroke="#000" stroke-width="3.6"/>
<text x="845.0" y="1426.2" font-size="27" fill="#1c1c1c" text-anchor="end">0.5</text>
<line x1="853.0" y1="1352.4" x2="863.0" y2="1352.4" stroke="#000" stroke-width="3.6"/>
<text x="845.0" y="1362.0" font-size="27" fill="#1c1c1c" text-anchor="end">0.6</text>
<line x1="853.0" y1="1288.1" x2="863.0" y2="1288.1" stroke="#000" stroke-width="3.6"/>
<text x="845.0" y="1297.8" font-size="27" fill="#1c1c1c" text-anchor="end">0.7</text>
<line x1="853.0" y1="1223.9" x2="863.0" y2="1223.9" stroke="#000" stroke-width="3.6"/>
<text x="845.0" y="1233.6" font-size="27" fill="#1c1c1c" text-anchor="end">0.8</text>
<line x1="853.0" y1="1159.7" x2="863.0" y2="1159.7" stroke="#000" stroke-width="3.6"/>
<text x="845.0" y="1169.4" font-size="27" fill="#1c1c1c" text-anchor="end">0.9</text>
<line x1="853.0" y1="1095.5" x2="863.0" y2="1095.5" stroke="#000" stroke-width="3.6"/>
<text x="845.0" y="1105.2" font-size="27" fill="#1c1c1c" text-anchor="end">1.0</text>
<line x1="876.2" y1="1497.3" x2="1275.0" y2="1497.3" stroke="#000" stroke-width="3.6"/>
<line x1="878.0" y1="1497.3" x2="878.0" y2="1506.3" stroke="#000" stroke-width="3.6"/>
<text x="878.0" y="1530.7" font-size="27" fill="#1c1c1c" text-anchor="middle">0</text>
<line x1="957.0" y1="1497.3" x2="957.0" y2="1506.3" stroke="#000" stroke-width="3.6"/>
<text x="957.0" y="1530.7" font-size="27" fill="#1c1c1c" text-anchor="middle">2</text>
<line x1="1036.1" y1="1497.3" x2="1036.1" y2="1506.3" stroke="#000" stroke-width="3.6"/>
<text x="1036.1" y="1530.7" font-size="27" fill="#1c1c1c" text-anchor="middle">4</text>
<line x1="1115.1" y1="1497.3" x2="1115.1" y2="1506.3" stroke="#000" stroke-width="3.6"/>
<text x="1115.1" y="1530.7" font-size="27" fill="#1c1c1c" text-anchor="middle">6</text>
<line x1="1194.2" y1="1497.3" x2="1194.2" y2="1506.3" stroke="#000" stroke-width="3.6"/>
<text x="1194.2" y="1530.7" font-size="27" fill="#1c1c1c" text-anchor="middle">8</text>
<line x1="1273.2" y1="1497.3" x2="1273.2" y2="1506.3" stroke="#000" stroke-width="3.6"/>
<text x="1273.2" y="1530.7" font-size="27" fill="#1c1c1c" text-anchor="middle">10</text>
<text x="1080.0" y="1565.7" font-size="27" fill="#1c1c1c" text-anchor="middle">Time</text>
<text transform="translate(771.6,1289.4) rotate(-90)" x="0" y="9.7" font-size="27" fill="#1c1c1c" text-anchor="middle" textLength="262.0" lengthAdjust="spacingAndGlyphs">Concordance index</text>
<line x1="1130.0" y1="1231.4" x2="1160.0" y2="1231.4" stroke="#DC2B27" stroke-width="6.5" stroke-linecap="round"/>
<text x="1175.5" y="1236.6" font-size="14.5" fill="#333" textLength="77.0" lengthAdjust="spacingAndGlyphs">Risk score</text>
<line x1="1130.0" y1="1251.4" x2="1160.0" y2="1251.4" stroke="#A9D23E" stroke-width="6.5" stroke-linecap="round"/>
<text x="1175.5" y="1256.6" font-size="14.5" fill="#333" textLength="29.0" lengthAdjust="spacingAndGlyphs">Age</text>
<line x1="1130.0" y1="1271.8" x2="1160.0" y2="1271.8" stroke="#4DBB63" stroke-width="6.5" stroke-linecap="round"/>
<text x="1175.5" y="1277.0" font-size="14.5" fill="#333" textLength="28.0" lengthAdjust="spacingAndGlyphs">Sex</text>
<line x1="1130.0" y1="1291.8" x2="1160.0" y2="1291.8" stroke="#2D6DC4" stroke-width="6.5" stroke-linecap="round"/>
<text x="1175.5" y="1297.0" font-size="14.5" fill="#333" textLength="46.0" lengthAdjust="spacingAndGlyphs">Grade</text>
<polyline points="1684.4,2428.4 1717.2,2423.6 1749.9,2424.7 1782.6,2422.6 1815.3,2423.1 1848.1,2423.6 1880.8,2424.2 1913.5,2425.2 1946.3,2424.7 1979.0,2424.7" fill="none" stroke="#4DBB63" stroke-width="6.5" stroke-linejoin="round" stroke-linecap="round"/>
<path d="M1640.2 2417.8h0M1681.2 2417.8h0M1723.7 2417.8h0M1766.3 2417.8h0M1808.8 2417.8h0M1851.4 2417.8h0M1893.9 2417.8h0M1936.5 2417.8h0M1979.0 2417.8h0" stroke="#BDBDBD" stroke-width="9.2" stroke-linecap="round" fill="none"/>
<polyline points="1684.4,2318.2 1717.2,2321.9 1749.9,2325.7 1782.6,2331.5 1815.3,2329.9 1848.1,2332.6 1880.8,2333.1 1913.5,2335.3 1946.3,2337.4 1979.0,2337.4" fill="none" stroke="#2D6DC4" stroke-width="6.5" stroke-linejoin="round" stroke-linecap="round"/>
<polyline points="1684.4,2257.0 1717.2,2260.7 1749.9,2276.7 1782.6,2302.3 1815.3,2304.9 1848.1,2304.9 1880.8,2308.1 1913.5,2311.3 1946.3,2312.9 1979.0,2314.5" fill="none" stroke="#A9D23E" stroke-width="6.5" stroke-linejoin="round" stroke-linecap="round"/>
<polyline points="1684.4,2218.7 1717.2,2225.1 1749.9,2230.4 1782.6,2244.2 1815.3,2247.4 1848.1,2252.2 1880.8,2255.4 1913.5,2257.5 1946.3,2258.1 1979.0,2259.7" fill="none" stroke="#DC2B27" stroke-width="6.5" stroke-linejoin="round" stroke-linecap="round"/>
<line x1="1638.6" y1="2149.8" x2="1638.6" y2="2472.8" stroke="#000" stroke-width="3.6"/>
<line x1="1628.6" y1="2471.0" x2="1638.6" y2="2471.0" stroke="#000" stroke-width="3.6"/>
<text x="1620.0" y="2480.7" font-size="27" fill="#1c1c1c" text-anchor="end">0.4</text>
<line x1="1628.6" y1="2417.8" x2="1638.6" y2="2417.8" stroke="#000" stroke-width="3.6"/>
<text x="1620.0" y="2427.4" font-size="27" fill="#1c1c1c" text-anchor="end">0.5</text>
<line x1="1628.6" y1="2364.5" x2="1638.6" y2="2364.5" stroke="#000" stroke-width="3.6"/>
<text x="1620.0" y="2374.2" font-size="27" fill="#1c1c1c" text-anchor="end">0.6</text>
<line x1="1628.6" y1="2311.3" x2="1638.6" y2="2311.3" stroke="#000" stroke-width="3.6"/>
<text x="1620.0" y="2321.0" font-size="27" fill="#1c1c1c" text-anchor="end">0.7</text>
<line x1="1628.6" y1="2258.1" x2="1638.6" y2="2258.1" stroke="#000" stroke-width="3.6"/>
<text x="1620.0" y="2267.7" font-size="27" fill="#1c1c1c" text-anchor="end">0.8</text>
<line x1="1628.6" y1="2204.8" x2="1638.6" y2="2204.8" stroke="#000" stroke-width="3.6"/>
<text x="1620.0" y="2214.5" font-size="27" fill="#1c1c1c" text-anchor="end">0.9</text>
<line x1="1628.6" y1="2151.6" x2="1638.6" y2="2151.6" stroke="#000" stroke-width="3.6"/>
<text x="1620.0" y="2161.3" font-size="27" fill="#1c1c1c" text-anchor="end">1.0</text>
<line x1="1649.9" y1="2484.0" x2="1980.8" y2="2484.0" stroke="#000" stroke-width="3.6"/>
<line x1="1651.7" y1="2484.0" x2="1651.7" y2="2493.0" stroke="#000" stroke-width="3.6"/>
<text x="1651.7" y="2519.7" font-size="27" fill="#1c1c1c" text-anchor="middle">0</text>
<line x1="1717.2" y1="2484.0" x2="1717.2" y2="2493.0" stroke="#000" stroke-width="3.6"/>
<text x="1717.2" y="2519.7" font-size="27" fill="#1c1c1c" text-anchor="middle">2</text>
<line x1="1782.6" y1="2484.0" x2="1782.6" y2="2493.0" stroke="#000" stroke-width="3.6"/>
<text x="1782.6" y="2519.7" font-size="27" fill="#1c1c1c" text-anchor="middle">4</text>
<line x1="1848.1" y1="2484.0" x2="1848.1" y2="2493.0" stroke="#000" stroke-width="3.6"/>
<text x="1848.1" y="2519.7" font-size="27" fill="#1c1c1c" text-anchor="middle">6</text>
<line x1="1913.5" y1="2484.0" x2="1913.5" y2="2493.0" stroke="#000" stroke-width="3.6"/>
<text x="1913.5" y="2519.7" font-size="27" fill="#1c1c1c" text-anchor="middle">8</text>
<line x1="1979.0" y1="2484.0" x2="1979.0" y2="2493.0" stroke="#000" stroke-width="3.6"/>
<text x="1979.0" y="2519.7" font-size="27" fill="#1c1c1c" text-anchor="middle">10</text>
<text x="1845.7" y="2550.7" font-size="27" fill="#1c1c1c" text-anchor="middle">Time</text>
<text transform="translate(1554.5,2313.6) rotate(-90)" x="0" y="9.7" font-size="27" fill="#1c1c1c" text-anchor="middle" textLength="262.0" lengthAdjust="spacingAndGlyphs">Concordance index</text>
<line x1="1860.0" y1="2264.4" x2="1886.0" y2="2264.4" stroke="#DC2B27" stroke-width="6.5" stroke-linecap="round"/>
<text x="1898.0" y="2269.1" font-size="13" fill="#333" textLength="63.0" lengthAdjust="spacingAndGlyphs">Risk score</text>
<line x1="1860.0" y1="2281.0" x2="1886.0" y2="2281.0" stroke="#A9D23E" stroke-width="6.5" stroke-linecap="round"/>
<text x="1898.0" y="2285.7" font-size="13" fill="#333" textLength="24.0" lengthAdjust="spacingAndGlyphs">Age</text>
<line x1="1860.0" y1="2297.4" x2="1886.0" y2="2297.4" stroke="#4DBB63" stroke-width="6.5" stroke-linecap="round"/>
<text x="1898.0" y="2302.1" font-size="13" fill="#333" textLength="23.0" lengthAdjust="spacingAndGlyphs">Sex</text>
<line x1="1860.0" y1="2313.6" x2="1886.0" y2="2313.6" stroke="#2D6DC4" stroke-width="6.5" stroke-linecap="round"/>
<text x="1898.0" y="2318.3" font-size="13" fill="#333" textLength="38.0" lengthAdjust="spacingAndGlyphs">Grade</text>
<rect x="104.0" y="542.0" width="326.3" height="27.3" fill="#33376B"/>
<rect x="430.3" y="542.0" width="257.7" height="27.3" fill="#F47D2F"/>
<text x="234.7" y="563.3" font-size="20.5" fill="#F4F2F6" font-weight="bold" textLength="92.5" lengthAdjust="spacingAndGlyphs">Low risk</text>
<text x="508.0" y="563.3" font-size="20.5" fill="#F4F2F6" font-weight="bold" textLength="99.5" lengthAdjust="spacingAndGlyphs">High risk</text>
<defs><filter id="hb11" x="0" y="0" width="1" height="1" filterUnits="objectBoundingBox"><feGaussianBlur stdDeviation="0.55 0"/></filter><clipPath id="hc11"><rect x="104" y="574.4" width="584" height="393.0"/></clipPath></defs>
<g clip-path="url(#hc11)"><g filter="url(#hb11)"><rect x="96" y="574.4" width="600" height="393.0" fill="#b9bce4"/><g stroke-width="2.79" fill="none">
<path d="M195.6 686.7v56.1M359.3 686.7v56.1M410.7 686.7v56.1M398.4 742.8v56.1M493.7 742.8v56.1M508.4 742.8v56.1M567.0 742.8v56.1M569.5 742.8v56.1M606.1 742.8v56.1M640.4 742.8v56.1M650.1 742.8v56.1" stroke="#3c4297"/>
<path d="M105.2 574.4v56.1M234.7 574.4v56.1M237.2 574.4v56.1M293.4 574.4v56.1M112.6 686.7v56.1M156.5 686.7v56.1M281.2 686.7v56.1M303.1 686.7v56.1M312.9 686.7v56.1M315.4 686.7v56.1M325.1 686.7v56.1M413.1 686.7v56.1M530.4 686.7v56.1M640.4 686.7v56.1M369.1 742.8v56.1M432.7 742.8v56.1M442.4 742.8v56.1M444.9 742.8v56.1M447.3 742.8v56.1M452.2 742.8v56.1M454.6 742.8v56.1M459.5 742.8v56.1M491.3 742.8v56.1M496.2 742.8v56.1M506.0 742.8v56.1M510.8 742.8v56.1M513.3 742.8v56.1M515.7 742.8v56.1M518.2 742.8v56.1M537.7 742.8v56.1M545.1 742.8v56.1M547.5 742.8v56.1M549.9 742.8v56.1M554.8 742.8v56.1M557.3 742.8v56.1M562.2 742.8v56.1M564.6 742.8v56.1M574.4 742.8v56.1M581.7 742.8v56.1M593.9 742.8v56.1M596.4 742.8v56.1M608.6 742.8v56.1M637.9 742.8v56.1M652.6 742.8v56.1M657.5 742.8v56.1M205.4 799.0v56.1M288.5 799.0v56.1M356.9 799.0v56.1" stroke="#5860b8"/>
<path d="M129.7 574.4v56.1M212.7 574.4v56.1M244.5 574.4v56.1M330.0 574.4v56.1M359.3 574.4v56.1M386.2 574.4v56.1M503.5 574.4v56.1M559.7 574.4v56.1M281.2 630.5v56.1M598.8 630.5v56.1M122.3 686.7v56.1M124.8 686.7v56.1M127.2 686.7v56.1M139.4 686.7v56.1M141.9 686.7v56.1M181.0 686.7v56.1M198.1 686.7v56.1M222.5 686.7v56.1M227.4 686.7v56.1M234.7 686.7v56.1M242.1 686.7v56.1M246.9 686.7v56.1M264.1 686.7v56.1M273.8 686.7v56.1M276.3 686.7v56.1M288.5 686.7v56.1M298.3 686.7v56.1M327.6 686.7v56.1M364.2 686.7v56.1M383.8 686.7v56.1M393.6 686.7v56.1M396.0 686.7v56.1M398.4 686.7v56.1M405.8 686.7v56.1M408.2 686.7v56.1M447.3 686.7v56.1M491.3 686.7v56.1M579.3 686.7v56.1M593.9 686.7v56.1M647.7 686.7v56.1M366.7 742.8v56.1M403.3 742.8v56.1M418.0 742.8v56.1M466.9 742.8v56.1M520.6 742.8v56.1M527.9 742.8v56.1M532.8 742.8v56.1M540.2 742.8v56.1M542.6 742.8v56.1M576.8 742.8v56.1M586.6 742.8v56.1M598.8 742.8v56.1M601.3 742.8v56.1M615.9 742.8v56.1M630.6 742.8v56.1M633.0 742.8v56.1M635.5 742.8v56.1M655.0 742.8v56.1M659.9 742.8v56.1M664.8 742.8v56.1M679.4 742.8v56.1M684.3 742.8v56.1M112.6 799.0v56.1M132.1 799.0v56.1M159.0 799.0v56.1M276.3 799.0v56.1M442.4 799.0v56.1M557.3 799.0v56.1M476.6 855.1v56.1M518.2 855.1v56.1" stroke="#727bc8"/>
<path d="M107.7 574.4v56.1M146.8 574.4v56.1M195.6 574.4v56.1M215.2 574.4v56.1M249.4 574.4v56.1M251.8 574.4v56.1M254.3 574.4v56.1M261.6 574.4v56.1M266.5 574.4v56.1M278.7 574.4v56.1M290.9 574.4v56.1M317.8 574.4v56.1M327.6 574.4v56.1M332.5 574.4v56.1M337.4 574.4v56.1M339.8 574.4v56.1M347.1 574.4v56.1M354.5 574.4v56.1M378.9 574.4v56.1M381.3 574.4v56.1M388.7 574.4v56.1M435.1 574.4v56.1M476.6 574.4v56.1M491.3 574.4v56.1M493.7 574.4v56.1M510.8 574.4v56.1M513.3 574.4v56.1M518.2 574.4v56.1M591.5 574.4v56.1M601.3 574.4v56.1M117.4 630.5v56.1M124.8 630.5v56.1M127.2 630.5v56.1M181.0 630.5v56.1M195.6 630.5v56.1M244.5 630.5v56.1M256.7 630.5v56.1M276.3 630.5v56.1M283.6 630.5v56.1M352.0 630.5v56.1M466.9 630.5v56.1M469.3 630.5v56.1M484.0 630.5v56.1M532.8 630.5v56.1M603.7 630.5v56.1M119.9 686.7v56.1M161.4 686.7v56.1M210.3 686.7v56.1M217.6 686.7v56.1M229.8 686.7v56.1M232.3 686.7v56.1M244.5 686.7v56.1M259.2 686.7v56.1M271.4 686.7v56.1M286.0 686.7v56.1M334.9 686.7v56.1M339.8 686.7v56.1M352.0 686.7v56.1M361.8 686.7v56.1M371.6 686.7v56.1M378.9 686.7v56.1M415.5 686.7v56.1M418.0 686.7v56.1M420.4 686.7v56.1M422.9 686.7v56.1M435.1 686.7v56.1M484.0 686.7v56.1M506.0 686.7v56.1M623.2 686.7v56.1M242.1 742.8v56.1M381.3 742.8v56.1M386.2 742.8v56.1M430.2 742.8v56.1M435.1 742.8v56.1M449.8 742.8v56.1M471.7 742.8v56.1M474.2 742.8v56.1M484.0 742.8v56.1M488.9 742.8v56.1M503.5 742.8v56.1M523.1 742.8v56.1M530.4 742.8v56.1M571.9 742.8v56.1M591.5 742.8v56.1M613.5 742.8v56.1M625.7 742.8v56.1M628.1 742.8v56.1M662.3 742.8v56.1M672.1 742.8v56.1M674.6 742.8v56.1M686.8 742.8v56.1M107.7 799.0v56.1M115.0 799.0v56.1M129.7 799.0v56.1M139.4 799.0v56.1M203.0 799.0v56.1M261.6 799.0v56.1M264.1 799.0v56.1M283.6 799.0v56.1M290.9 799.0v56.1M342.2 799.0v56.1M374.0 799.0v56.1M378.9 799.0v56.1M391.1 799.0v56.1M430.2 799.0v56.1M444.9 799.0v56.1M452.2 799.0v56.1M454.6 799.0v56.1M464.4 799.0v56.1M520.6 799.0v56.1M540.2 799.0v56.1M542.6 799.0v56.1M559.7 799.0v56.1M652.6 799.0v56.1M667.2 799.0v56.1M144.3 855.1v56.1M225.0 855.1v56.1M242.1 855.1v56.1M266.5 855.1v56.1M312.9 855.1v56.1M388.7 855.1v56.1M435.1 855.1v56.1M459.5 855.1v56.1M520.6 855.1v56.1M540.2 855.1v56.1M591.5 855.1v56.1M635.5 855.1v56.1M664.8 855.1v56.1" stroke="#8991d3"/>
<path d="M132.1 574.4v56.1M137.0 574.4v56.1M139.4 574.4v56.1M149.2 574.4v56.1M151.6 574.4v56.1M210.3 574.4v56.1M222.5 574.4v56.1M225.0 574.4v56.1M227.4 574.4v56.1M232.3 574.4v56.1M242.1 574.4v56.1M259.2 574.4v56.1M264.1 574.4v56.1M271.4 574.4v56.1M273.8 574.4v56.1M288.5 574.4v56.1M320.3 574.4v56.1M322.7 574.4v56.1M325.1 574.4v56.1M344.7 574.4v56.1M371.6 574.4v56.1M376.5 574.4v56.1M383.8 574.4v56.1M391.1 574.4v56.1M396.0 574.4v56.1M398.4 574.4v56.1M400.9 574.4v56.1M403.3 574.4v56.1M415.5 574.4v56.1M418.0 574.4v56.1M422.9 574.4v56.1M430.2 574.4v56.1M444.9 574.4v56.1M508.4 574.4v56.1M520.6 574.4v56.1M545.1 574.4v56.1M549.9 574.4v56.1M574.4 574.4v56.1M628.1 574.4v56.1M110.1 630.5v56.1M112.6 630.5v56.1M115.0 630.5v56.1M156.5 630.5v56.1M166.3 630.5v56.1M198.1 630.5v56.1M229.8 630.5v56.1M234.7 630.5v56.1M254.3 630.5v56.1M290.9 630.5v56.1M305.6 630.5v56.1M315.4 630.5v56.1M317.8 630.5v56.1M320.3 630.5v56.1M332.5 630.5v56.1M334.9 630.5v56.1M339.8 630.5v56.1M342.2 630.5v56.1M354.5 630.5v56.1M378.9 630.5v56.1M422.9 630.5v56.1M425.3 630.5v56.1M454.6 630.5v56.1M479.1 630.5v56.1M520.6 630.5v56.1M535.3 630.5v56.1M562.2 630.5v56.1M589.0 630.5v56.1M630.6 630.5v56.1M635.5 630.5v56.1M645.2 630.5v56.1M144.3 686.7v56.1M146.8 686.7v56.1M151.6 686.7v56.1M166.3 686.7v56.1M173.6 686.7v56.1M190.7 686.7v56.1M251.8 686.7v56.1M268.9 686.7v56.1M305.6 686.7v56.1M308.0 686.7v56.1M310.5 686.7v56.1M330.0 686.7v56.1M337.4 686.7v56.1M344.7 686.7v56.1M347.1 686.7v56.1M376.5 686.7v56.1M386.2 686.7v56.1M400.9 686.7v56.1M432.7 686.7v56.1M437.5 686.7v56.1M442.4 686.7v56.1M454.6 686.7v56.1M457.1 686.7v56.1M479.1 686.7v56.1M510.8 686.7v56.1M562.2 686.7v56.1M569.5 686.7v56.1M591.5 686.7v56.1M669.7 686.7v56.1M317.8 742.8v56.1M349.6 742.8v56.1M356.9 742.8v56.1M378.9 742.8v56.1M420.4 742.8v56.1M422.9 742.8v56.1M457.1 742.8v56.1M476.6 742.8v56.1M552.4 742.8v56.1M584.2 742.8v56.1M611.0 742.8v56.1M620.8 742.8v56.1M623.2 742.8v56.1M642.8 742.8v56.1M645.2 742.8v56.1M677.0 742.8v56.1M127.2 799.0v56.1M141.9 799.0v56.1M154.1 799.0v56.1M156.5 799.0v56.1M171.2 799.0v56.1M173.6 799.0v56.1M200.5 799.0v56.1M207.8 799.0v56.1M220.1 799.0v56.1M251.8 799.0v56.1M266.5 799.0v56.1M268.9 799.0v56.1M271.4 799.0v56.1M293.4 799.0v56.1M295.8 799.0v56.1M320.3 799.0v56.1M339.8 799.0v56.1M344.7 799.0v56.1M354.5 799.0v56.1M361.8 799.0v56.1M381.3 799.0v56.1M400.9 799.0v56.1M418.0 799.0v56.1M420.4 799.0v56.1M422.9 799.0v56.1M447.3 799.0v56.1M457.1 799.0v56.1M479.1 799.0v56.1M501.1 799.0v56.1M513.3 799.0v56.1M545.1 799.0v56.1M564.6 799.0v56.1M637.9 799.0v56.1M647.7 799.0v56.1M655.0 799.0v56.1M117.4 855.1v56.1M146.8 855.1v56.1M168.8 855.1v56.1M198.1 855.1v56.1M212.7 855.1v56.1M325.1 855.1v56.1M354.5 855.1v56.1M356.9 855.1v56.1M488.9 855.1v56.1M567.0 855.1v56.1M596.4 855.1v56.1" stroke="#9da4da"/>
<path d="M110.1 574.4v56.1M141.9 574.4v56.1M159.0 574.4v56.1M161.4 574.4v56.1M163.9 574.4v56.1M168.8 574.4v56.1M173.6 574.4v56.1M176.1 574.4v56.1M178.5 574.4v56.1M207.8 574.4v56.1M229.8 574.4v56.1M268.9 574.4v56.1M281.2 574.4v56.1M286.0 574.4v56.1M295.8 574.4v56.1M349.6 574.4v56.1M356.9 574.4v56.1M374.0 574.4v56.1M408.2 574.4v56.1M410.7 574.4v56.1M420.4 574.4v56.1M427.8 574.4v56.1M440.0 574.4v56.1M442.4 574.4v56.1M454.6 574.4v56.1M464.4 574.4v56.1M488.9 574.4v56.1M496.2 574.4v56.1M506.0 574.4v56.1M554.8 574.4v56.1M581.7 574.4v56.1M107.7 630.5v56.1M146.8 630.5v56.1M151.6 630.5v56.1M159.0 630.5v56.1M171.2 630.5v56.1M173.6 630.5v56.1M176.1 630.5v56.1M178.5 630.5v56.1M183.4 630.5v56.1M185.9 630.5v56.1M188.3 630.5v56.1M200.5 630.5v56.1M210.3 630.5v56.1M220.1 630.5v56.1M232.3 630.5v56.1M261.6 630.5v56.1M264.1 630.5v56.1M266.5 630.5v56.1M288.5 630.5v56.1M295.8 630.5v56.1M298.3 630.5v56.1M308.0 630.5v56.1M322.7 630.5v56.1M337.4 630.5v56.1M349.6 630.5v56.1M361.8 630.5v56.1M369.1 630.5v56.1M371.6 630.5v56.1M388.7 630.5v56.1M393.6 630.5v56.1M403.3 630.5v56.1M435.1 630.5v56.1M440.0 630.5v56.1M457.1 630.5v56.1M471.7 630.5v56.1M474.2 630.5v56.1M501.1 630.5v56.1M510.8 630.5v56.1M513.3 630.5v56.1M518.2 630.5v56.1M525.5 630.5v56.1M549.9 630.5v56.1M552.4 630.5v56.1M564.6 630.5v56.1M581.7 630.5v56.1M642.8 630.5v56.1M129.7 686.7v56.1M132.1 686.7v56.1M134.5 686.7v56.1M154.1 686.7v56.1M176.1 686.7v56.1M183.4 686.7v56.1M212.7 686.7v56.1M225.0 686.7v56.1M332.5 686.7v56.1M425.3 686.7v56.1M459.5 686.7v56.1M486.4 686.7v56.1M503.5 686.7v56.1M535.3 686.7v56.1M259.2 742.8v56.1M322.7 742.8v56.1M361.8 742.8v56.1M413.1 742.8v56.1M440.0 742.8v56.1M481.5 742.8v56.1M486.4 742.8v56.1M501.1 742.8v56.1M525.5 742.8v56.1M559.7 742.8v56.1M669.7 742.8v56.1M110.1 799.0v56.1M122.3 799.0v56.1M124.8 799.0v56.1M181.0 799.0v56.1M183.4 799.0v56.1M210.3 799.0v56.1M222.5 799.0v56.1M232.3 799.0v56.1M315.4 799.0v56.1M332.5 799.0v56.1M334.9 799.0v56.1M366.7 799.0v56.1M383.8 799.0v56.1M388.7 799.0v56.1M398.4 799.0v56.1M427.8 799.0v56.1M449.8 799.0v56.1M466.9 799.0v56.1M491.3 799.0v56.1M493.7 799.0v56.1M523.1 799.0v56.1M530.4 799.0v56.1M549.9 799.0v56.1M552.4 799.0v56.1M584.2 799.0v56.1M149.2 855.1v56.1M154.1 855.1v56.1M156.5 855.1v56.1M166.3 855.1v56.1M195.6 855.1v56.1M227.4 855.1v56.1M234.7 855.1v56.1M254.3 855.1v56.1M256.7 855.1v56.1M268.9 855.1v56.1M286.0 855.1v56.1M288.5 855.1v56.1M293.4 855.1v56.1M322.7 855.1v56.1M352.0 855.1v56.1M386.2 855.1v56.1M415.5 855.1v56.1M454.6 855.1v56.1M479.1 855.1v56.1M486.4 855.1v56.1M491.3 855.1v56.1M493.7 855.1v56.1M498.6 855.1v56.1M513.3 855.1v56.1M515.7 855.1v56.1M523.1 855.1v56.1M554.8 855.1v56.1M571.9 855.1v56.1M574.4 855.1v56.1M576.8 855.1v56.1M581.7 855.1v56.1M584.2 855.1v56.1M618.4 855.1v56.1" stroke="#afb4e1"/>
<path d="M112.6 574.4v56.1M127.2 574.4v56.1M144.3 574.4v56.1M154.1 574.4v56.1M156.5 574.4v56.1M166.3 574.4v56.1M171.2 574.4v56.1M181.0 574.4v56.1M185.9 574.4v56.1M190.7 574.4v56.1M198.1 574.4v56.1M205.4 574.4v56.1M217.6 574.4v56.1M342.2 574.4v56.1M425.3 574.4v56.1M432.7 574.4v56.1M437.5 574.4v56.1M452.2 574.4v56.1M469.3 574.4v56.1M481.5 574.4v56.1M484.0 574.4v56.1M552.4 574.4v56.1M603.7 574.4v56.1M618.4 574.4v56.1M129.7 630.5v56.1M132.1 630.5v56.1M134.5 630.5v56.1M149.2 630.5v56.1M154.1 630.5v56.1M168.8 630.5v56.1M205.4 630.5v56.1M225.0 630.5v56.1M242.1 630.5v56.1M251.8 630.5v56.1M271.4 630.5v56.1M273.8 630.5v56.1M325.1 630.5v56.1M327.6 630.5v56.1M330.0 630.5v56.1M344.7 630.5v56.1M347.1 630.5v56.1M364.2 630.5v56.1M383.8 630.5v56.1M386.2 630.5v56.1M391.1 630.5v56.1M396.0 630.5v56.1M400.9 630.5v56.1M415.5 630.5v56.1M420.4 630.5v56.1M442.4 630.5v56.1M447.3 630.5v56.1M459.5 630.5v56.1M464.4 630.5v56.1M498.6 630.5v56.1M508.4 630.5v56.1M537.7 630.5v56.1M547.5 630.5v56.1M613.5 630.5v56.1M159.0 686.7v56.1M205.4 686.7v56.1M207.8 686.7v56.1M266.5 686.7v56.1M354.5 686.7v56.1M356.9 686.7v56.1M369.1 686.7v56.1M388.7 686.7v56.1M444.9 686.7v56.1M462.0 686.7v56.1M488.9 686.7v56.1M540.2 686.7v56.1M567.0 686.7v56.1M571.9 686.7v56.1M574.4 686.7v56.1M606.1 686.7v56.1M227.4 742.8v56.1M312.9 742.8v56.1M347.1 742.8v56.1M388.7 742.8v56.1M391.1 742.8v56.1M410.7 742.8v56.1M415.5 742.8v56.1M647.7 742.8v56.1M681.9 742.8v56.1M161.4 799.0v56.1M190.7 799.0v56.1M193.2 799.0v56.1M198.1 799.0v56.1M217.6 799.0v56.1M246.9 799.0v56.1M254.3 799.0v56.1M259.2 799.0v56.1M281.2 799.0v56.1M303.1 799.0v56.1M305.6 799.0v56.1M376.5 799.0v56.1M410.7 799.0v56.1M415.5 799.0v56.1M425.3 799.0v56.1M459.5 799.0v56.1M462.0 799.0v56.1M469.3 799.0v56.1M471.7 799.0v56.1M474.2 799.0v56.1M498.6 799.0v56.1M508.4 799.0v56.1M569.5 799.0v56.1M606.1 799.0v56.1M611.0 799.0v56.1M615.9 799.0v56.1M107.7 855.1v56.1M110.1 855.1v56.1M112.6 855.1v56.1M122.3 855.1v56.1M132.1 855.1v56.1M134.5 855.1v56.1M137.0 855.1v56.1M141.9 855.1v56.1M159.0 855.1v56.1M181.0 855.1v56.1M190.7 855.1v56.1M200.5 855.1v56.1M203.0 855.1v56.1M205.4 855.1v56.1M207.8 855.1v56.1M217.6 855.1v56.1M220.1 855.1v56.1M222.5 855.1v56.1M229.8 855.1v56.1M232.3 855.1v56.1M246.9 855.1v56.1M259.2 855.1v56.1M283.6 855.1v56.1M300.7 855.1v56.1M308.0 855.1v56.1M344.7 855.1v56.1M347.1 855.1v56.1M398.4 855.1v56.1M418.0 855.1v56.1M420.4 855.1v56.1M427.8 855.1v56.1M432.7 855.1v56.1M449.8 855.1v56.1M496.2 855.1v56.1M510.8 855.1v56.1M525.5 855.1v56.1M530.4 855.1v56.1M535.3 855.1v56.1M537.7 855.1v56.1M552.4 855.1v56.1M559.7 855.1v56.1M579.3 855.1v56.1M620.8 855.1v56.1M105.2 911.3v56.1M107.7 911.3v56.1M110.1 911.3v56.1M112.6 911.3v56.1M115.0 911.3v56.1M117.4 911.3v56.1M119.9 911.3v56.1M122.3 911.3v56.1M124.8 911.3v56.1M127.2 911.3v56.1M129.7 911.3v56.1M132.1 911.3v56.1M134.5 911.3v56.1M139.4 911.3v56.1M144.3 911.3v56.1M154.1 911.3v56.1M159.0 911.3v56.1M161.4 911.3v56.1M166.3 911.3v56.1M168.8 911.3v56.1M171.2 911.3v56.1M173.6 911.3v56.1M176.1 911.3v56.1M178.5 911.3v56.1M181.0 911.3v56.1M183.4 911.3v56.1M185.9 911.3v56.1M188.3 911.3v56.1M190.7 911.3v56.1M193.2 911.3v56.1M195.6 911.3v56.1M198.1 911.3v56.1M200.5 911.3v56.1M203.0 911.3v56.1M205.4 911.3v56.1M210.3 911.3v56.1M212.7 911.3v56.1M215.2 911.3v56.1M217.6 911.3v56.1M220.1 911.3v56.1M222.5 911.3v56.1M225.0 911.3v56.1M227.4 911.3v56.1M229.8 911.3v56.1M232.3 911.3v56.1M234.7 911.3v56.1M237.2 911.3v56.1M239.6 911.3v56.1M242.1 911.3v56.1M244.5 911.3v56.1M246.9 911.3v56.1M249.4 911.3v56.1M251.8 911.3v56.1M254.3 911.3v56.1M256.7 911.3v56.1M259.2 911.3v56.1M261.6 911.3v56.1M264.1 911.3v56.1M266.5 911.3v56.1M268.9 911.3v56.1M271.4 911.3v56.1M273.8 911.3v56.1M276.3 911.3v56.1M281.2 911.3v56.1M283.6 911.3v56.1M286.0 911.3v56.1M288.5 911.3v56.1M290.9 911.3v56.1M293.4 911.3v56.1M295.8 911.3v56.1M298.3 911.3v56.1M300.7 911.3v56.1M303.1 911.3v56.1M305.6 911.3v56.1M308.0 911.3v56.1M310.5 911.3v56.1M312.9 911.3v56.1M315.4 911.3v56.1M317.8 911.3v56.1M320.3 911.3v56.1M322.7 911.3v56.1M325.1 911.3v56.1M327.6 911.3v56.1M330.0 911.3v56.1M332.5 911.3v56.1M334.9 911.3v56.1M337.4 911.3v56.1M339.8 911.3v56.1M342.2 911.3v56.1M344.7 911.3v56.1M347.1 911.3v56.1M349.6 911.3v56.1M352.0 911.3v56.1M354.5 911.3v56.1M356.9 911.3v56.1M361.8 911.3v56.1M364.2 911.3v56.1M369.1 911.3v56.1M374.0 911.3v56.1M376.5 911.3v56.1M378.9 911.3v56.1M381.3 911.3v56.1M383.8 911.3v56.1M386.2 911.3v56.1M388.7 911.3v56.1M391.1 911.3v56.1M393.6 911.3v56.1M396.0 911.3v56.1M398.4 911.3v56.1M400.9 911.3v56.1M403.3 911.3v56.1M405.8 911.3v56.1M410.7 911.3v56.1M413.1 911.3v56.1M415.5 911.3v56.1M418.0 911.3v56.1M420.4 911.3v56.1M422.9 911.3v56.1M425.3 911.3v56.1M427.8 911.3v56.1M430.2 911.3v56.1M432.7 911.3v56.1M435.1 911.3v56.1M437.5 911.3v56.1M440.0 911.3v56.1M442.4 911.3v56.1M444.9 911.3v56.1M447.3 911.3v56.1M449.8 911.3v56.1M452.2 911.3v56.1M454.6 911.3v56.1M457.1 911.3v56.1M459.5 911.3v56.1M464.4 911.3v56.1M466.9 911.3v56.1M469.3 911.3v56.1M471.7 911.3v56.1M476.6 911.3v56.1M479.1 911.3v56.1M481.5 911.3v56.1M484.0 911.3v56.1M486.4 911.3v56.1M491.3 911.3v56.1M493.7 911.3v56.1M496.2 911.3v56.1M498.6 911.3v56.1M501.1 911.3v56.1M503.5 911.3v56.1M508.4 911.3v56.1M510.8 911.3v56.1M513.3 911.3v56.1M515.7 911.3v56.1M518.2 911.3v56.1M520.6 911.3v56.1M523.1 911.3v56.1M525.5 911.3v56.1M527.9 911.3v56.1M530.4 911.3v56.1M532.8 911.3v56.1M535.3 911.3v56.1M537.7 911.3v56.1M540.2 911.3v56.1M542.6 911.3v56.1M545.1 911.3v56.1M547.5 911.3v56.1M552.4 911.3v56.1M554.8 911.3v56.1M557.3 911.3v56.1M567.0 911.3v56.1M571.9 911.3v56.1M581.7 911.3v56.1M586.6 911.3v56.1M593.9 911.3v56.1M603.7 911.3v56.1M606.1 911.3v56.1M608.6 911.3v56.1M611.0 911.3v56.1M613.5 911.3v56.1M615.9 911.3v56.1M623.2 911.3v56.1M628.1 911.3v56.1M642.8 911.3v56.1M645.2 911.3v56.1M672.1 911.3v56.1" stroke="#c0c4e7"/>
<path d="M188.3 574.4v56.1M276.3 574.4v56.1M283.6 574.4v56.1M298.3 574.4v56.1M300.7 574.4v56.1M334.9 574.4v56.1M405.8 574.4v56.1M413.1 574.4v56.1M459.5 574.4v56.1M474.2 574.4v56.1M105.2 630.5v56.1M119.9 630.5v56.1M161.4 630.5v56.1M190.7 630.5v56.1M203.0 630.5v56.1M227.4 630.5v56.1M259.2 630.5v56.1M312.9 630.5v56.1M376.5 630.5v56.1M398.4 630.5v56.1M408.2 630.5v56.1M410.7 630.5v56.1M413.1 630.5v56.1M449.8 630.5v56.1M506.0 630.5v56.1M523.1 630.5v56.1M527.9 630.5v56.1M530.4 630.5v56.1M545.1 630.5v56.1M559.7 630.5v56.1M571.9 630.5v56.1M576.8 630.5v56.1M579.3 630.5v56.1M596.4 630.5v56.1M606.1 630.5v56.1M640.4 630.5v56.1M110.1 686.7v56.1M117.4 686.7v56.1M178.5 686.7v56.1M188.3 686.7v56.1M215.2 686.7v56.1M391.1 686.7v56.1M430.2 686.7v56.1M469.3 686.7v56.1M508.4 686.7v56.1M596.4 686.7v56.1M325.1 742.8v56.1M359.3 742.8v56.1M364.2 742.8v56.1M376.5 742.8v56.1M400.9 742.8v56.1M464.4 742.8v56.1M589.0 742.8v56.1M117.4 799.0v56.1M119.9 799.0v56.1M144.3 799.0v56.1M149.2 799.0v56.1M151.6 799.0v56.1M176.1 799.0v56.1M234.7 799.0v56.1M256.7 799.0v56.1M298.3 799.0v56.1M300.7 799.0v56.1M322.7 799.0v56.1M347.1 799.0v56.1M349.6 799.0v56.1M352.0 799.0v56.1M359.3 799.0v56.1M432.7 799.0v56.1M437.5 799.0v56.1M515.7 799.0v56.1M613.5 799.0v56.1M119.9 855.1v56.1M139.4 855.1v56.1M163.9 855.1v56.1M188.3 855.1v56.1M244.5 855.1v56.1M276.3 855.1v56.1M278.7 855.1v56.1M305.6 855.1v56.1M334.9 855.1v56.1M339.8 855.1v56.1M376.5 855.1v56.1M378.9 855.1v56.1M381.3 855.1v56.1M383.8 855.1v56.1M391.1 855.1v56.1M403.3 855.1v56.1M408.2 855.1v56.1M413.1 855.1v56.1M425.3 855.1v56.1M442.4 855.1v56.1M464.4 855.1v56.1M466.9 855.1v56.1M484.0 855.1v56.1M501.1 855.1v56.1M506.0 855.1v56.1M562.2 855.1v56.1M564.6 855.1v56.1M569.5 855.1v56.1M586.6 855.1v56.1M593.9 855.1v56.1M598.8 855.1v56.1M603.7 855.1v56.1M625.7 855.1v56.1M672.1 855.1v56.1" stroke="#d4d5ed"/>
<path d="M115.0 574.4v56.1M220.1 574.4v56.1M246.9 574.4v56.1M308.0 574.4v56.1M369.1 574.4v56.1M576.8 574.4v56.1M630.6 574.4v56.1M122.3 630.5v56.1M141.9 630.5v56.1M193.2 630.5v56.1M215.2 630.5v56.1M239.6 630.5v56.1M310.5 630.5v56.1M356.9 630.5v56.1M366.7 630.5v56.1M374.0 630.5v56.1M381.3 630.5v56.1M418.0 630.5v56.1M444.9 630.5v56.1M452.2 630.5v56.1M491.3 630.5v56.1M503.5 630.5v56.1M557.3 630.5v56.1M591.5 630.5v56.1M137.0 686.7v56.1M203.0 686.7v56.1M249.4 686.7v56.1M349.6 686.7v56.1M271.4 742.8v56.1M273.8 742.8v56.1M283.6 742.8v56.1M305.6 742.8v56.1M383.8 742.8v56.1M393.6 742.8v56.1M405.8 742.8v56.1M437.5 742.8v56.1M603.7 742.8v56.1M163.9 799.0v56.1M188.3 799.0v56.1M195.6 799.0v56.1M229.8 799.0v56.1M244.5 799.0v56.1M317.8 799.0v56.1M325.1 799.0v56.1M371.6 799.0v56.1M413.1 799.0v56.1M440.0 799.0v56.1M518.2 799.0v56.1M608.6 799.0v56.1M657.5 799.0v56.1M124.8 855.1v56.1M127.2 855.1v56.1M176.1 855.1v56.1M178.5 855.1v56.1M183.4 855.1v56.1M210.3 855.1v56.1M215.2 855.1v56.1M239.6 855.1v56.1M249.4 855.1v56.1M251.8 855.1v56.1M261.6 855.1v56.1M281.2 855.1v56.1M330.0 855.1v56.1M332.5 855.1v56.1M366.7 855.1v56.1M369.1 855.1v56.1M396.0 855.1v56.1M405.8 855.1v56.1M410.7 855.1v56.1M430.2 855.1v56.1M437.5 855.1v56.1M481.5 855.1v56.1M503.5 855.1v56.1M545.1 855.1v56.1M547.5 855.1v56.1M601.3 855.1v56.1M633.0 855.1v56.1M149.2 911.3v56.1M151.6 911.3v56.1M156.5 911.3v56.1M163.9 911.3v56.1M359.3 911.3v56.1" stroke="#e9e8f3"/>
<path d="M122.3 574.4v56.1M256.7 574.4v56.1M312.9 574.4v56.1M352.0 574.4v56.1M366.7 574.4v56.1M457.1 574.4v56.1M501.1 574.4v56.1M525.5 574.4v56.1M535.3 574.4v56.1M557.3 574.4v56.1M139.4 630.5v56.1M144.3 630.5v56.1M207.8 630.5v56.1M212.7 630.5v56.1M237.2 630.5v56.1M268.9 630.5v56.1M278.7 630.5v56.1M300.7 630.5v56.1M427.8 630.5v56.1M462.0 630.5v56.1M615.9 630.5v56.1M107.7 686.7v56.1M185.9 686.7v56.1M220.1 686.7v56.1M239.6 686.7v56.1M261.6 686.7v56.1M278.7 686.7v56.1M283.6 686.7v56.1M295.8 686.7v56.1M317.8 686.7v56.1M342.2 686.7v56.1M366.7 686.7v56.1M374.0 686.7v56.1M381.3 686.7v56.1M427.8 686.7v56.1M476.6 686.7v56.1M527.9 686.7v56.1M652.6 686.7v56.1M672.1 686.7v56.1M261.6 742.8v56.1M303.1 742.8v56.1M308.0 742.8v56.1M327.6 742.8v56.1M354.5 742.8v56.1M396.0 742.8v56.1M427.8 742.8v56.1M462.0 742.8v56.1M469.3 742.8v56.1M479.1 742.8v56.1M579.3 742.8v56.1M178.5 799.0v56.1M249.4 799.0v56.1M273.8 799.0v56.1M308.0 799.0v56.1M312.9 799.0v56.1M327.6 799.0v56.1M435.1 799.0v56.1M486.4 799.0v56.1M510.8 799.0v56.1M532.8 799.0v56.1M547.5 799.0v56.1M576.8 799.0v56.1M625.7 799.0v56.1M640.4 799.0v56.1M650.1 799.0v56.1M115.0 855.1v56.1M129.7 855.1v56.1M290.9 855.1v56.1M317.8 855.1v56.1M359.3 855.1v56.1M364.2 855.1v56.1M371.6 855.1v56.1M374.0 855.1v56.1M393.6 855.1v56.1M440.0 855.1v56.1M452.2 855.1v56.1M469.3 855.1v56.1M471.7 855.1v56.1M474.2 855.1v56.1M527.9 855.1v56.1M542.6 855.1v56.1M549.9 855.1v56.1M615.9 855.1v56.1" stroke="#f5edec"/>
<path d="M119.9 574.4v56.1M124.8 574.4v56.1M200.5 574.4v56.1M315.4 574.4v56.1M361.8 574.4v56.1M498.6 574.4v56.1M532.8 574.4v56.1M564.6 574.4v56.1M569.5 574.4v56.1M137.0 630.5v56.1M163.9 630.5v56.1M217.6 630.5v56.1M286.0 630.5v56.1M432.7 630.5v56.1M574.4 630.5v56.1M584.2 630.5v56.1M623.2 630.5v56.1M193.2 686.7v56.1M290.9 686.7v56.1M293.4 686.7v56.1M322.7 686.7v56.1M474.2 686.7v56.1M498.6 686.7v56.1M559.7 686.7v56.1M589.0 686.7v56.1M603.7 686.7v56.1M620.8 686.7v56.1M642.8 686.7v56.1M645.2 686.7v56.1M674.6 686.7v56.1M110.1 742.8v56.1M188.3 742.8v56.1M207.8 742.8v56.1M239.6 742.8v56.1M264.1 742.8v56.1M281.2 742.8v56.1M286.0 742.8v56.1M293.4 742.8v56.1M300.7 742.8v56.1M310.5 742.8v56.1M332.5 742.8v56.1M337.4 742.8v56.1M374.0 742.8v56.1M667.2 742.8v56.1M185.9 799.0v56.1M242.1 799.0v56.1M310.5 799.0v56.1M330.0 799.0v56.1M364.2 799.0v56.1M393.6 799.0v56.1M484.0 799.0v56.1M488.9 799.0v56.1M527.9 799.0v56.1M554.8 799.0v56.1M579.3 799.0v56.1M589.0 799.0v56.1M603.7 799.0v56.1M623.2 799.0v56.1M664.8 799.0v56.1M173.6 855.1v56.1M185.9 855.1v56.1M237.2 855.1v56.1M273.8 855.1v56.1M295.8 855.1v56.1M303.1 855.1v56.1M315.4 855.1v56.1M320.3 855.1v56.1M327.6 855.1v56.1M337.4 855.1v56.1M342.2 855.1v56.1M400.9 855.1v56.1M422.9 855.1v56.1M457.1 855.1v56.1M462.0 855.1v56.1M606.1 855.1v56.1" stroke="#f9e3d4"/>
<path d="M134.5 574.4v56.1M239.6 574.4v56.1M303.1 574.4v56.1M305.6 574.4v56.1M310.5 574.4v56.1M449.8 574.4v56.1M523.1 574.4v56.1M542.6 574.4v56.1M589.0 574.4v56.1M249.4 630.5v56.1M293.4 630.5v56.1M303.1 630.5v56.1M359.3 630.5v56.1M437.5 630.5v56.1M476.6 630.5v56.1M486.4 630.5v56.1M488.9 630.5v56.1M496.2 630.5v56.1M650.1 630.5v56.1M105.2 686.7v56.1M115.0 686.7v56.1M149.2 686.7v56.1M163.9 686.7v56.1M168.8 686.7v56.1M171.2 686.7v56.1M200.5 686.7v56.1M237.2 686.7v56.1M256.7 686.7v56.1M403.3 686.7v56.1M466.9 686.7v56.1M496.2 686.7v56.1M518.2 686.7v56.1M532.8 686.7v56.1M554.8 686.7v56.1M557.3 686.7v56.1M564.6 686.7v56.1M598.8 686.7v56.1M618.4 686.7v56.1M628.1 686.7v56.1M657.5 686.7v56.1M677.0 686.7v56.1M124.8 742.8v56.1M156.5 742.8v56.1M176.1 742.8v56.1M185.9 742.8v56.1M190.7 742.8v56.1M193.2 742.8v56.1M210.3 742.8v56.1M217.6 742.8v56.1M232.3 742.8v56.1M254.3 742.8v56.1M266.5 742.8v56.1M268.9 742.8v56.1M295.8 742.8v56.1M298.3 742.8v56.1M315.4 742.8v56.1M334.9 742.8v56.1M352.0 742.8v56.1M371.6 742.8v56.1M408.2 742.8v56.1M425.3 742.8v56.1M498.6 742.8v56.1M535.3 742.8v56.1M618.4 742.8v56.1M134.5 799.0v56.1M137.0 799.0v56.1M337.4 799.0v56.1M396.0 799.0v56.1M403.3 799.0v56.1M481.5 799.0v56.1M496.2 799.0v56.1M571.9 799.0v56.1M591.5 799.0v56.1M596.4 799.0v56.1M620.8 799.0v56.1M642.8 799.0v56.1M659.9 799.0v56.1M105.2 855.1v56.1M151.6 855.1v56.1M193.2 855.1v56.1M264.1 855.1v56.1M271.4 855.1v56.1M298.3 855.1v56.1M310.5 855.1v56.1M349.6 855.1v56.1M557.3 855.1v56.1M589.0 855.1v56.1M611.0 855.1v56.1M642.8 855.1v56.1M657.5 855.1v56.1M137.0 911.3v56.1M207.8 911.3v56.1M278.7 911.3v56.1M366.7 911.3v56.1M371.6 911.3v56.1M462.0 911.3v56.1M474.2 911.3v56.1M488.9 911.3v56.1M549.9 911.3v56.1" stroke="#fad1b2"/>
<path d="M364.2 574.4v56.1M515.7 574.4v56.1M540.2 574.4v56.1M633.0 574.4v56.1M222.5 630.5v56.1M246.9 630.5v56.1M405.8 630.5v56.1M430.2 630.5v56.1M481.5 630.5v56.1M493.7 630.5v56.1M540.2 630.5v56.1M620.8 630.5v56.1M677.0 630.5v56.1M254.3 686.7v56.1M300.7 686.7v56.1M320.3 686.7v56.1M440.0 686.7v56.1M449.8 686.7v56.1M481.5 686.7v56.1M493.7 686.7v56.1M513.3 686.7v56.1M520.6 686.7v56.1M525.5 686.7v56.1M537.7 686.7v56.1M542.6 686.7v56.1M545.1 686.7v56.1M586.6 686.7v56.1M601.3 686.7v56.1M611.0 686.7v56.1M630.6 686.7v56.1M633.0 686.7v56.1M655.0 686.7v56.1M662.3 686.7v56.1M664.8 686.7v56.1M667.2 686.7v56.1M679.4 686.7v56.1M681.9 686.7v56.1M684.3 686.7v56.1M117.4 742.8v56.1M127.2 742.8v56.1M139.4 742.8v56.1M141.9 742.8v56.1M159.0 742.8v56.1M161.4 742.8v56.1M163.9 742.8v56.1M171.2 742.8v56.1M178.5 742.8v56.1M198.1 742.8v56.1M203.0 742.8v56.1M205.4 742.8v56.1M215.2 742.8v56.1M229.8 742.8v56.1M234.7 742.8v56.1M237.2 742.8v56.1M244.5 742.8v56.1M246.9 742.8v56.1M249.4 742.8v56.1M251.8 742.8v56.1M256.7 742.8v56.1M276.3 742.8v56.1M278.7 742.8v56.1M290.9 742.8v56.1M320.3 742.8v56.1M339.8 742.8v56.1M342.2 742.8v56.1M344.7 742.8v56.1M105.2 799.0v56.1M168.8 799.0v56.1M225.0 799.0v56.1M227.4 799.0v56.1M286.0 799.0v56.1M369.1 799.0v56.1M386.2 799.0v56.1M405.8 799.0v56.1M476.6 799.0v56.1M503.5 799.0v56.1M506.0 799.0v56.1M535.3 799.0v56.1M537.7 799.0v56.1M574.4 799.0v56.1M586.6 799.0v56.1M598.8 799.0v56.1M633.0 799.0v56.1M635.5 799.0v56.1M645.2 799.0v56.1M662.3 799.0v56.1M669.7 799.0v56.1M679.4 799.0v56.1M684.3 799.0v56.1M161.4 855.1v56.1M171.2 855.1v56.1M361.8 855.1v56.1M508.4 855.1v56.1M608.6 855.1v56.1M141.9 911.3v56.1M146.8 911.3v56.1M408.2 911.3v56.1M506.0 911.3v56.1M589.0 911.3v56.1" stroke="#f9ba8a"/>
<path d="M117.4 574.4v56.1M183.4 574.4v56.1M193.2 574.4v56.1M393.6 574.4v56.1M447.3 574.4v56.1M462.0 574.4v56.1M466.9 574.4v56.1M479.1 574.4v56.1M486.4 574.4v56.1M530.4 574.4v56.1M537.7 574.4v56.1M547.5 574.4v56.1M571.9 574.4v56.1M579.3 574.4v56.1M584.2 574.4v56.1M586.6 574.4v56.1M593.9 574.4v56.1M623.2 574.4v56.1M647.7 574.4v56.1M655.0 574.4v56.1M515.7 630.5v56.1M542.6 630.5v56.1M554.8 630.5v56.1M567.0 630.5v56.1M569.5 630.5v56.1M586.6 630.5v56.1M601.3 630.5v56.1M611.0 630.5v56.1M618.4 630.5v56.1M625.7 630.5v56.1M637.9 630.5v56.1M647.7 630.5v56.1M664.8 630.5v56.1M667.2 630.5v56.1M674.6 630.5v56.1M679.4 630.5v56.1M501.1 686.7v56.1M515.7 686.7v56.1M547.5 686.7v56.1M552.4 686.7v56.1M576.8 686.7v56.1M581.7 686.7v56.1M584.2 686.7v56.1M613.5 686.7v56.1M635.5 686.7v56.1M686.8 686.7v56.1M107.7 742.8v56.1M122.3 742.8v56.1M129.7 742.8v56.1M132.1 742.8v56.1M134.5 742.8v56.1M137.0 742.8v56.1M144.3 742.8v56.1M149.2 742.8v56.1M151.6 742.8v56.1M154.1 742.8v56.1M166.3 742.8v56.1M173.6 742.8v56.1M181.0 742.8v56.1M195.6 742.8v56.1M200.5 742.8v56.1M220.1 742.8v56.1M222.5 742.8v56.1M288.5 742.8v56.1M330.0 742.8v56.1M146.8 799.0v56.1M166.3 799.0v56.1M215.2 799.0v56.1M237.2 799.0v56.1M239.6 799.0v56.1M278.7 799.0v56.1M408.2 799.0v56.1M562.2 799.0v56.1M567.0 799.0v56.1M581.7 799.0v56.1M593.9 799.0v56.1M628.1 799.0v56.1M630.6 799.0v56.1M674.6 799.0v56.1M677.0 799.0v56.1M447.3 855.1v56.1M613.5 855.1v56.1M630.6 855.1v56.1M637.9 855.1v56.1M640.4 855.1v56.1M645.2 855.1v56.1M655.0 855.1v56.1M659.9 855.1v56.1M674.6 855.1v56.1M677.0 855.1v56.1M684.3 855.1v56.1M562.2 911.3v56.1M574.4 911.3v56.1M576.8 911.3v56.1M579.3 911.3v56.1M596.4 911.3v56.1M598.8 911.3v56.1M635.5 911.3v56.1" stroke="#f7a266"/>
<path d="M203.0 574.4v56.1M471.7 574.4v56.1M527.9 574.4v56.1M562.2 574.4v56.1M567.0 574.4v56.1M596.4 574.4v56.1M598.8 574.4v56.1M606.1 574.4v56.1M608.6 574.4v56.1M611.0 574.4v56.1M613.5 574.4v56.1M615.9 574.4v56.1M620.8 574.4v56.1M625.7 574.4v56.1M637.9 574.4v56.1M640.4 574.4v56.1M642.8 574.4v56.1M645.2 574.4v56.1M657.5 574.4v56.1M662.3 574.4v56.1M664.8 574.4v56.1M667.2 574.4v56.1M669.7 574.4v56.1M672.1 574.4v56.1M674.6 574.4v56.1M679.4 574.4v56.1M681.9 574.4v56.1M684.3 574.4v56.1M593.9 630.5v56.1M608.6 630.5v56.1M628.1 630.5v56.1M633.0 630.5v56.1M652.6 630.5v56.1M655.0 630.5v56.1M659.9 630.5v56.1M662.3 630.5v56.1M669.7 630.5v56.1M672.1 630.5v56.1M681.9 630.5v56.1M684.3 630.5v56.1M686.8 630.5v56.1M452.2 686.7v56.1M464.4 686.7v56.1M471.7 686.7v56.1M523.1 686.7v56.1M549.9 686.7v56.1M608.6 686.7v56.1M615.9 686.7v56.1M625.7 686.7v56.1M637.9 686.7v56.1M650.1 686.7v56.1M659.9 686.7v56.1M105.2 742.8v56.1M115.0 742.8v56.1M119.9 742.8v56.1M168.8 742.8v56.1M183.4 742.8v56.1M212.7 742.8v56.1M225.0 742.8v56.1M212.7 799.0v56.1M525.5 799.0v56.1M601.3 799.0v56.1M618.4 799.0v56.1M672.1 799.0v56.1M681.9 799.0v56.1M686.8 799.0v56.1M444.9 855.1v56.1M532.8 855.1v56.1M623.2 855.1v56.1M628.1 855.1v56.1M647.7 855.1v56.1M650.1 855.1v56.1M652.6 855.1v56.1M662.3 855.1v56.1M667.2 855.1v56.1M669.7 855.1v56.1M679.4 855.1v56.1M681.9 855.1v56.1M686.8 855.1v56.1M559.7 911.3v56.1M564.6 911.3v56.1M569.5 911.3v56.1M584.2 911.3v56.1M591.5 911.3v56.1M601.3 911.3v56.1M618.4 911.3v56.1M625.7 911.3v56.1M630.6 911.3v56.1M633.0 911.3v56.1M637.9 911.3v56.1M640.4 911.3v56.1M650.1 911.3v56.1M652.6 911.3v56.1M657.5 911.3v56.1M662.3 911.3v56.1M669.7 911.3v56.1M677.0 911.3v56.1M679.4 911.3v56.1" stroke="#f5873d"/>
<path d="M635.5 574.4v56.1M650.1 574.4v56.1M652.6 574.4v56.1M659.9 574.4v56.1M677.0 574.4v56.1M686.8 574.4v56.1M657.5 630.5v56.1M112.6 742.8v56.1M146.8 742.8v56.1M620.8 911.3v56.1M647.7 911.3v56.1M655.0 911.3v56.1M659.9 911.3v56.1M664.8 911.3v56.1M667.2 911.3v56.1M674.6 911.3v56.1M681.9 911.3v56.1M684.3 911.3v56.1M686.8 911.3v56.1" stroke="#f58337"/>
</g></g></g>
<text x="691.0" y="608.2" font-size="20" fill="#222" textLength="72.0" lengthAdjust="spacingAndGlyphs">CRNDE</text>
<text x="691.0" y="663.8" font-size="20" fill="#222" textLength="89.6" lengthAdjust="spacingAndGlyphs">AC022034.1</text>
<text x="691.0" y="719.5" font-size="20" fill="#222" textLength="84.0" lengthAdjust="spacingAndGlyphs">RHOQ-AS1</text>
<text x="691.0" y="775.1" font-size="20" fill="#222" textLength="89.6" lengthAdjust="spacingAndGlyphs">AL159169.2</text>
<text x="691.0" y="830.8" font-size="20" fill="#222" textLength="91.0" lengthAdjust="spacingAndGlyphs">AL133215.2</text>
<text x="691.0" y="886.4" font-size="20" fill="#222" textLength="111.0" lengthAdjust="spacingAndGlyphs">AC007098.1</text>
<text x="691.0" y="942.1" font-size="20" fill="#222" textLength="102.0" lengthAdjust="spacingAndGlyphs">LINC02587</text>
<defs><linearGradient id="cb11" x1="0" y1="0" x2="0" y2="1"><stop offset="0.005" stop-color="#f47d2f"/><stop offset="0.350" stop-color="#f58438"/><stop offset="0.430" stop-color="#f9c098"/><stop offset="0.494" stop-color="#fbf3f0"/><stop offset="0.526" stop-color="#c8cbec"/><stop offset="0.574" stop-color="#6e76c6"/><stop offset="0.630" stop-color="#4045a8"/><stop offset="0.686" stop-color="#353780"/><stop offset="0.966" stop-color="#333578"/></linearGradient></defs>
<rect x="783.7" y="553.3" width="14.6" height="222.7" fill="url(#cb11)"/>
<text x="804.4" y="560.6" font-size="17" fill="#222">6</text>
<text x="804.4" y="596.3" font-size="17" fill="#222">4</text>
<text x="804.4" y="631.9" font-size="17" fill="#222">2</text>
<text x="804.4" y="667.6" font-size="17" fill="#222">0</text>
<text x="804.4" y="703.3" font-size="17" fill="#222">−2</text>
<text x="804.4" y="738.9" font-size="17" fill="#222">−4</text>
<text x="804.4" y="774.6" font-size="17" fill="#222">−6</text>
<rect x="1341.4" y="1622.0" width="288.9" height="29.0" fill="#33376B"/>
<rect x="1630.3" y="1622.0" width="245.3" height="29.0" fill="#F47D2F"/>
<text x="1445.0" y="1644.1" font-size="20.5" fill="#F4F2F6" font-weight="bold" textLength="89.0" lengthAdjust="spacingAndGlyphs">Low risk</text>
<text x="1704.0" y="1644.1" font-size="20.5" fill="#F4F2F6" font-weight="bold" textLength="94.0" lengthAdjust="spacingAndGlyphs">High risk</text>
<defs><filter id="hb23" x="0" y="0" width="1" height="1" filterUnits="objectBoundingBox"><feGaussianBlur stdDeviation="1.0 0"/></filter><clipPath id="hc23"><rect x="1341.4" y="1656.5" width="534.1999999999998" height="395.5"/></clipPath></defs>
<g clip-path="url(#hc23)"><g filter="url(#hb23)"><rect x="1333.4" y="1656.5" width="550.1999999999998" height="395.5" fill="#b9bce4"/><g stroke-width="1.46" fill="none">
<path d="M1476.6 1769.5v56.5M1495.5 1769.5v56.5M1662.5 1826.0v56.5M1772.7 1826.0v56.5M1773.8 1826.0v56.5M1779.3 1826.0v56.5M1861.7 1826.0v56.5" stroke="#3c4297"/>
<path d="M1484.4 1656.5v56.5M1504.4 1656.5v56.5M1638.0 1656.5v56.5M1382.0 1769.5v56.5M1403.2 1769.5v56.5M1411.0 1769.5v56.5M1415.4 1769.5v56.5M1416.5 1769.5v56.5M1464.4 1769.5v56.5M1477.7 1769.5v56.5M1478.8 1769.5v56.5M1503.3 1769.5v56.5M1537.8 1769.5v56.5M1563.4 1769.5v56.5M1570.1 1769.5v56.5M1587.9 1769.5v56.5M1593.5 1769.5v56.5M1620.2 1769.5v56.5M1662.5 1769.5v56.5M1689.2 1769.5v56.5M1693.6 1769.5v56.5M1699.2 1769.5v56.5M1779.3 1769.5v56.5M1782.7 1769.5v56.5M1591.2 1826.0v56.5M1604.6 1826.0v56.5M1633.5 1826.0v56.5M1634.7 1826.0v56.5M1635.8 1826.0v56.5M1636.9 1826.0v56.5M1644.7 1826.0v56.5M1646.9 1826.0v56.5M1648.0 1826.0v56.5M1655.8 1826.0v56.5M1661.4 1826.0v56.5M1663.6 1826.0v56.5M1666.9 1826.0v56.5M1669.2 1826.0v56.5M1672.5 1826.0v56.5M1673.6 1826.0v56.5M1690.3 1826.0v56.5M1699.2 1826.0v56.5M1702.5 1826.0v56.5M1707.0 1826.0v56.5M1708.1 1826.0v56.5M1710.3 1826.0v56.5M1712.6 1826.0v56.5M1714.8 1826.0v56.5M1722.6 1826.0v56.5M1732.6 1826.0v56.5M1743.7 1826.0v56.5M1744.8 1826.0v56.5M1766.0 1826.0v56.5M1774.9 1826.0v56.5M1780.4 1826.0v56.5M1781.6 1826.0v56.5M1796.0 1826.0v56.5M1799.4 1826.0v56.5M1803.8 1826.0v56.5M1804.9 1826.0v56.5M1817.2 1826.0v56.5M1818.3 1826.0v56.5M1821.6 1826.0v56.5M1822.7 1826.0v56.5M1847.2 1826.0v56.5M1848.3 1826.0v56.5M1853.9 1826.0v56.5M1857.2 1826.0v56.5M1863.9 1826.0v56.5M1494.4 1882.5v56.5M1800.5 1882.5v56.5" stroke="#5860b8"/>
<path d="M1364.2 1656.5v56.5M1365.3 1656.5v56.5M1369.8 1656.5v56.5M1398.7 1656.5v56.5M1417.6 1656.5v56.5M1437.7 1656.5v56.5M1463.3 1656.5v56.5M1471.1 1656.5v56.5M1472.2 1656.5v56.5M1477.7 1656.5v56.5M1481.1 1656.5v56.5M1495.5 1656.5v56.5M1532.3 1656.5v56.5M1631.3 1656.5v56.5M1636.9 1656.5v56.5M1700.3 1656.5v56.5M1725.9 1656.5v56.5M1817.2 1656.5v56.5M1835.0 1656.5v56.5M1349.7 1769.5v56.5M1355.3 1769.5v56.5M1358.7 1769.5v56.5M1367.6 1769.5v56.5M1380.9 1769.5v56.5M1383.1 1769.5v56.5M1384.2 1769.5v56.5M1412.1 1769.5v56.5M1424.3 1769.5v56.5M1437.7 1769.5v56.5M1438.8 1769.5v56.5M1453.2 1769.5v56.5M1463.3 1769.5v56.5M1469.9 1769.5v56.5M1475.5 1769.5v56.5M1480.0 1769.5v56.5M1483.3 1769.5v56.5M1484.4 1769.5v56.5M1487.7 1769.5v56.5M1496.7 1769.5v56.5M1498.9 1769.5v56.5M1500.0 1769.5v56.5M1501.1 1769.5v56.5M1508.9 1769.5v56.5M1530.0 1769.5v56.5M1551.2 1769.5v56.5M1552.3 1769.5v56.5M1567.9 1769.5v56.5M1569.0 1769.5v56.5M1579.0 1769.5v56.5M1603.5 1769.5v56.5M1612.4 1769.5v56.5M1649.1 1769.5v56.5M1666.9 1769.5v56.5M1671.4 1769.5v56.5M1679.2 1769.5v56.5M1683.6 1769.5v56.5M1703.7 1769.5v56.5M1718.1 1769.5v56.5M1763.8 1769.5v56.5M1764.9 1769.5v56.5M1783.8 1769.5v56.5M1789.3 1769.5v56.5M1530.0 1826.0v56.5M1595.7 1826.0v56.5M1610.2 1826.0v56.5M1611.3 1826.0v56.5M1640.2 1826.0v56.5M1641.3 1826.0v56.5M1643.6 1826.0v56.5M1651.3 1826.0v56.5M1656.9 1826.0v56.5M1660.3 1826.0v56.5M1664.7 1826.0v56.5M1665.8 1826.0v56.5M1670.3 1826.0v56.5M1671.4 1826.0v56.5M1674.7 1826.0v56.5M1678.1 1826.0v56.5M1679.2 1826.0v56.5M1682.5 1826.0v56.5M1692.5 1826.0v56.5M1693.6 1826.0v56.5M1695.9 1826.0v56.5M1703.7 1826.0v56.5M1704.8 1826.0v56.5M1705.9 1826.0v56.5M1711.4 1826.0v56.5M1724.8 1826.0v56.5M1733.7 1826.0v56.5M1734.8 1826.0v56.5M1738.2 1826.0v56.5M1745.9 1826.0v56.5M1749.3 1826.0v56.5M1750.4 1826.0v56.5M1752.6 1826.0v56.5M1753.7 1826.0v56.5M1764.9 1826.0v56.5M1770.4 1826.0v56.5M1776.0 1826.0v56.5M1782.7 1826.0v56.5M1783.8 1826.0v56.5M1787.1 1826.0v56.5M1792.7 1826.0v56.5M1794.9 1826.0v56.5M1798.3 1826.0v56.5M1801.6 1826.0v56.5M1808.3 1826.0v56.5M1810.5 1826.0v56.5M1819.4 1826.0v56.5M1820.5 1826.0v56.5M1843.9 1826.0v56.5M1849.4 1826.0v56.5M1850.6 1826.0v56.5M1865.0 1826.0v56.5M1870.6 1826.0v56.5M1872.8 1826.0v56.5M1380.9 1882.5v56.5M1397.6 1882.5v56.5M1398.7 1882.5v56.5M1416.5 1882.5v56.5M1419.9 1882.5v56.5M1425.4 1882.5v56.5M1451.0 1882.5v56.5M1493.3 1882.5v56.5M1495.5 1882.5v56.5M1502.2 1882.5v56.5M1524.5 1882.5v56.5M1550.1 1882.5v56.5M1551.2 1882.5v56.5M1552.3 1882.5v56.5M1559.0 1882.5v56.5M1676.9 1882.5v56.5M1744.8 1882.5v56.5M1786.0 1882.5v56.5M1784.9 1939.0v56.5M1798.3 1939.0v56.5" stroke="#727bc8"/>
<path d="M1366.4 1656.5v56.5M1370.9 1656.5v56.5M1377.6 1656.5v56.5M1379.8 1656.5v56.5M1380.9 1656.5v56.5M1384.2 1656.5v56.5M1394.3 1656.5v56.5M1395.4 1656.5v56.5M1399.8 1656.5v56.5M1422.1 1656.5v56.5M1424.3 1656.5v56.5M1433.2 1656.5v56.5M1436.6 1656.5v56.5M1438.8 1656.5v56.5M1449.9 1656.5v56.5M1462.2 1656.5v56.5M1469.9 1656.5v56.5M1473.3 1656.5v56.5M1474.4 1656.5v56.5M1483.3 1656.5v56.5M1485.5 1656.5v56.5M1491.1 1656.5v56.5M1506.7 1656.5v56.5M1517.8 1656.5v56.5M1521.1 1656.5v56.5M1526.7 1656.5v56.5M1535.6 1656.5v56.5M1538.9 1656.5v56.5M1541.2 1656.5v56.5M1559.0 1656.5v56.5M1582.3 1656.5v56.5M1589.0 1656.5v56.5M1594.6 1656.5v56.5M1611.3 1656.5v56.5M1615.7 1656.5v56.5M1619.1 1656.5v56.5M1625.8 1656.5v56.5M1642.4 1656.5v56.5M1648.0 1656.5v56.5M1649.1 1656.5v56.5M1650.2 1656.5v56.5M1676.9 1656.5v56.5M1683.6 1656.5v56.5M1692.5 1656.5v56.5M1705.9 1656.5v56.5M1720.3 1656.5v56.5M1721.5 1656.5v56.5M1727.0 1656.5v56.5M1740.4 1656.5v56.5M1764.9 1656.5v56.5M1816.1 1656.5v56.5M1820.5 1656.5v56.5M1825.0 1656.5v56.5M1343.1 1713.0v56.5M1360.9 1713.0v56.5M1438.8 1713.0v56.5M1439.9 1713.0v56.5M1443.2 1713.0v56.5M1456.6 1713.0v56.5M1469.9 1713.0v56.5M1471.1 1713.0v56.5M1540.1 1713.0v56.5M1563.4 1713.0v56.5M1600.2 1713.0v56.5M1612.4 1713.0v56.5M1618.0 1713.0v56.5M1626.9 1713.0v56.5M1641.3 1713.0v56.5M1687.0 1713.0v56.5M1720.3 1713.0v56.5M1730.4 1713.0v56.5M1751.5 1713.0v56.5M1762.6 1713.0v56.5M1819.4 1713.0v56.5M1837.2 1713.0v56.5M1839.4 1713.0v56.5M1345.3 1769.5v56.5M1364.2 1769.5v56.5M1366.4 1769.5v56.5M1400.9 1769.5v56.5M1405.4 1769.5v56.5M1406.5 1769.5v56.5M1407.6 1769.5v56.5M1427.7 1769.5v56.5M1432.1 1769.5v56.5M1439.9 1769.5v56.5M1442.1 1769.5v56.5M1443.2 1769.5v56.5M1444.3 1769.5v56.5M1447.7 1769.5v56.5M1459.9 1769.5v56.5M1461.0 1769.5v56.5M1462.2 1769.5v56.5M1466.6 1769.5v56.5M1467.7 1769.5v56.5M1468.8 1769.5v56.5M1472.2 1769.5v56.5M1474.4 1769.5v56.5M1481.1 1769.5v56.5M1488.9 1769.5v56.5M1497.8 1769.5v56.5M1505.6 1769.5v56.5M1506.7 1769.5v56.5M1507.8 1769.5v56.5M1534.5 1769.5v56.5M1542.3 1769.5v56.5M1543.4 1769.5v56.5M1545.6 1769.5v56.5M1549.0 1769.5v56.5M1553.4 1769.5v56.5M1560.1 1769.5v56.5M1564.5 1769.5v56.5M1565.7 1769.5v56.5M1574.6 1769.5v56.5M1575.7 1769.5v56.5M1577.9 1769.5v56.5M1581.2 1769.5v56.5M1582.3 1769.5v56.5M1583.5 1769.5v56.5M1594.6 1769.5v56.5M1607.9 1769.5v56.5M1610.2 1769.5v56.5M1618.0 1769.5v56.5M1625.8 1769.5v56.5M1626.9 1769.5v56.5M1656.9 1769.5v56.5M1672.5 1769.5v56.5M1673.6 1769.5v56.5M1684.7 1769.5v56.5M1695.9 1769.5v56.5M1702.5 1769.5v56.5M1719.2 1769.5v56.5M1720.3 1769.5v56.5M1766.0 1769.5v56.5M1771.5 1769.5v56.5M1781.6 1769.5v56.5M1791.6 1769.5v56.5M1792.7 1769.5v56.5M1793.8 1769.5v56.5M1822.7 1769.5v56.5M1833.9 1769.5v56.5M1853.9 1769.5v56.5M1861.7 1769.5v56.5M1516.7 1826.0v56.5M1517.8 1826.0v56.5M1535.6 1826.0v56.5M1551.2 1826.0v56.5M1552.3 1826.0v56.5M1566.8 1826.0v56.5M1570.1 1826.0v56.5M1582.3 1826.0v56.5M1586.8 1826.0v56.5M1594.6 1826.0v56.5M1607.9 1826.0v56.5M1609.1 1826.0v56.5M1619.1 1826.0v56.5M1621.3 1826.0v56.5M1624.6 1826.0v56.5M1631.3 1826.0v56.5M1638.0 1826.0v56.5M1639.1 1826.0v56.5M1652.5 1826.0v56.5M1653.6 1826.0v56.5M1658.0 1826.0v56.5M1676.9 1826.0v56.5M1687.0 1826.0v56.5M1697.0 1826.0v56.5M1698.1 1826.0v56.5M1717.0 1826.0v56.5M1718.1 1826.0v56.5M1719.2 1826.0v56.5M1725.9 1826.0v56.5M1730.4 1826.0v56.5M1735.9 1826.0v56.5M1739.3 1826.0v56.5M1742.6 1826.0v56.5M1751.5 1826.0v56.5M1756.0 1826.0v56.5M1758.2 1826.0v56.5M1760.4 1826.0v56.5M1768.2 1826.0v56.5M1771.5 1826.0v56.5M1777.1 1826.0v56.5M1786.0 1826.0v56.5M1793.8 1826.0v56.5M1797.1 1826.0v56.5M1806.0 1826.0v56.5M1807.2 1826.0v56.5M1809.4 1826.0v56.5M1813.8 1826.0v56.5M1814.9 1826.0v56.5M1823.8 1826.0v56.5M1825.0 1826.0v56.5M1851.7 1826.0v56.5M1852.8 1826.0v56.5M1862.8 1826.0v56.5M1871.7 1826.0v56.5M1873.9 1826.0v56.5M1345.3 1882.5v56.5M1347.5 1882.5v56.5M1349.7 1882.5v56.5M1362.0 1882.5v56.5M1367.6 1882.5v56.5M1373.1 1882.5v56.5M1399.8 1882.5v56.5M1404.3 1882.5v56.5M1405.4 1882.5v56.5M1408.7 1882.5v56.5M1417.6 1882.5v56.5M1433.2 1882.5v56.5M1437.7 1882.5v56.5M1443.2 1882.5v56.5M1481.1 1882.5v56.5M1484.4 1882.5v56.5M1531.2 1882.5v56.5M1540.1 1882.5v56.5M1541.2 1882.5v56.5M1542.3 1882.5v56.5M1543.4 1882.5v56.5M1553.4 1882.5v56.5M1557.9 1882.5v56.5M1565.7 1882.5v56.5M1566.8 1882.5v56.5M1567.9 1882.5v56.5M1574.6 1882.5v56.5M1582.3 1882.5v56.5M1587.9 1882.5v56.5M1592.4 1882.5v56.5M1636.9 1882.5v56.5M1656.9 1882.5v56.5M1662.5 1882.5v56.5M1663.6 1882.5v56.5M1702.5 1882.5v56.5M1703.7 1882.5v56.5M1704.8 1882.5v56.5M1721.5 1882.5v56.5M1732.6 1882.5v56.5M1733.7 1882.5v56.5M1745.9 1882.5v56.5M1752.6 1882.5v56.5M1754.8 1882.5v56.5M1757.1 1882.5v56.5M1827.2 1882.5v56.5M1363.1 1939.0v56.5M1376.5 1939.0v56.5M1405.4 1939.0v56.5M1421.0 1939.0v56.5M1429.9 1939.0v56.5M1431.0 1939.0v56.5M1462.2 1939.0v56.5M1496.7 1939.0v56.5M1506.7 1939.0v56.5M1528.9 1939.0v56.5M1575.7 1939.0v56.5M1642.4 1939.0v56.5M1671.4 1939.0v56.5M1680.3 1939.0v56.5M1825.0 1939.0v56.5M1856.1 1939.0v56.5" stroke="#8991d3"/>
<path d="M1348.6 1656.5v56.5M1352.0 1656.5v56.5M1353.1 1656.5v56.5M1356.4 1656.5v56.5M1357.5 1656.5v56.5M1362.0 1656.5v56.5M1376.5 1656.5v56.5M1383.1 1656.5v56.5M1387.6 1656.5v56.5M1389.8 1656.5v56.5M1404.3 1656.5v56.5M1407.6 1656.5v56.5M1413.2 1656.5v56.5M1419.9 1656.5v56.5M1427.7 1656.5v56.5M1431.0 1656.5v56.5M1444.3 1656.5v56.5M1445.5 1656.5v56.5M1451.0 1656.5v56.5M1454.4 1656.5v56.5M1461.0 1656.5v56.5M1478.8 1656.5v56.5M1482.2 1656.5v56.5M1486.6 1656.5v56.5M1487.7 1656.5v56.5M1490.0 1656.5v56.5M1493.3 1656.5v56.5M1494.4 1656.5v56.5M1500.0 1656.5v56.5M1501.1 1656.5v56.5M1505.6 1656.5v56.5M1514.5 1656.5v56.5M1520.0 1656.5v56.5M1533.4 1656.5v56.5M1534.5 1656.5v56.5M1536.7 1656.5v56.5M1542.3 1656.5v56.5M1543.4 1656.5v56.5M1546.7 1656.5v56.5M1550.1 1656.5v56.5M1553.4 1656.5v56.5M1554.5 1656.5v56.5M1565.7 1656.5v56.5M1566.8 1656.5v56.5M1572.3 1656.5v56.5M1574.6 1656.5v56.5M1580.1 1656.5v56.5M1581.2 1656.5v56.5M1587.9 1656.5v56.5M1590.1 1656.5v56.5M1595.7 1656.5v56.5M1602.4 1656.5v56.5M1605.7 1656.5v56.5M1607.9 1656.5v56.5M1609.1 1656.5v56.5M1610.2 1656.5v56.5M1639.1 1656.5v56.5M1640.2 1656.5v56.5M1641.3 1656.5v56.5M1644.7 1656.5v56.5M1653.6 1656.5v56.5M1661.4 1656.5v56.5M1662.5 1656.5v56.5M1663.6 1656.5v56.5M1664.7 1656.5v56.5M1684.7 1656.5v56.5M1685.8 1656.5v56.5M1695.9 1656.5v56.5M1698.1 1656.5v56.5M1704.8 1656.5v56.5M1707.0 1656.5v56.5M1751.5 1656.5v56.5M1773.8 1656.5v56.5M1344.2 1713.0v56.5M1364.2 1713.0v56.5M1370.9 1713.0v56.5M1372.0 1713.0v56.5M1373.1 1713.0v56.5M1374.2 1713.0v56.5M1388.7 1713.0v56.5M1399.8 1713.0v56.5M1409.8 1713.0v56.5M1413.2 1713.0v56.5M1414.3 1713.0v56.5M1435.4 1713.0v56.5M1436.6 1713.0v56.5M1441.0 1713.0v56.5M1447.7 1713.0v56.5M1448.8 1713.0v56.5M1457.7 1713.0v56.5M1461.0 1713.0v56.5M1468.8 1713.0v56.5M1472.2 1713.0v56.5M1477.7 1713.0v56.5M1478.8 1713.0v56.5M1481.1 1713.0v56.5M1502.2 1713.0v56.5M1506.7 1713.0v56.5M1507.8 1713.0v56.5M1510.0 1713.0v56.5M1511.1 1713.0v56.5M1514.5 1713.0v56.5M1515.6 1713.0v56.5M1521.1 1713.0v56.5M1536.7 1713.0v56.5M1538.9 1713.0v56.5M1541.2 1713.0v56.5M1546.7 1713.0v56.5M1576.8 1713.0v56.5M1586.8 1713.0v56.5M1589.0 1713.0v56.5M1604.6 1713.0v56.5M1605.7 1713.0v56.5M1606.8 1713.0v56.5M1607.9 1713.0v56.5M1622.4 1713.0v56.5M1623.5 1713.0v56.5M1624.6 1713.0v56.5M1640.2 1713.0v56.5M1642.4 1713.0v56.5M1670.3 1713.0v56.5M1671.4 1713.0v56.5M1673.6 1713.0v56.5M1685.8 1713.0v56.5M1698.1 1713.0v56.5M1699.2 1713.0v56.5M1709.2 1713.0v56.5M1711.4 1713.0v56.5M1712.6 1713.0v56.5M1715.9 1713.0v56.5M1717.0 1713.0v56.5M1728.1 1713.0v56.5M1741.5 1713.0v56.5M1760.4 1713.0v56.5M1776.0 1713.0v56.5M1783.8 1713.0v56.5M1796.0 1713.0v56.5M1798.3 1713.0v56.5M1348.6 1769.5v56.5M1350.9 1769.5v56.5M1360.9 1769.5v56.5M1362.0 1769.5v56.5M1375.3 1769.5v56.5M1378.7 1769.5v56.5M1387.6 1769.5v56.5M1392.0 1769.5v56.5M1404.3 1769.5v56.5M1425.4 1769.5v56.5M1446.6 1769.5v56.5M1448.8 1769.5v56.5M1457.7 1769.5v56.5M1471.1 1769.5v56.5M1473.3 1769.5v56.5M1482.2 1769.5v56.5M1485.5 1769.5v56.5M1490.0 1769.5v56.5M1492.2 1769.5v56.5M1493.3 1769.5v56.5M1494.4 1769.5v56.5M1502.2 1769.5v56.5M1514.5 1769.5v56.5M1515.6 1769.5v56.5M1527.8 1769.5v56.5M1554.5 1769.5v56.5M1555.6 1769.5v56.5M1556.7 1769.5v56.5M1572.3 1769.5v56.5M1573.4 1769.5v56.5M1589.0 1769.5v56.5M1604.6 1769.5v56.5M1606.8 1769.5v56.5M1609.1 1769.5v56.5M1613.5 1769.5v56.5M1614.6 1769.5v56.5M1615.7 1769.5v56.5M1616.8 1769.5v56.5M1621.3 1769.5v56.5M1644.7 1769.5v56.5M1648.0 1769.5v56.5M1664.7 1769.5v56.5M1678.1 1769.5v56.5M1681.4 1769.5v56.5M1685.8 1769.5v56.5M1694.8 1769.5v56.5M1735.9 1769.5v56.5M1790.5 1769.5v56.5M1850.6 1769.5v56.5M1851.7 1769.5v56.5M1852.8 1769.5v56.5M1465.5 1826.0v56.5M1536.7 1826.0v56.5M1538.9 1826.0v56.5M1541.2 1826.0v56.5M1542.3 1826.0v56.5M1549.0 1826.0v56.5M1550.1 1826.0v56.5M1580.1 1826.0v56.5M1592.4 1826.0v56.5M1593.5 1826.0v56.5M1602.4 1826.0v56.5M1614.6 1826.0v56.5M1615.7 1826.0v56.5M1625.8 1826.0v56.5M1649.1 1826.0v56.5M1650.2 1826.0v56.5M1659.1 1826.0v56.5M1668.0 1826.0v56.5M1675.8 1826.0v56.5M1680.3 1826.0v56.5M1684.7 1826.0v56.5M1694.8 1826.0v56.5M1700.3 1826.0v56.5M1701.4 1826.0v56.5M1709.2 1826.0v56.5M1713.7 1826.0v56.5M1715.9 1826.0v56.5M1754.8 1826.0v56.5M1767.1 1826.0v56.5M1784.9 1826.0v56.5M1789.3 1826.0v56.5M1790.5 1826.0v56.5M1791.6 1826.0v56.5M1800.5 1826.0v56.5M1812.7 1826.0v56.5M1831.6 1826.0v56.5M1832.8 1826.0v56.5M1835.0 1826.0v56.5M1841.7 1826.0v56.5M1846.1 1826.0v56.5M1855.0 1826.0v56.5M1856.1 1826.0v56.5M1860.6 1826.0v56.5M1869.5 1826.0v56.5M1363.1 1882.5v56.5M1365.3 1882.5v56.5M1368.7 1882.5v56.5M1370.9 1882.5v56.5M1374.2 1882.5v56.5M1382.0 1882.5v56.5M1383.1 1882.5v56.5M1386.5 1882.5v56.5M1400.9 1882.5v56.5M1413.2 1882.5v56.5M1424.3 1882.5v56.5M1426.5 1882.5v56.5M1434.3 1882.5v56.5M1435.4 1882.5v56.5M1444.3 1882.5v56.5M1446.6 1882.5v56.5M1448.8 1882.5v56.5M1449.9 1882.5v56.5M1452.1 1882.5v56.5M1471.1 1882.5v56.5M1473.3 1882.5v56.5M1482.2 1882.5v56.5M1485.5 1882.5v56.5M1491.1 1882.5v56.5M1497.8 1882.5v56.5M1506.7 1882.5v56.5M1507.8 1882.5v56.5M1513.3 1882.5v56.5M1514.5 1882.5v56.5M1523.4 1882.5v56.5M1526.7 1882.5v56.5M1533.4 1882.5v56.5M1536.7 1882.5v56.5M1545.6 1882.5v56.5M1554.5 1882.5v56.5M1570.1 1882.5v56.5M1584.6 1882.5v56.5M1590.1 1882.5v56.5M1594.6 1882.5v56.5M1600.2 1882.5v56.5M1606.8 1882.5v56.5M1607.9 1882.5v56.5M1613.5 1882.5v56.5M1614.6 1882.5v56.5M1628.0 1882.5v56.5M1629.1 1882.5v56.5M1630.2 1882.5v56.5M1634.7 1882.5v56.5M1635.8 1882.5v56.5M1638.0 1882.5v56.5M1639.1 1882.5v56.5M1641.3 1882.5v56.5M1643.6 1882.5v56.5M1655.8 1882.5v56.5M1659.1 1882.5v56.5M1661.4 1882.5v56.5M1697.0 1882.5v56.5M1709.2 1882.5v56.5M1713.7 1882.5v56.5M1714.8 1882.5v56.5M1723.7 1882.5v56.5M1728.1 1882.5v56.5M1735.9 1882.5v56.5M1758.2 1882.5v56.5M1759.3 1882.5v56.5M1771.5 1882.5v56.5M1848.3 1882.5v56.5M1868.4 1882.5v56.5M1872.8 1882.5v56.5M1346.4 1939.0v56.5M1349.7 1939.0v56.5M1364.2 1939.0v56.5M1370.9 1939.0v56.5M1372.0 1939.0v56.5M1378.7 1939.0v56.5M1379.8 1939.0v56.5M1388.7 1939.0v56.5M1435.4 1939.0v56.5M1436.6 1939.0v56.5M1456.6 1939.0v56.5M1475.5 1939.0v56.5M1505.6 1939.0v56.5M1538.9 1939.0v56.5M1555.6 1939.0v56.5M1576.8 1939.0v56.5M1592.4 1939.0v56.5M1611.3 1939.0v56.5M1619.1 1939.0v56.5M1629.1 1939.0v56.5M1651.3 1939.0v56.5M1670.3 1939.0v56.5M1675.8 1939.0v56.5M1689.2 1939.0v56.5M1714.8 1939.0v56.5M1722.6 1939.0v56.5M1723.7 1939.0v56.5M1727.0 1939.0v56.5M1728.1 1939.0v56.5M1730.4 1939.0v56.5M1733.7 1939.0v56.5M1742.6 1939.0v56.5M1743.7 1939.0v56.5M1756.0 1939.0v56.5M1759.3 1939.0v56.5M1764.9 1939.0v56.5M1778.2 1939.0v56.5M1779.3 1939.0v56.5M1787.1 1939.0v56.5M1800.5 1939.0v56.5M1804.9 1939.0v56.5" stroke="#9da4da"/>
<path d="M1346.4 1656.5v56.5M1347.5 1656.5v56.5M1349.7 1656.5v56.5M1354.2 1656.5v56.5M1355.3 1656.5v56.5M1358.7 1656.5v56.5M1359.8 1656.5v56.5M1363.1 1656.5v56.5M1367.6 1656.5v56.5M1382.0 1656.5v56.5M1388.7 1656.5v56.5M1390.9 1656.5v56.5M1397.6 1656.5v56.5M1408.7 1656.5v56.5M1409.8 1656.5v56.5M1411.0 1656.5v56.5M1414.3 1656.5v56.5M1415.4 1656.5v56.5M1416.5 1656.5v56.5M1418.7 1656.5v56.5M1423.2 1656.5v56.5M1429.9 1656.5v56.5M1432.1 1656.5v56.5M1434.3 1656.5v56.5M1447.7 1656.5v56.5M1448.8 1656.5v56.5M1453.2 1656.5v56.5M1464.4 1656.5v56.5M1467.7 1656.5v56.5M1468.8 1656.5v56.5M1475.5 1656.5v56.5M1476.6 1656.5v56.5M1480.0 1656.5v56.5M1488.9 1656.5v56.5M1496.7 1656.5v56.5M1518.9 1656.5v56.5M1530.0 1656.5v56.5M1531.2 1656.5v56.5M1540.1 1656.5v56.5M1544.5 1656.5v56.5M1545.6 1656.5v56.5M1549.0 1656.5v56.5M1561.2 1656.5v56.5M1567.9 1656.5v56.5M1571.2 1656.5v56.5M1573.4 1656.5v56.5M1575.7 1656.5v56.5M1591.2 1656.5v56.5M1601.3 1656.5v56.5M1604.6 1656.5v56.5M1606.8 1656.5v56.5M1618.0 1656.5v56.5M1626.9 1656.5v56.5M1629.1 1656.5v56.5M1632.4 1656.5v56.5M1645.8 1656.5v56.5M1654.7 1656.5v56.5M1687.0 1656.5v56.5M1697.0 1656.5v56.5M1709.2 1656.5v56.5M1714.8 1656.5v56.5M1715.9 1656.5v56.5M1717.0 1656.5v56.5M1718.1 1656.5v56.5M1719.2 1656.5v56.5M1735.9 1656.5v56.5M1772.7 1656.5v56.5M1793.8 1656.5v56.5M1823.8 1656.5v56.5M1841.7 1656.5v56.5M1342.0 1713.0v56.5M1345.3 1713.0v56.5M1346.4 1713.0v56.5M1347.5 1713.0v56.5M1348.6 1713.0v56.5M1354.2 1713.0v56.5M1355.3 1713.0v56.5M1359.8 1713.0v56.5M1367.6 1713.0v56.5M1375.3 1713.0v56.5M1376.5 1713.0v56.5M1377.6 1713.0v56.5M1386.5 1713.0v56.5M1387.6 1713.0v56.5M1390.9 1713.0v56.5M1392.0 1713.0v56.5M1403.2 1713.0v56.5M1404.3 1713.0v56.5M1406.5 1713.0v56.5M1412.1 1713.0v56.5M1415.4 1713.0v56.5M1416.5 1713.0v56.5M1418.7 1713.0v56.5M1424.3 1713.0v56.5M1425.4 1713.0v56.5M1426.5 1713.0v56.5M1442.1 1713.0v56.5M1449.9 1713.0v56.5M1451.0 1713.0v56.5M1452.1 1713.0v56.5M1453.2 1713.0v56.5M1464.4 1713.0v56.5M1465.5 1713.0v56.5M1466.6 1713.0v56.5M1467.7 1713.0v56.5M1473.3 1713.0v56.5M1474.4 1713.0v56.5M1475.5 1713.0v56.5M1476.6 1713.0v56.5M1480.0 1713.0v56.5M1484.4 1713.0v56.5M1490.0 1713.0v56.5M1491.1 1713.0v56.5M1494.4 1713.0v56.5M1496.7 1713.0v56.5M1497.8 1713.0v56.5M1500.0 1713.0v56.5M1501.1 1713.0v56.5M1503.3 1713.0v56.5M1505.6 1713.0v56.5M1508.9 1713.0v56.5M1513.3 1713.0v56.5M1516.7 1713.0v56.5M1522.2 1713.0v56.5M1523.4 1713.0v56.5M1526.7 1713.0v56.5M1542.3 1713.0v56.5M1543.4 1713.0v56.5M1544.5 1713.0v56.5M1545.6 1713.0v56.5M1547.8 1713.0v56.5M1551.2 1713.0v56.5M1554.5 1713.0v56.5M1569.0 1713.0v56.5M1572.3 1713.0v56.5M1577.9 1713.0v56.5M1580.1 1713.0v56.5M1581.2 1713.0v56.5M1590.1 1713.0v56.5M1602.4 1713.0v56.5M1615.7 1713.0v56.5M1616.8 1713.0v56.5M1619.1 1713.0v56.5M1621.3 1713.0v56.5M1628.0 1713.0v56.5M1629.1 1713.0v56.5M1630.2 1713.0v56.5M1632.4 1713.0v56.5M1635.8 1713.0v56.5M1645.8 1713.0v56.5M1648.0 1713.0v56.5M1654.7 1713.0v56.5M1655.8 1713.0v56.5M1660.3 1713.0v56.5M1668.0 1713.0v56.5M1675.8 1713.0v56.5M1682.5 1713.0v56.5M1689.2 1713.0v56.5M1692.5 1713.0v56.5M1693.6 1713.0v56.5M1697.0 1713.0v56.5M1700.3 1713.0v56.5M1723.7 1713.0v56.5M1740.4 1713.0v56.5M1761.5 1713.0v56.5M1767.1 1713.0v56.5M1773.8 1713.0v56.5M1779.3 1713.0v56.5M1784.9 1713.0v56.5M1786.0 1713.0v56.5M1789.3 1713.0v56.5M1797.1 1713.0v56.5M1799.4 1713.0v56.5M1346.4 1769.5v56.5M1347.5 1769.5v56.5M1368.7 1769.5v56.5M1373.1 1769.5v56.5M1374.2 1769.5v56.5M1386.5 1769.5v56.5M1389.8 1769.5v56.5M1396.5 1769.5v56.5M1409.8 1769.5v56.5M1417.6 1769.5v56.5M1431.0 1769.5v56.5M1434.3 1769.5v56.5M1441.0 1769.5v56.5M1456.6 1769.5v56.5M1491.1 1769.5v56.5M1522.2 1769.5v56.5M1528.9 1769.5v56.5M1532.3 1769.5v56.5M1536.7 1769.5v56.5M1546.7 1769.5v56.5M1547.8 1769.5v56.5M1550.1 1769.5v56.5M1561.2 1769.5v56.5M1590.1 1769.5v56.5M1605.7 1769.5v56.5M1611.3 1769.5v56.5M1619.1 1769.5v56.5M1623.5 1769.5v56.5M1624.6 1769.5v56.5M1629.1 1769.5v56.5M1635.8 1769.5v56.5M1645.8 1769.5v56.5M1650.2 1769.5v56.5M1682.5 1769.5v56.5M1697.0 1769.5v56.5M1715.9 1769.5v56.5M1723.7 1769.5v56.5M1724.8 1769.5v56.5M1727.0 1769.5v56.5M1728.1 1769.5v56.5M1744.8 1769.5v56.5M1758.2 1769.5v56.5M1759.3 1769.5v56.5M1762.6 1769.5v56.5M1767.1 1769.5v56.5M1784.9 1769.5v56.5M1803.8 1769.5v56.5M1811.6 1769.5v56.5M1812.7 1769.5v56.5M1866.1 1769.5v56.5M1868.4 1769.5v56.5M1435.4 1826.0v56.5M1476.6 1826.0v56.5M1484.4 1826.0v56.5M1523.4 1826.0v56.5M1537.8 1826.0v56.5M1561.2 1826.0v56.5M1563.4 1826.0v56.5M1569.0 1826.0v56.5M1577.9 1826.0v56.5M1579.0 1826.0v56.5M1612.4 1826.0v56.5M1616.8 1826.0v56.5M1618.0 1826.0v56.5M1620.2 1826.0v56.5M1630.2 1826.0v56.5M1685.8 1826.0v56.5M1691.4 1826.0v56.5M1728.1 1826.0v56.5M1737.0 1826.0v56.5M1747.1 1826.0v56.5M1748.2 1826.0v56.5M1759.3 1826.0v56.5M1762.6 1826.0v56.5M1763.8 1826.0v56.5M1778.2 1826.0v56.5M1802.7 1826.0v56.5M1826.1 1826.0v56.5M1827.2 1826.0v56.5M1830.5 1826.0v56.5M1833.9 1826.0v56.5M1836.1 1826.0v56.5M1840.5 1826.0v56.5M1845.0 1826.0v56.5M1866.1 1826.0v56.5M1867.3 1826.0v56.5M1868.4 1826.0v56.5M1875.0 1826.0v56.5M1352.0 1882.5v56.5M1354.2 1882.5v56.5M1358.7 1882.5v56.5M1364.2 1882.5v56.5M1366.4 1882.5v56.5M1369.8 1882.5v56.5M1379.8 1882.5v56.5M1385.4 1882.5v56.5M1390.9 1882.5v56.5M1392.0 1882.5v56.5M1396.5 1882.5v56.5M1406.5 1882.5v56.5M1407.6 1882.5v56.5M1414.3 1882.5v56.5M1436.6 1882.5v56.5M1442.1 1882.5v56.5M1455.5 1882.5v56.5M1457.7 1882.5v56.5M1478.8 1882.5v56.5M1483.3 1882.5v56.5M1500.0 1882.5v56.5M1501.1 1882.5v56.5M1510.0 1882.5v56.5M1516.7 1882.5v56.5M1525.6 1882.5v56.5M1534.5 1882.5v56.5M1538.9 1882.5v56.5M1544.5 1882.5v56.5M1556.7 1882.5v56.5M1575.7 1882.5v56.5M1581.2 1882.5v56.5M1591.2 1882.5v56.5M1597.9 1882.5v56.5M1615.7 1882.5v56.5M1619.1 1882.5v56.5M1622.4 1882.5v56.5M1623.5 1882.5v56.5M1631.3 1882.5v56.5M1632.4 1882.5v56.5M1633.5 1882.5v56.5M1640.2 1882.5v56.5M1642.4 1882.5v56.5M1644.7 1882.5v56.5M1645.8 1882.5v56.5M1649.1 1882.5v56.5M1666.9 1882.5v56.5M1669.2 1882.5v56.5M1680.3 1882.5v56.5M1700.3 1882.5v56.5M1701.4 1882.5v56.5M1705.9 1882.5v56.5M1708.1 1882.5v56.5M1718.1 1882.5v56.5M1719.2 1882.5v56.5M1729.3 1882.5v56.5M1730.4 1882.5v56.5M1768.2 1882.5v56.5M1779.3 1882.5v56.5M1787.1 1882.5v56.5M1817.2 1882.5v56.5M1825.0 1882.5v56.5M1851.7 1882.5v56.5M1345.3 1939.0v56.5M1350.9 1939.0v56.5M1353.1 1939.0v56.5M1365.3 1939.0v56.5M1366.4 1939.0v56.5M1373.1 1939.0v56.5M1398.7 1939.0v56.5M1404.3 1939.0v56.5M1406.5 1939.0v56.5M1407.6 1939.0v56.5M1414.3 1939.0v56.5M1424.3 1939.0v56.5M1438.8 1939.0v56.5M1446.6 1939.0v56.5M1455.5 1939.0v56.5M1457.7 1939.0v56.5M1463.3 1939.0v56.5M1464.4 1939.0v56.5M1468.8 1939.0v56.5M1486.6 1939.0v56.5M1493.3 1939.0v56.5M1494.4 1939.0v56.5M1507.8 1939.0v56.5M1512.2 1939.0v56.5M1513.3 1939.0v56.5M1535.6 1939.0v56.5M1537.8 1939.0v56.5M1540.1 1939.0v56.5M1544.5 1939.0v56.5M1545.6 1939.0v56.5M1567.9 1939.0v56.5M1572.3 1939.0v56.5M1582.3 1939.0v56.5M1584.6 1939.0v56.5M1585.7 1939.0v56.5M1586.8 1939.0v56.5M1607.9 1939.0v56.5M1618.0 1939.0v56.5M1620.2 1939.0v56.5M1624.6 1939.0v56.5M1640.2 1939.0v56.5M1643.6 1939.0v56.5M1644.7 1939.0v56.5M1650.2 1939.0v56.5M1655.8 1939.0v56.5M1660.3 1939.0v56.5M1666.9 1939.0v56.5M1674.7 1939.0v56.5M1676.9 1939.0v56.5M1679.2 1939.0v56.5M1683.6 1939.0v56.5M1690.3 1939.0v56.5M1700.3 1939.0v56.5M1715.9 1939.0v56.5M1717.0 1939.0v56.5M1724.8 1939.0v56.5M1734.8 1939.0v56.5M1750.4 1939.0v56.5M1752.6 1939.0v56.5M1763.8 1939.0v56.5M1770.4 1939.0v56.5M1772.7 1939.0v56.5M1773.8 1939.0v56.5M1774.9 1939.0v56.5M1776.0 1939.0v56.5M1806.0 1939.0v56.5M1814.9 1939.0v56.5M1819.4 1939.0v56.5M1830.5 1939.0v56.5M1866.1 1939.0v56.5" stroke="#afb4e1"/>
<path d="M1345.3 1656.5v56.5M1350.9 1656.5v56.5M1360.9 1656.5v56.5M1368.7 1656.5v56.5M1375.3 1656.5v56.5M1403.2 1656.5v56.5M1428.8 1656.5v56.5M1435.4 1656.5v56.5M1443.2 1656.5v56.5M1452.1 1656.5v56.5M1456.6 1656.5v56.5M1457.7 1656.5v56.5M1497.8 1656.5v56.5M1507.8 1656.5v56.5M1512.2 1656.5v56.5M1516.7 1656.5v56.5M1528.9 1656.5v56.5M1547.8 1656.5v56.5M1551.2 1656.5v56.5M1556.7 1656.5v56.5M1562.3 1656.5v56.5M1563.4 1656.5v56.5M1570.1 1656.5v56.5M1599.0 1656.5v56.5M1600.2 1656.5v56.5M1603.5 1656.5v56.5M1614.6 1656.5v56.5M1620.2 1656.5v56.5M1621.3 1656.5v56.5M1622.4 1656.5v56.5M1623.5 1656.5v56.5M1628.0 1656.5v56.5M1634.7 1656.5v56.5M1635.8 1656.5v56.5M1656.9 1656.5v56.5M1660.3 1656.5v56.5M1675.8 1656.5v56.5M1691.4 1656.5v56.5M1693.6 1656.5v56.5M1702.5 1656.5v56.5M1728.1 1656.5v56.5M1738.2 1656.5v56.5M1753.7 1656.5v56.5M1754.8 1656.5v56.5M1759.3 1656.5v56.5M1776.0 1656.5v56.5M1781.6 1656.5v56.5M1814.9 1656.5v56.5M1832.8 1656.5v56.5M1349.7 1713.0v56.5M1350.9 1713.0v56.5M1352.0 1713.0v56.5M1353.1 1713.0v56.5M1358.7 1713.0v56.5M1365.3 1713.0v56.5M1379.8 1713.0v56.5M1380.9 1713.0v56.5M1383.1 1713.0v56.5M1384.2 1713.0v56.5M1385.4 1713.0v56.5M1389.8 1713.0v56.5M1394.3 1713.0v56.5M1395.4 1713.0v56.5M1396.5 1713.0v56.5M1398.7 1713.0v56.5M1405.4 1713.0v56.5M1417.6 1713.0v56.5M1421.0 1713.0v56.5M1422.1 1713.0v56.5M1423.2 1713.0v56.5M1431.0 1713.0v56.5M1432.1 1713.0v56.5M1485.5 1713.0v56.5M1504.4 1713.0v56.5M1517.8 1713.0v56.5M1520.0 1713.0v56.5M1527.8 1713.0v56.5M1537.8 1713.0v56.5M1550.1 1713.0v56.5M1567.9 1713.0v56.5M1573.4 1713.0v56.5M1574.6 1713.0v56.5M1579.0 1713.0v56.5M1583.5 1713.0v56.5M1585.7 1713.0v56.5M1587.9 1713.0v56.5M1596.8 1713.0v56.5M1601.3 1713.0v56.5M1609.1 1713.0v56.5M1610.2 1713.0v56.5M1613.5 1713.0v56.5M1614.6 1713.0v56.5M1625.8 1713.0v56.5M1631.3 1713.0v56.5M1634.7 1713.0v56.5M1639.1 1713.0v56.5M1649.1 1713.0v56.5M1651.3 1713.0v56.5M1652.5 1713.0v56.5M1658.0 1713.0v56.5M1659.1 1713.0v56.5M1665.8 1713.0v56.5M1672.5 1713.0v56.5M1674.7 1713.0v56.5M1680.3 1713.0v56.5M1681.4 1713.0v56.5M1688.1 1713.0v56.5M1690.3 1713.0v56.5M1695.9 1713.0v56.5M1721.5 1713.0v56.5M1724.8 1713.0v56.5M1727.0 1713.0v56.5M1732.6 1713.0v56.5M1733.7 1713.0v56.5M1734.8 1713.0v56.5M1735.9 1713.0v56.5M1739.3 1713.0v56.5M1754.8 1713.0v56.5M1756.0 1713.0v56.5M1757.1 1713.0v56.5M1774.9 1713.0v56.5M1790.5 1713.0v56.5M1791.6 1713.0v56.5M1800.5 1713.0v56.5M1804.9 1713.0v56.5M1811.6 1713.0v56.5M1821.6 1713.0v56.5M1829.4 1713.0v56.5M1845.0 1713.0v56.5M1365.3 1769.5v56.5M1369.8 1769.5v56.5M1377.6 1769.5v56.5M1385.4 1769.5v56.5M1402.1 1769.5v56.5M1421.0 1769.5v56.5M1429.9 1769.5v56.5M1512.2 1769.5v56.5M1521.1 1769.5v56.5M1525.6 1769.5v56.5M1526.7 1769.5v56.5M1533.4 1769.5v56.5M1544.5 1769.5v56.5M1633.5 1769.5v56.5M1651.3 1769.5v56.5M1668.0 1769.5v56.5M1674.7 1769.5v56.5M1680.3 1769.5v56.5M1742.6 1769.5v56.5M1743.7 1769.5v56.5M1747.1 1769.5v56.5M1808.3 1769.5v56.5M1814.9 1769.5v56.5M1855.0 1769.5v56.5M1873.9 1769.5v56.5M1461.0 1826.0v56.5M1472.2 1826.0v56.5M1477.7 1826.0v56.5M1508.9 1826.0v56.5M1526.7 1826.0v56.5M1553.4 1826.0v56.5M1557.9 1826.0v56.5M1564.5 1826.0v56.5M1567.9 1826.0v56.5M1581.2 1826.0v56.5M1613.5 1826.0v56.5M1626.9 1826.0v56.5M1628.0 1826.0v56.5M1689.2 1826.0v56.5M1720.3 1826.0v56.5M1740.4 1826.0v56.5M1741.5 1826.0v56.5M1761.5 1826.0v56.5M1839.4 1826.0v56.5M1842.8 1826.0v56.5M1859.5 1826.0v56.5M1343.1 1882.5v56.5M1350.9 1882.5v56.5M1356.4 1882.5v56.5M1372.0 1882.5v56.5M1375.3 1882.5v56.5M1376.5 1882.5v56.5M1378.7 1882.5v56.5M1412.1 1882.5v56.5M1418.7 1882.5v56.5M1423.2 1882.5v56.5M1441.0 1882.5v56.5M1445.5 1882.5v56.5M1453.2 1882.5v56.5M1454.4 1882.5v56.5M1462.2 1882.5v56.5M1464.4 1882.5v56.5M1468.8 1882.5v56.5M1472.2 1882.5v56.5M1490.0 1882.5v56.5M1498.9 1882.5v56.5M1515.6 1882.5v56.5M1520.0 1882.5v56.5M1527.8 1882.5v56.5M1532.3 1882.5v56.5M1535.6 1882.5v56.5M1537.8 1882.5v56.5M1549.0 1882.5v56.5M1560.1 1882.5v56.5M1562.3 1882.5v56.5M1572.3 1882.5v56.5M1573.4 1882.5v56.5M1586.8 1882.5v56.5M1601.3 1882.5v56.5M1602.4 1882.5v56.5M1603.5 1882.5v56.5M1610.2 1882.5v56.5M1611.3 1882.5v56.5M1624.6 1882.5v56.5M1646.9 1882.5v56.5M1651.3 1882.5v56.5M1652.5 1882.5v56.5M1668.0 1882.5v56.5M1675.8 1882.5v56.5M1681.4 1882.5v56.5M1683.6 1882.5v56.5M1684.7 1882.5v56.5M1687.0 1882.5v56.5M1688.1 1882.5v56.5M1689.2 1882.5v56.5M1690.3 1882.5v56.5M1691.4 1882.5v56.5M1692.5 1882.5v56.5M1749.3 1882.5v56.5M1751.5 1882.5v56.5M1769.3 1882.5v56.5M1770.4 1882.5v56.5M1778.2 1882.5v56.5M1831.6 1882.5v56.5M1860.6 1882.5v56.5M1348.6 1939.0v56.5M1352.0 1939.0v56.5M1354.2 1939.0v56.5M1362.0 1939.0v56.5M1367.6 1939.0v56.5M1374.2 1939.0v56.5M1380.9 1939.0v56.5M1386.5 1939.0v56.5M1390.9 1939.0v56.5M1393.2 1939.0v56.5M1396.5 1939.0v56.5M1399.8 1939.0v56.5M1411.0 1939.0v56.5M1412.1 1939.0v56.5M1415.4 1939.0v56.5M1418.7 1939.0v56.5M1419.9 1939.0v56.5M1425.4 1939.0v56.5M1426.5 1939.0v56.5M1427.7 1939.0v56.5M1439.9 1939.0v56.5M1441.0 1939.0v56.5M1442.1 1939.0v56.5M1453.2 1939.0v56.5M1454.4 1939.0v56.5M1458.8 1939.0v56.5M1459.9 1939.0v56.5M1461.0 1939.0v56.5M1467.7 1939.0v56.5M1469.9 1939.0v56.5M1471.1 1939.0v56.5M1472.2 1939.0v56.5M1474.4 1939.0v56.5M1483.3 1939.0v56.5M1485.5 1939.0v56.5M1492.2 1939.0v56.5M1497.8 1939.0v56.5M1498.9 1939.0v56.5M1500.0 1939.0v56.5M1501.1 1939.0v56.5M1511.1 1939.0v56.5M1517.8 1939.0v56.5M1521.1 1939.0v56.5M1524.5 1939.0v56.5M1534.5 1939.0v56.5M1557.9 1939.0v56.5M1561.2 1939.0v56.5M1562.3 1939.0v56.5M1570.1 1939.0v56.5M1574.6 1939.0v56.5M1583.5 1939.0v56.5M1589.0 1939.0v56.5M1590.1 1939.0v56.5M1591.2 1939.0v56.5M1593.5 1939.0v56.5M1594.6 1939.0v56.5M1604.6 1939.0v56.5M1609.1 1939.0v56.5M1613.5 1939.0v56.5M1616.8 1939.0v56.5M1621.3 1939.0v56.5M1622.4 1939.0v56.5M1623.5 1939.0v56.5M1625.8 1939.0v56.5M1632.4 1939.0v56.5M1634.7 1939.0v56.5M1635.8 1939.0v56.5M1639.1 1939.0v56.5M1648.0 1939.0v56.5M1649.1 1939.0v56.5M1656.9 1939.0v56.5M1658.0 1939.0v56.5M1659.1 1939.0v56.5M1661.4 1939.0v56.5M1668.0 1939.0v56.5M1669.2 1939.0v56.5M1673.6 1939.0v56.5M1678.1 1939.0v56.5M1681.4 1939.0v56.5M1684.7 1939.0v56.5M1685.8 1939.0v56.5M1699.2 1939.0v56.5M1701.4 1939.0v56.5M1702.5 1939.0v56.5M1703.7 1939.0v56.5M1705.9 1939.0v56.5M1739.3 1939.0v56.5M1741.5 1939.0v56.5M1761.5 1939.0v56.5M1762.6 1939.0v56.5M1767.1 1939.0v56.5M1771.5 1939.0v56.5M1780.4 1939.0v56.5M1781.6 1939.0v56.5M1783.8 1939.0v56.5M1786.0 1939.0v56.5M1796.0 1939.0v56.5M1797.1 1939.0v56.5M1799.4 1939.0v56.5M1803.8 1939.0v56.5M1807.2 1939.0v56.5M1828.3 1939.0v56.5M1841.7 1939.0v56.5M1849.4 1939.0v56.5M1342.0 1995.5v56.5M1343.1 1995.5v56.5M1344.2 1995.5v56.5M1346.4 1995.5v56.5M1347.5 1995.5v56.5M1348.6 1995.5v56.5M1349.7 1995.5v56.5M1350.9 1995.5v56.5M1352.0 1995.5v56.5M1353.1 1995.5v56.5M1354.2 1995.5v56.5M1355.3 1995.5v56.5M1356.4 1995.5v56.5M1357.5 1995.5v56.5M1359.8 1995.5v56.5M1360.9 1995.5v56.5M1362.0 1995.5v56.5M1363.1 1995.5v56.5M1364.2 1995.5v56.5M1365.3 1995.5v56.5M1366.4 1995.5v56.5M1367.6 1995.5v56.5M1368.7 1995.5v56.5M1369.8 1995.5v56.5M1372.0 1995.5v56.5M1373.1 1995.5v56.5M1374.2 1995.5v56.5M1377.6 1995.5v56.5M1378.7 1995.5v56.5M1379.8 1995.5v56.5M1382.0 1995.5v56.5M1383.1 1995.5v56.5M1384.2 1995.5v56.5M1385.4 1995.5v56.5M1386.5 1995.5v56.5M1387.6 1995.5v56.5M1388.7 1995.5v56.5M1389.8 1995.5v56.5M1390.9 1995.5v56.5M1392.0 1995.5v56.5M1393.2 1995.5v56.5M1394.3 1995.5v56.5M1396.5 1995.5v56.5M1397.6 1995.5v56.5M1398.7 1995.5v56.5M1399.8 1995.5v56.5M1400.9 1995.5v56.5M1402.1 1995.5v56.5M1403.2 1995.5v56.5M1404.3 1995.5v56.5M1405.4 1995.5v56.5M1406.5 1995.5v56.5M1407.6 1995.5v56.5M1408.7 1995.5v56.5M1409.8 1995.5v56.5M1411.0 1995.5v56.5M1412.1 1995.5v56.5M1413.2 1995.5v56.5M1414.3 1995.5v56.5M1415.4 1995.5v56.5M1416.5 1995.5v56.5M1417.6 1995.5v56.5M1418.7 1995.5v56.5M1419.9 1995.5v56.5M1421.0 1995.5v56.5M1422.1 1995.5v56.5M1423.2 1995.5v56.5M1424.3 1995.5v56.5M1425.4 1995.5v56.5M1426.5 1995.5v56.5M1427.7 1995.5v56.5M1428.8 1995.5v56.5M1431.0 1995.5v56.5M1432.1 1995.5v56.5M1433.2 1995.5v56.5M1434.3 1995.5v56.5M1435.4 1995.5v56.5M1436.6 1995.5v56.5M1437.7 1995.5v56.5M1438.8 1995.5v56.5M1439.9 1995.5v56.5M1441.0 1995.5v56.5M1442.1 1995.5v56.5M1443.2 1995.5v56.5M1444.3 1995.5v56.5M1445.5 1995.5v56.5M1446.6 1995.5v56.5M1447.7 1995.5v56.5M1448.8 1995.5v56.5M1451.0 1995.5v56.5M1452.1 1995.5v56.5M1453.2 1995.5v56.5M1454.4 1995.5v56.5M1455.5 1995.5v56.5M1456.6 1995.5v56.5M1457.7 1995.5v56.5M1458.8 1995.5v56.5M1459.9 1995.5v56.5M1461.0 1995.5v56.5M1463.3 1995.5v56.5M1464.4 1995.5v56.5M1465.5 1995.5v56.5M1466.6 1995.5v56.5M1467.7 1995.5v56.5M1468.8 1995.5v56.5M1469.9 1995.5v56.5M1472.2 1995.5v56.5M1473.3 1995.5v56.5M1474.4 1995.5v56.5M1475.5 1995.5v56.5M1476.6 1995.5v56.5M1477.7 1995.5v56.5M1478.8 1995.5v56.5M1480.0 1995.5v56.5M1481.1 1995.5v56.5M1482.2 1995.5v56.5M1484.4 1995.5v56.5M1485.5 1995.5v56.5M1486.6 1995.5v56.5M1487.7 1995.5v56.5M1488.9 1995.5v56.5M1490.0 1995.5v56.5M1491.1 1995.5v56.5M1493.3 1995.5v56.5M1494.4 1995.5v56.5M1495.5 1995.5v56.5M1496.7 1995.5v56.5M1497.8 1995.5v56.5M1500.0 1995.5v56.5M1501.1 1995.5v56.5M1502.2 1995.5v56.5M1503.3 1995.5v56.5M1504.4 1995.5v56.5M1505.6 1995.5v56.5M1506.7 1995.5v56.5M1507.8 1995.5v56.5M1508.9 1995.5v56.5M1510.0 1995.5v56.5M1511.1 1995.5v56.5M1513.3 1995.5v56.5M1514.5 1995.5v56.5M1515.6 1995.5v56.5M1516.7 1995.5v56.5M1517.8 1995.5v56.5M1518.9 1995.5v56.5M1520.0 1995.5v56.5M1521.1 1995.5v56.5M1522.2 1995.5v56.5M1523.4 1995.5v56.5M1524.5 1995.5v56.5M1525.6 1995.5v56.5M1526.7 1995.5v56.5M1527.8 1995.5v56.5M1528.9 1995.5v56.5M1530.0 1995.5v56.5M1531.2 1995.5v56.5M1532.3 1995.5v56.5M1533.4 1995.5v56.5M1534.5 1995.5v56.5M1535.6 1995.5v56.5M1536.7 1995.5v56.5M1537.8 1995.5v56.5M1538.9 1995.5v56.5M1540.1 1995.5v56.5M1541.2 1995.5v56.5M1542.3 1995.5v56.5M1544.5 1995.5v56.5M1545.6 1995.5v56.5M1546.7 1995.5v56.5M1547.8 1995.5v56.5M1549.0 1995.5v56.5M1550.1 1995.5v56.5M1551.2 1995.5v56.5M1552.3 1995.5v56.5M1553.4 1995.5v56.5M1554.5 1995.5v56.5M1555.6 1995.5v56.5M1556.7 1995.5v56.5M1557.9 1995.5v56.5M1559.0 1995.5v56.5M1560.1 1995.5v56.5M1561.2 1995.5v56.5M1562.3 1995.5v56.5M1564.5 1995.5v56.5M1566.8 1995.5v56.5M1567.9 1995.5v56.5M1569.0 1995.5v56.5M1570.1 1995.5v56.5M1571.2 1995.5v56.5M1574.6 1995.5v56.5M1575.7 1995.5v56.5M1576.8 1995.5v56.5M1577.9 1995.5v56.5M1580.1 1995.5v56.5M1581.2 1995.5v56.5M1582.3 1995.5v56.5M1584.6 1995.5v56.5M1585.7 1995.5v56.5M1586.8 1995.5v56.5M1587.9 1995.5v56.5M1589.0 1995.5v56.5M1590.1 1995.5v56.5M1591.2 1995.5v56.5M1592.4 1995.5v56.5M1593.5 1995.5v56.5M1594.6 1995.5v56.5M1595.7 1995.5v56.5M1596.8 1995.5v56.5M1597.9 1995.5v56.5M1599.0 1995.5v56.5M1600.2 1995.5v56.5M1601.3 1995.5v56.5M1602.4 1995.5v56.5M1603.5 1995.5v56.5M1604.6 1995.5v56.5M1605.7 1995.5v56.5M1606.8 1995.5v56.5M1607.9 1995.5v56.5M1609.1 1995.5v56.5M1611.3 1995.5v56.5M1612.4 1995.5v56.5M1613.5 1995.5v56.5M1614.6 1995.5v56.5M1615.7 1995.5v56.5M1616.8 1995.5v56.5M1618.0 1995.5v56.5M1619.1 1995.5v56.5M1620.2 1995.5v56.5M1622.4 1995.5v56.5M1624.6 1995.5v56.5M1628.0 1995.5v56.5M1629.1 1995.5v56.5M1630.2 1995.5v56.5M1631.3 1995.5v56.5M1632.4 1995.5v56.5M1633.5 1995.5v56.5M1634.7 1995.5v56.5M1636.9 1995.5v56.5M1638.0 1995.5v56.5M1639.1 1995.5v56.5M1640.2 1995.5v56.5M1641.3 1995.5v56.5M1642.4 1995.5v56.5M1643.6 1995.5v56.5M1644.7 1995.5v56.5M1645.8 1995.5v56.5M1646.9 1995.5v56.5M1648.0 1995.5v56.5M1649.1 1995.5v56.5M1650.2 1995.5v56.5M1651.3 1995.5v56.5M1652.5 1995.5v56.5M1653.6 1995.5v56.5M1655.8 1995.5v56.5M1656.9 1995.5v56.5M1658.0 1995.5v56.5M1659.1 1995.5v56.5M1660.3 1995.5v56.5M1661.4 1995.5v56.5M1662.5 1995.5v56.5M1663.6 1995.5v56.5M1664.7 1995.5v56.5M1665.8 1995.5v56.5M1666.9 1995.5v56.5M1668.0 1995.5v56.5M1669.2 1995.5v56.5M1670.3 1995.5v56.5M1671.4 1995.5v56.5M1672.5 1995.5v56.5M1673.6 1995.5v56.5M1674.7 1995.5v56.5M1675.8 1995.5v56.5M1676.9 1995.5v56.5M1678.1 1995.5v56.5M1680.3 1995.5v56.5M1681.4 1995.5v56.5M1682.5 1995.5v56.5M1683.6 1995.5v56.5M1684.7 1995.5v56.5M1685.8 1995.5v56.5M1687.0 1995.5v56.5M1688.1 1995.5v56.5M1689.2 1995.5v56.5M1690.3 1995.5v56.5M1691.4 1995.5v56.5M1692.5 1995.5v56.5M1694.8 1995.5v56.5M1695.9 1995.5v56.5M1697.0 1995.5v56.5M1698.1 1995.5v56.5M1700.3 1995.5v56.5M1701.4 1995.5v56.5M1702.5 1995.5v56.5M1703.7 1995.5v56.5M1705.9 1995.5v56.5M1707.0 1995.5v56.5M1708.1 1995.5v56.5M1709.2 1995.5v56.5M1710.3 1995.5v56.5M1711.4 1995.5v56.5M1712.6 1995.5v56.5M1713.7 1995.5v56.5M1714.8 1995.5v56.5M1715.9 1995.5v56.5M1718.1 1995.5v56.5M1719.2 1995.5v56.5M1720.3 1995.5v56.5M1721.5 1995.5v56.5M1722.6 1995.5v56.5M1723.7 1995.5v56.5M1724.8 1995.5v56.5M1725.9 1995.5v56.5M1727.0 1995.5v56.5M1728.1 1995.5v56.5M1730.4 1995.5v56.5M1733.7 1995.5v56.5M1734.8 1995.5v56.5M1735.9 1995.5v56.5M1738.2 1995.5v56.5M1739.3 1995.5v56.5M1740.4 1995.5v56.5M1741.5 1995.5v56.5M1742.6 1995.5v56.5M1743.7 1995.5v56.5M1744.8 1995.5v56.5M1745.9 1995.5v56.5M1747.1 1995.5v56.5M1748.2 1995.5v56.5M1749.3 1995.5v56.5M1750.4 1995.5v56.5M1751.5 1995.5v56.5M1752.6 1995.5v56.5M1753.7 1995.5v56.5M1757.1 1995.5v56.5M1758.2 1995.5v56.5M1759.3 1995.5v56.5M1760.4 1995.5v56.5M1761.5 1995.5v56.5M1763.8 1995.5v56.5M1766.0 1995.5v56.5M1767.1 1995.5v56.5M1768.2 1995.5v56.5M1769.3 1995.5v56.5M1770.4 1995.5v56.5M1772.7 1995.5v56.5M1773.8 1995.5v56.5M1774.9 1995.5v56.5M1781.6 1995.5v56.5M1782.7 1995.5v56.5M1783.8 1995.5v56.5M1784.9 1995.5v56.5M1786.0 1995.5v56.5M1787.1 1995.5v56.5M1789.3 1995.5v56.5M1791.6 1995.5v56.5M1794.9 1995.5v56.5M1796.0 1995.5v56.5M1798.3 1995.5v56.5M1799.4 1995.5v56.5M1800.5 1995.5v56.5M1801.6 1995.5v56.5M1804.9 1995.5v56.5M1806.0 1995.5v56.5M1807.2 1995.5v56.5M1809.4 1995.5v56.5M1812.7 1995.5v56.5M1814.9 1995.5v56.5M1818.3 1995.5v56.5M1819.4 1995.5v56.5M1821.6 1995.5v56.5M1827.2 1995.5v56.5M1828.3 1995.5v56.5" stroke="#c0c4e7"/>
<path d="M1385.4 1656.5v56.5M1386.5 1656.5v56.5M1392.0 1656.5v56.5M1402.1 1656.5v56.5M1425.4 1656.5v56.5M1459.9 1656.5v56.5M1502.2 1656.5v56.5M1515.6 1656.5v56.5M1527.8 1656.5v56.5M1537.8 1656.5v56.5M1552.3 1656.5v56.5M1555.6 1656.5v56.5M1560.1 1656.5v56.5M1564.5 1656.5v56.5M1569.0 1656.5v56.5M1586.8 1656.5v56.5M1612.4 1656.5v56.5M1613.5 1656.5v56.5M1630.2 1656.5v56.5M1633.5 1656.5v56.5M1643.6 1656.5v56.5M1646.9 1656.5v56.5M1658.0 1656.5v56.5M1703.7 1656.5v56.5M1710.3 1656.5v56.5M1711.4 1656.5v56.5M1723.7 1656.5v56.5M1794.9 1656.5v56.5M1830.5 1656.5v56.5M1356.4 1713.0v56.5M1362.0 1713.0v56.5M1369.8 1713.0v56.5M1378.7 1713.0v56.5M1382.0 1713.0v56.5M1397.6 1713.0v56.5M1400.9 1713.0v56.5M1408.7 1713.0v56.5M1411.0 1713.0v56.5M1419.9 1713.0v56.5M1428.8 1713.0v56.5M1429.9 1713.0v56.5M1433.2 1713.0v56.5M1437.7 1713.0v56.5M1446.6 1713.0v56.5M1462.2 1713.0v56.5M1463.3 1713.0v56.5M1488.9 1713.0v56.5M1493.3 1713.0v56.5M1495.5 1713.0v56.5M1498.9 1713.0v56.5M1528.9 1713.0v56.5M1530.0 1713.0v56.5M1532.3 1713.0v56.5M1549.0 1713.0v56.5M1565.7 1713.0v56.5M1571.2 1713.0v56.5M1575.7 1713.0v56.5M1582.3 1713.0v56.5M1591.2 1713.0v56.5M1594.6 1713.0v56.5M1595.7 1713.0v56.5M1603.5 1713.0v56.5M1646.9 1713.0v56.5M1656.9 1713.0v56.5M1661.4 1713.0v56.5M1663.6 1713.0v56.5M1691.4 1713.0v56.5M1710.3 1713.0v56.5M1713.7 1713.0v56.5M1748.2 1713.0v56.5M1763.8 1713.0v56.5M1780.4 1713.0v56.5M1787.1 1713.0v56.5M1806.0 1713.0v56.5M1818.3 1713.0v56.5M1830.5 1713.0v56.5M1836.1 1713.0v56.5M1363.1 1769.5v56.5M1388.7 1769.5v56.5M1397.6 1769.5v56.5M1445.5 1769.5v56.5M1455.5 1769.5v56.5M1518.9 1769.5v56.5M1535.6 1769.5v56.5M1541.2 1769.5v56.5M1562.3 1769.5v56.5M1566.8 1769.5v56.5M1571.2 1769.5v56.5M1584.6 1769.5v56.5M1585.7 1769.5v56.5M1595.7 1769.5v56.5M1628.0 1769.5v56.5M1632.4 1769.5v56.5M1710.3 1769.5v56.5M1717.0 1769.5v56.5M1730.4 1769.5v56.5M1786.0 1769.5v56.5M1798.3 1769.5v56.5M1809.4 1769.5v56.5M1810.5 1769.5v56.5M1823.8 1769.5v56.5M1838.3 1769.5v56.5M1860.6 1769.5v56.5M1447.7 1826.0v56.5M1471.1 1826.0v56.5M1488.9 1826.0v56.5M1492.2 1826.0v56.5M1495.5 1826.0v56.5M1500.0 1826.0v56.5M1502.2 1826.0v56.5M1524.5 1826.0v56.5M1525.6 1826.0v56.5M1527.8 1826.0v56.5M1540.1 1826.0v56.5M1546.7 1826.0v56.5M1555.6 1826.0v56.5M1556.7 1826.0v56.5M1585.7 1826.0v56.5M1601.3 1826.0v56.5M1623.5 1826.0v56.5M1629.1 1826.0v56.5M1642.4 1826.0v56.5M1645.8 1826.0v56.5M1683.6 1826.0v56.5M1721.5 1826.0v56.5M1727.0 1826.0v56.5M1757.1 1826.0v56.5M1769.3 1826.0v56.5M1828.3 1826.0v56.5M1359.8 1882.5v56.5M1388.7 1882.5v56.5M1393.2 1882.5v56.5M1409.8 1882.5v56.5M1411.0 1882.5v56.5M1415.4 1882.5v56.5M1447.7 1882.5v56.5M1461.0 1882.5v56.5M1463.3 1882.5v56.5M1466.6 1882.5v56.5M1467.7 1882.5v56.5M1474.4 1882.5v56.5M1480.0 1882.5v56.5M1486.6 1882.5v56.5M1487.7 1882.5v56.5M1492.2 1882.5v56.5M1496.7 1882.5v56.5M1517.8 1882.5v56.5M1518.9 1882.5v56.5M1521.1 1882.5v56.5M1522.2 1882.5v56.5M1547.8 1882.5v56.5M1595.7 1882.5v56.5M1596.8 1882.5v56.5M1599.0 1882.5v56.5M1604.6 1882.5v56.5M1609.1 1882.5v56.5M1612.4 1882.5v56.5M1625.8 1882.5v56.5M1626.9 1882.5v56.5M1650.2 1882.5v56.5M1658.0 1882.5v56.5M1673.6 1882.5v56.5M1737.0 1882.5v56.5M1756.0 1882.5v56.5M1772.7 1882.5v56.5M1790.5 1882.5v56.5M1837.2 1882.5v56.5M1862.8 1882.5v56.5M1866.1 1882.5v56.5M1344.2 1939.0v56.5M1347.5 1939.0v56.5M1355.3 1939.0v56.5M1356.4 1939.0v56.5M1358.7 1939.0v56.5M1368.7 1939.0v56.5M1375.3 1939.0v56.5M1382.0 1939.0v56.5M1392.0 1939.0v56.5M1413.2 1939.0v56.5M1416.5 1939.0v56.5M1417.6 1939.0v56.5M1423.2 1939.0v56.5M1432.1 1939.0v56.5M1433.2 1939.0v56.5M1434.3 1939.0v56.5M1437.7 1939.0v56.5M1445.5 1939.0v56.5M1473.3 1939.0v56.5M1484.4 1939.0v56.5M1487.7 1939.0v56.5M1502.2 1939.0v56.5M1503.3 1939.0v56.5M1504.4 1939.0v56.5M1525.6 1939.0v56.5M1527.8 1939.0v56.5M1530.0 1939.0v56.5M1531.2 1939.0v56.5M1536.7 1939.0v56.5M1549.0 1939.0v56.5M1556.7 1939.0v56.5M1559.0 1939.0v56.5M1560.1 1939.0v56.5M1563.4 1939.0v56.5M1569.0 1939.0v56.5M1571.2 1939.0v56.5M1577.9 1939.0v56.5M1581.2 1939.0v56.5M1595.7 1939.0v56.5M1596.8 1939.0v56.5M1597.9 1939.0v56.5M1599.0 1939.0v56.5M1601.3 1939.0v56.5M1602.4 1939.0v56.5M1603.5 1939.0v56.5M1606.8 1939.0v56.5M1626.9 1939.0v56.5M1628.0 1939.0v56.5M1641.3 1939.0v56.5M1653.6 1939.0v56.5M1663.6 1939.0v56.5M1682.5 1939.0v56.5M1704.8 1939.0v56.5M1709.2 1939.0v56.5M1718.1 1939.0v56.5M1720.3 1939.0v56.5M1721.5 1939.0v56.5M1729.3 1939.0v56.5M1731.5 1939.0v56.5M1740.4 1939.0v56.5M1747.1 1939.0v56.5M1753.7 1939.0v56.5M1777.1 1939.0v56.5M1788.2 1939.0v56.5M1791.6 1939.0v56.5M1793.8 1939.0v56.5M1794.9 1939.0v56.5M1802.7 1939.0v56.5M1811.6 1939.0v56.5M1813.8 1939.0v56.5M1816.1 1939.0v56.5M1827.2 1939.0v56.5M1835.0 1939.0v56.5M1862.8 1939.0v56.5" stroke="#d4d5ed"/>
<path d="M1344.2 1656.5v56.5M1378.7 1656.5v56.5M1412.1 1656.5v56.5M1426.5 1656.5v56.5M1442.1 1656.5v56.5M1446.6 1656.5v56.5M1492.2 1656.5v56.5M1503.3 1656.5v56.5M1511.1 1656.5v56.5M1576.8 1656.5v56.5M1577.9 1656.5v56.5M1616.8 1656.5v56.5M1655.8 1656.5v56.5M1672.5 1656.5v56.5M1682.5 1656.5v56.5M1708.1 1656.5v56.5M1722.6 1656.5v56.5M1729.3 1656.5v56.5M1732.6 1656.5v56.5M1752.6 1656.5v56.5M1769.3 1656.5v56.5M1821.6 1656.5v56.5M1826.1 1656.5v56.5M1357.5 1713.0v56.5M1363.1 1713.0v56.5M1368.7 1713.0v56.5M1393.2 1713.0v56.5M1402.1 1713.0v56.5M1407.6 1713.0v56.5M1458.8 1713.0v56.5M1459.9 1713.0v56.5M1487.7 1713.0v56.5M1518.9 1713.0v56.5M1525.6 1713.0v56.5M1531.2 1713.0v56.5M1535.6 1713.0v56.5M1553.4 1713.0v56.5M1556.7 1713.0v56.5M1560.1 1713.0v56.5M1562.3 1713.0v56.5M1597.9 1713.0v56.5M1599.0 1713.0v56.5M1633.5 1713.0v56.5M1650.2 1713.0v56.5M1653.6 1713.0v56.5M1662.5 1713.0v56.5M1669.2 1713.0v56.5M1684.7 1713.0v56.5M1703.7 1713.0v56.5M1708.1 1713.0v56.5M1725.9 1713.0v56.5M1729.3 1713.0v56.5M1764.9 1713.0v56.5M1777.1 1713.0v56.5M1357.5 1769.5v56.5M1359.8 1769.5v56.5M1372.0 1769.5v56.5M1376.5 1769.5v56.5M1398.7 1769.5v56.5M1414.3 1769.5v56.5M1419.9 1769.5v56.5M1422.1 1769.5v56.5M1423.2 1769.5v56.5M1433.2 1769.5v56.5M1435.4 1769.5v56.5M1436.6 1769.5v56.5M1451.0 1769.5v56.5M1510.0 1769.5v56.5M1516.7 1769.5v56.5M1520.0 1769.5v56.5M1524.5 1769.5v56.5M1576.8 1769.5v56.5M1592.4 1769.5v56.5M1600.2 1769.5v56.5M1622.4 1769.5v56.5M1655.8 1769.5v56.5M1663.6 1769.5v56.5M1676.9 1769.5v56.5M1714.8 1769.5v56.5M1737.0 1769.5v56.5M1768.2 1769.5v56.5M1804.9 1769.5v56.5M1813.8 1769.5v56.5M1839.4 1769.5v56.5M1418.7 1826.0v56.5M1444.3 1826.0v56.5M1459.9 1826.0v56.5M1462.2 1826.0v56.5M1467.7 1826.0v56.5M1493.3 1826.0v56.5M1494.4 1826.0v56.5M1497.8 1826.0v56.5M1503.3 1826.0v56.5M1520.0 1826.0v56.5M1532.3 1826.0v56.5M1534.5 1826.0v56.5M1562.3 1826.0v56.5M1565.7 1826.0v56.5M1576.8 1826.0v56.5M1597.9 1826.0v56.5M1599.0 1826.0v56.5M1600.2 1826.0v56.5M1355.3 1882.5v56.5M1357.5 1882.5v56.5M1384.2 1882.5v56.5M1389.8 1882.5v56.5M1427.7 1882.5v56.5M1428.8 1882.5v56.5M1429.9 1882.5v56.5M1438.8 1882.5v56.5M1439.9 1882.5v56.5M1475.5 1882.5v56.5M1476.6 1882.5v56.5M1504.4 1882.5v56.5M1505.6 1882.5v56.5M1555.6 1882.5v56.5M1561.2 1882.5v56.5M1580.1 1882.5v56.5M1583.5 1882.5v56.5M1589.0 1882.5v56.5M1593.5 1882.5v56.5M1605.7 1882.5v56.5M1620.2 1882.5v56.5M1707.0 1882.5v56.5M1717.0 1882.5v56.5M1725.9 1882.5v56.5M1734.8 1882.5v56.5M1743.7 1882.5v56.5M1748.2 1882.5v56.5M1761.5 1882.5v56.5M1783.8 1882.5v56.5M1841.7 1882.5v56.5M1846.1 1882.5v56.5M1357.5 1939.0v56.5M1359.8 1939.0v56.5M1384.2 1939.0v56.5M1408.7 1939.0v56.5M1409.8 1939.0v56.5M1422.1 1939.0v56.5M1444.3 1939.0v56.5M1452.1 1939.0v56.5M1466.6 1939.0v56.5M1488.9 1939.0v56.5M1510.0 1939.0v56.5M1515.6 1939.0v56.5M1516.7 1939.0v56.5M1522.2 1939.0v56.5M1526.7 1939.0v56.5M1553.4 1939.0v56.5M1554.5 1939.0v56.5M1564.5 1939.0v56.5M1565.7 1939.0v56.5M1579.0 1939.0v56.5M1587.9 1939.0v56.5M1605.7 1939.0v56.5M1612.4 1939.0v56.5M1614.6 1939.0v56.5M1652.5 1939.0v56.5M1662.5 1939.0v56.5M1688.1 1939.0v56.5M1695.9 1939.0v56.5M1697.0 1939.0v56.5M1698.1 1939.0v56.5M1719.2 1939.0v56.5M1725.9 1939.0v56.5M1735.9 1939.0v56.5M1738.2 1939.0v56.5M1757.1 1939.0v56.5M1766.0 1939.0v56.5M1782.7 1939.0v56.5M1789.3 1939.0v56.5M1790.5 1939.0v56.5M1808.3 1939.0v56.5M1809.4 1939.0v56.5M1810.5 1939.0v56.5M1370.9 1995.5v56.5M1376.5 1995.5v56.5M1395.4 1995.5v56.5M1483.3 1995.5v56.5M1492.2 1995.5v56.5M1498.9 1995.5v56.5M1572.3 1995.5v56.5M1573.4 1995.5v56.5M1579.0 1995.5v56.5M1583.5 1995.5v56.5M1610.2 1995.5v56.5M1623.5 1995.5v56.5M1625.8 1995.5v56.5M1626.9 1995.5v56.5M1635.8 1995.5v56.5M1693.6 1995.5v56.5M1717.0 1995.5v56.5" stroke="#e9e8f3"/>
<path d="M1342.0 1656.5v56.5M1374.2 1656.5v56.5M1396.5 1656.5v56.5M1400.9 1656.5v56.5M1406.5 1656.5v56.5M1455.5 1656.5v56.5M1592.4 1656.5v56.5M1593.5 1656.5v56.5M1597.9 1656.5v56.5M1659.1 1656.5v56.5M1680.3 1656.5v56.5M1688.1 1656.5v56.5M1689.2 1656.5v56.5M1690.3 1656.5v56.5M1694.8 1656.5v56.5M1756.0 1656.5v56.5M1434.3 1713.0v56.5M1445.5 1713.0v56.5M1455.5 1713.0v56.5M1492.2 1713.0v56.5M1524.5 1713.0v56.5M1533.4 1713.0v56.5M1534.5 1713.0v56.5M1552.3 1713.0v56.5M1564.5 1713.0v56.5M1593.5 1713.0v56.5M1664.7 1713.0v56.5M1683.6 1713.0v56.5M1694.8 1713.0v56.5M1707.0 1713.0v56.5M1714.8 1713.0v56.5M1722.6 1713.0v56.5M1744.8 1713.0v56.5M1753.7 1713.0v56.5M1788.2 1713.0v56.5M1343.1 1769.5v56.5M1353.1 1769.5v56.5M1356.4 1769.5v56.5M1395.4 1769.5v56.5M1408.7 1769.5v56.5M1504.4 1769.5v56.5M1517.8 1769.5v56.5M1557.9 1769.5v56.5M1580.1 1769.5v56.5M1586.8 1769.5v56.5M1599.0 1769.5v56.5M1601.3 1769.5v56.5M1602.4 1769.5v56.5M1631.3 1769.5v56.5M1732.6 1769.5v56.5M1818.3 1769.5v56.5M1835.0 1769.5v56.5M1867.3 1769.5v56.5M1366.4 1826.0v56.5M1395.4 1826.0v56.5M1424.3 1826.0v56.5M1452.1 1826.0v56.5M1468.8 1826.0v56.5M1478.8 1826.0v56.5M1518.9 1826.0v56.5M1521.1 1826.0v56.5M1531.2 1826.0v56.5M1533.4 1826.0v56.5M1545.6 1826.0v56.5M1547.8 1826.0v56.5M1559.0 1826.0v56.5M1560.1 1826.0v56.5M1572.3 1826.0v56.5M1573.4 1826.0v56.5M1574.6 1826.0v56.5M1575.7 1826.0v56.5M1589.0 1826.0v56.5M1603.5 1826.0v56.5M1622.4 1826.0v56.5M1654.7 1826.0v56.5M1731.5 1826.0v56.5M1837.2 1826.0v56.5M1344.2 1882.5v56.5M1353.1 1882.5v56.5M1360.9 1882.5v56.5M1394.3 1882.5v56.5M1395.4 1882.5v56.5M1402.1 1882.5v56.5M1422.1 1882.5v56.5M1465.5 1882.5v56.5M1477.7 1882.5v56.5M1512.2 1882.5v56.5M1546.7 1882.5v56.5M1571.2 1882.5v56.5M1576.8 1882.5v56.5M1616.8 1882.5v56.5M1618.0 1882.5v56.5M1660.3 1882.5v56.5M1664.7 1882.5v56.5M1715.9 1882.5v56.5M1720.3 1882.5v56.5M1738.2 1882.5v56.5M1760.4 1882.5v56.5M1782.7 1882.5v56.5M1789.3 1882.5v56.5M1797.1 1882.5v56.5M1806.0 1882.5v56.5M1861.7 1882.5v56.5M1343.1 1939.0v56.5M1360.9 1939.0v56.5M1377.6 1939.0v56.5M1383.1 1939.0v56.5M1395.4 1939.0v56.5M1443.2 1939.0v56.5M1448.8 1939.0v56.5M1449.9 1939.0v56.5M1465.5 1939.0v56.5M1481.1 1939.0v56.5M1482.2 1939.0v56.5M1490.0 1939.0v56.5M1514.5 1939.0v56.5M1542.3 1939.0v56.5M1552.3 1939.0v56.5M1573.4 1939.0v56.5M1580.1 1939.0v56.5M1615.7 1939.0v56.5M1654.7 1939.0v56.5M1665.8 1939.0v56.5M1687.0 1939.0v56.5M1691.4 1939.0v56.5M1692.5 1939.0v56.5M1694.8 1939.0v56.5M1707.0 1939.0v56.5M1708.1 1939.0v56.5M1713.7 1939.0v56.5M1732.6 1939.0v56.5M1737.0 1939.0v56.5M1744.8 1939.0v56.5M1745.9 1939.0v56.5M1749.3 1939.0v56.5M1751.5 1939.0v56.5M1758.2 1939.0v56.5M1768.2 1939.0v56.5M1769.3 1939.0v56.5M1792.7 1939.0v56.5M1801.6 1939.0v56.5M1817.2 1939.0v56.5M1823.8 1939.0v56.5M1831.6 1939.0v56.5M1836.1 1939.0v56.5M1846.1 1939.0v56.5M1737.0 1995.5v56.5" stroke="#f5edec"/>
<path d="M1343.1 1656.5v56.5M1373.1 1656.5v56.5M1393.2 1656.5v56.5M1421.0 1656.5v56.5M1465.5 1656.5v56.5M1513.3 1656.5v56.5M1522.2 1656.5v56.5M1525.6 1656.5v56.5M1585.7 1656.5v56.5M1596.8 1656.5v56.5M1652.5 1656.5v56.5M1669.2 1656.5v56.5M1679.2 1656.5v56.5M1730.4 1656.5v56.5M1739.3 1656.5v56.5M1742.6 1656.5v56.5M1757.1 1656.5v56.5M1758.2 1656.5v56.5M1427.7 1713.0v56.5M1444.3 1713.0v56.5M1482.2 1713.0v56.5M1555.6 1713.0v56.5M1557.9 1713.0v56.5M1559.0 1713.0v56.5M1561.2 1713.0v56.5M1570.1 1713.0v56.5M1611.3 1713.0v56.5M1620.2 1713.0v56.5M1638.0 1713.0v56.5M1644.7 1713.0v56.5M1704.8 1713.0v56.5M1743.7 1713.0v56.5M1745.9 1713.0v56.5M1778.2 1713.0v56.5M1792.7 1713.0v56.5M1825.0 1713.0v56.5M1828.3 1713.0v56.5M1831.6 1713.0v56.5M1846.1 1713.0v56.5M1354.2 1769.5v56.5M1399.8 1769.5v56.5M1418.7 1769.5v56.5M1452.1 1769.5v56.5M1486.6 1769.5v56.5M1511.1 1769.5v56.5M1540.1 1769.5v56.5M1559.0 1769.5v56.5M1596.8 1769.5v56.5M1597.9 1769.5v56.5M1636.9 1769.5v56.5M1652.5 1769.5v56.5M1654.7 1769.5v56.5M1705.9 1769.5v56.5M1711.4 1769.5v56.5M1774.9 1769.5v56.5M1776.0 1769.5v56.5M1778.2 1769.5v56.5M1797.1 1769.5v56.5M1819.4 1769.5v56.5M1869.5 1769.5v56.5M1870.6 1769.5v56.5M1379.8 1826.0v56.5M1394.3 1826.0v56.5M1407.6 1826.0v56.5M1408.7 1826.0v56.5M1414.3 1826.0v56.5M1415.4 1826.0v56.5M1416.5 1826.0v56.5M1421.0 1826.0v56.5M1431.0 1826.0v56.5M1432.1 1826.0v56.5M1436.6 1826.0v56.5M1438.8 1826.0v56.5M1446.6 1826.0v56.5M1457.7 1826.0v56.5M1464.4 1826.0v56.5M1469.9 1826.0v56.5M1481.1 1826.0v56.5M1485.5 1826.0v56.5M1486.6 1826.0v56.5M1487.7 1826.0v56.5M1496.7 1826.0v56.5M1504.4 1826.0v56.5M1505.6 1826.0v56.5M1506.7 1826.0v56.5M1507.8 1826.0v56.5M1512.2 1826.0v56.5M1514.5 1826.0v56.5M1515.6 1826.0v56.5M1528.9 1826.0v56.5M1544.5 1826.0v56.5M1554.5 1826.0v56.5M1583.5 1826.0v56.5M1584.6 1826.0v56.5M1596.8 1826.0v56.5M1606.8 1826.0v56.5M1632.4 1826.0v56.5M1688.1 1826.0v56.5M1723.7 1826.0v56.5M1348.6 1882.5v56.5M1387.6 1882.5v56.5M1421.0 1882.5v56.5M1456.6 1882.5v56.5M1488.9 1882.5v56.5M1503.3 1882.5v56.5M1511.1 1882.5v56.5M1569.0 1882.5v56.5M1579.0 1882.5v56.5M1621.3 1882.5v56.5M1672.5 1882.5v56.5M1674.7 1882.5v56.5M1679.2 1882.5v56.5M1694.8 1882.5v56.5M1698.1 1882.5v56.5M1722.6 1882.5v56.5M1802.7 1882.5v56.5M1807.2 1882.5v56.5M1808.3 1882.5v56.5M1867.3 1882.5v56.5M1369.8 1939.0v56.5M1385.4 1939.0v56.5M1387.6 1939.0v56.5M1394.3 1939.0v56.5M1397.6 1939.0v56.5M1400.9 1939.0v56.5M1428.8 1939.0v56.5M1451.0 1939.0v56.5M1476.6 1939.0v56.5M1480.0 1939.0v56.5M1491.1 1939.0v56.5M1495.5 1939.0v56.5M1508.9 1939.0v56.5M1518.9 1939.0v56.5M1520.0 1939.0v56.5M1523.4 1939.0v56.5M1533.4 1939.0v56.5M1543.4 1939.0v56.5M1547.8 1939.0v56.5M1551.2 1939.0v56.5M1600.2 1939.0v56.5M1610.2 1939.0v56.5M1633.5 1939.0v56.5M1693.6 1939.0v56.5M1712.6 1939.0v56.5M1748.2 1939.0v56.5M1833.9 1939.0v56.5M1863.9 1939.0v56.5" stroke="#f9e3d4"/>
<path d="M1372.0 1656.5v56.5M1441.0 1656.5v56.5M1466.6 1656.5v56.5M1510.0 1656.5v56.5M1523.4 1656.5v56.5M1651.3 1656.5v56.5M1666.9 1656.5v56.5M1671.4 1656.5v56.5M1674.7 1656.5v56.5M1678.1 1656.5v56.5M1762.6 1656.5v56.5M1763.8 1656.5v56.5M1770.4 1656.5v56.5M1840.5 1656.5v56.5M1454.4 1713.0v56.5M1483.3 1713.0v56.5M1486.6 1713.0v56.5M1512.2 1713.0v56.5M1584.6 1713.0v56.5M1592.4 1713.0v56.5M1643.6 1713.0v56.5M1666.9 1713.0v56.5M1676.9 1713.0v56.5M1678.1 1713.0v56.5M1705.9 1713.0v56.5M1742.6 1713.0v56.5M1747.1 1713.0v56.5M1766.0 1713.0v56.5M1823.8 1713.0v56.5M1827.2 1713.0v56.5M1342.0 1769.5v56.5M1344.2 1769.5v56.5M1352.0 1769.5v56.5M1379.8 1769.5v56.5M1390.9 1769.5v56.5M1393.2 1769.5v56.5M1394.3 1769.5v56.5M1413.2 1769.5v56.5M1449.9 1769.5v56.5M1454.4 1769.5v56.5M1458.8 1769.5v56.5M1638.0 1769.5v56.5M1639.1 1769.5v56.5M1641.3 1769.5v56.5M1670.3 1769.5v56.5M1700.3 1769.5v56.5M1707.0 1769.5v56.5M1708.1 1769.5v56.5M1712.6 1769.5v56.5M1739.3 1769.5v56.5M1750.4 1769.5v56.5M1751.5 1769.5v56.5M1752.6 1769.5v56.5M1761.5 1769.5v56.5M1787.1 1769.5v56.5M1788.2 1769.5v56.5M1794.9 1769.5v56.5M1796.0 1769.5v56.5M1806.0 1769.5v56.5M1817.2 1769.5v56.5M1827.2 1769.5v56.5M1828.3 1769.5v56.5M1841.7 1769.5v56.5M1848.3 1769.5v56.5M1849.4 1769.5v56.5M1859.5 1769.5v56.5M1863.9 1769.5v56.5M1871.7 1769.5v56.5M1344.2 1826.0v56.5M1375.3 1826.0v56.5M1376.5 1826.0v56.5M1412.1 1826.0v56.5M1413.2 1826.0v56.5M1428.8 1826.0v56.5M1433.2 1826.0v56.5M1434.3 1826.0v56.5M1437.7 1826.0v56.5M1448.8 1826.0v56.5M1449.9 1826.0v56.5M1463.3 1826.0v56.5M1475.5 1826.0v56.5M1482.2 1826.0v56.5M1491.1 1826.0v56.5M1513.3 1826.0v56.5M1543.4 1826.0v56.5M1587.9 1826.0v56.5M1590.1 1826.0v56.5M1681.4 1826.0v56.5M1729.3 1826.0v56.5M1816.1 1826.0v56.5M1838.3 1826.0v56.5M1858.3 1826.0v56.5M1432.1 1882.5v56.5M1459.9 1882.5v56.5M1563.4 1882.5v56.5M1564.5 1882.5v56.5M1653.6 1882.5v56.5M1671.4 1882.5v56.5M1695.9 1882.5v56.5M1699.2 1882.5v56.5M1712.6 1882.5v56.5M1724.8 1882.5v56.5M1731.5 1882.5v56.5M1740.4 1882.5v56.5M1741.5 1882.5v56.5M1750.4 1882.5v56.5M1781.6 1882.5v56.5M1788.2 1882.5v56.5M1803.8 1882.5v56.5M1809.4 1882.5v56.5M1810.5 1882.5v56.5M1822.7 1882.5v56.5M1850.6 1882.5v56.5M1852.8 1882.5v56.5M1871.7 1882.5v56.5M1342.0 1939.0v56.5M1389.8 1939.0v56.5M1402.1 1939.0v56.5M1403.2 1939.0v56.5M1447.7 1939.0v56.5M1477.7 1939.0v56.5M1478.8 1939.0v56.5M1532.3 1939.0v56.5M1541.2 1939.0v56.5M1546.7 1939.0v56.5M1550.1 1939.0v56.5M1566.8 1939.0v56.5M1631.3 1939.0v56.5M1711.4 1939.0v56.5M1754.8 1939.0v56.5M1818.3 1939.0v56.5M1829.4 1939.0v56.5M1839.4 1939.0v56.5M1840.5 1939.0v56.5M1845.0 1939.0v56.5M1857.2 1939.0v56.5M1868.4 1939.0v56.5M1345.3 1995.5v56.5M1375.3 1995.5v56.5M1471.1 1995.5v56.5M1512.2 1995.5v56.5M1543.4 1995.5v56.5M1679.2 1995.5v56.5M1699.2 1995.5v56.5M1732.6 1995.5v56.5" stroke="#fad1b2"/>
<path d="M1439.9 1656.5v56.5M1458.8 1656.5v56.5M1508.9 1656.5v56.5M1524.5 1656.5v56.5M1557.9 1656.5v56.5M1579.0 1656.5v56.5M1584.6 1656.5v56.5M1665.8 1656.5v56.5M1668.0 1656.5v56.5M1701.4 1656.5v56.5M1713.7 1656.5v56.5M1737.0 1656.5v56.5M1741.5 1656.5v56.5M1745.9 1656.5v56.5M1767.1 1656.5v56.5M1783.8 1656.5v56.5M1801.6 1656.5v56.5M1804.9 1656.5v56.5M1811.6 1656.5v56.5M1366.4 1713.0v56.5M1566.8 1713.0v56.5M1636.9 1713.0v56.5M1679.2 1713.0v56.5M1701.4 1713.0v56.5M1718.1 1713.0v56.5M1731.5 1713.0v56.5M1758.2 1713.0v56.5M1772.7 1713.0v56.5M1782.7 1713.0v56.5M1801.6 1713.0v56.5M1803.8 1713.0v56.5M1808.3 1713.0v56.5M1809.4 1713.0v56.5M1810.5 1713.0v56.5M1832.8 1713.0v56.5M1847.2 1713.0v56.5M1861.7 1713.0v56.5M1370.9 1769.5v56.5M1426.5 1769.5v56.5M1428.8 1769.5v56.5M1465.5 1769.5v56.5M1531.2 1769.5v56.5M1538.9 1769.5v56.5M1591.2 1769.5v56.5M1630.2 1769.5v56.5M1643.6 1769.5v56.5M1653.6 1769.5v56.5M1665.8 1769.5v56.5M1675.8 1769.5v56.5M1688.1 1769.5v56.5M1691.4 1769.5v56.5M1692.5 1769.5v56.5M1698.1 1769.5v56.5M1701.4 1769.5v56.5M1704.8 1769.5v56.5M1721.5 1769.5v56.5M1725.9 1769.5v56.5M1729.3 1769.5v56.5M1740.4 1769.5v56.5M1749.3 1769.5v56.5M1753.7 1769.5v56.5M1773.8 1769.5v56.5M1777.1 1769.5v56.5M1780.4 1769.5v56.5M1799.4 1769.5v56.5M1807.2 1769.5v56.5M1816.1 1769.5v56.5M1821.6 1769.5v56.5M1825.0 1769.5v56.5M1826.1 1769.5v56.5M1829.4 1769.5v56.5M1832.8 1769.5v56.5M1836.1 1769.5v56.5M1837.2 1769.5v56.5M1842.8 1769.5v56.5M1856.1 1769.5v56.5M1862.8 1769.5v56.5M1865.0 1769.5v56.5M1349.7 1826.0v56.5M1350.9 1826.0v56.5M1356.4 1826.0v56.5M1377.6 1826.0v56.5M1390.9 1826.0v56.5M1392.0 1826.0v56.5M1393.2 1826.0v56.5M1403.2 1826.0v56.5M1409.8 1826.0v56.5M1411.0 1826.0v56.5M1417.6 1826.0v56.5M1422.1 1826.0v56.5M1425.4 1826.0v56.5M1451.0 1826.0v56.5M1473.3 1826.0v56.5M1474.4 1826.0v56.5M1483.3 1826.0v56.5M1490.0 1826.0v56.5M1571.2 1826.0v56.5M1605.7 1826.0v56.5M1788.2 1826.0v56.5M1811.6 1826.0v56.5M1346.4 1882.5v56.5M1403.2 1882.5v56.5M1431.0 1882.5v56.5M1458.8 1882.5v56.5M1469.9 1882.5v56.5M1508.9 1882.5v56.5M1528.9 1882.5v56.5M1577.9 1882.5v56.5M1585.7 1882.5v56.5M1648.0 1882.5v56.5M1654.7 1882.5v56.5M1665.8 1882.5v56.5M1678.1 1882.5v56.5M1682.5 1882.5v56.5M1693.6 1882.5v56.5M1739.3 1882.5v56.5M1742.6 1882.5v56.5M1762.6 1882.5v56.5M1763.8 1882.5v56.5M1766.0 1882.5v56.5M1767.1 1882.5v56.5M1773.8 1882.5v56.5M1776.0 1882.5v56.5M1777.1 1882.5v56.5M1780.4 1882.5v56.5M1784.9 1882.5v56.5M1791.6 1882.5v56.5M1792.7 1882.5v56.5M1793.8 1882.5v56.5M1801.6 1882.5v56.5M1804.9 1882.5v56.5M1811.6 1882.5v56.5M1812.7 1882.5v56.5M1818.3 1882.5v56.5M1823.8 1882.5v56.5M1826.1 1882.5v56.5M1828.3 1882.5v56.5M1830.5 1882.5v56.5M1832.8 1882.5v56.5M1836.1 1882.5v56.5M1843.9 1882.5v56.5M1845.0 1882.5v56.5M1847.2 1882.5v56.5M1849.4 1882.5v56.5M1855.0 1882.5v56.5M1856.1 1882.5v56.5M1646.9 1939.0v56.5M1822.7 1939.0v56.5M1832.8 1939.0v56.5M1843.9 1939.0v56.5M1852.8 1939.0v56.5M1855.0 1939.0v56.5M1861.7 1939.0v56.5M1865.0 1939.0v56.5M1875.0 1939.0v56.5M1358.7 1995.5v56.5M1380.9 1995.5v56.5M1429.9 1995.5v56.5M1449.9 1995.5v56.5M1462.2 1995.5v56.5M1563.4 1995.5v56.5M1565.7 1995.5v56.5M1621.3 1995.5v56.5M1654.7 1995.5v56.5M1704.8 1995.5v56.5M1729.3 1995.5v56.5M1754.8 1995.5v56.5M1780.4 1995.5v56.5M1838.3 1995.5v56.5" stroke="#f9ba8a"/>
<path d="M1405.4 1656.5v56.5M1498.9 1656.5v56.5M1583.5 1656.5v56.5M1670.3 1656.5v56.5M1673.6 1656.5v56.5M1681.4 1656.5v56.5M1699.2 1656.5v56.5M1712.6 1656.5v56.5M1744.8 1656.5v56.5M1747.1 1656.5v56.5M1748.2 1656.5v56.5M1749.3 1656.5v56.5M1750.4 1656.5v56.5M1760.4 1656.5v56.5M1761.5 1656.5v56.5M1766.0 1656.5v56.5M1768.2 1656.5v56.5M1771.5 1656.5v56.5M1779.3 1656.5v56.5M1792.7 1656.5v56.5M1800.5 1656.5v56.5M1802.7 1656.5v56.5M1808.3 1656.5v56.5M1809.4 1656.5v56.5M1812.7 1656.5v56.5M1831.6 1656.5v56.5M1833.9 1656.5v56.5M1842.8 1656.5v56.5M1847.2 1656.5v56.5M1853.9 1656.5v56.5M1860.6 1656.5v56.5M1867.3 1656.5v56.5M1871.7 1656.5v56.5M1872.8 1656.5v56.5M1702.5 1713.0v56.5M1719.2 1713.0v56.5M1738.2 1713.0v56.5M1752.6 1713.0v56.5M1759.3 1713.0v56.5M1771.5 1713.0v56.5M1781.6 1713.0v56.5M1793.8 1713.0v56.5M1802.7 1713.0v56.5M1807.2 1713.0v56.5M1813.8 1713.0v56.5M1817.2 1713.0v56.5M1820.5 1713.0v56.5M1822.7 1713.0v56.5M1826.1 1713.0v56.5M1835.0 1713.0v56.5M1838.3 1713.0v56.5M1840.5 1713.0v56.5M1841.7 1713.0v56.5M1842.8 1713.0v56.5M1843.9 1713.0v56.5M1848.3 1713.0v56.5M1853.9 1713.0v56.5M1855.0 1713.0v56.5M1856.1 1713.0v56.5M1862.8 1713.0v56.5M1865.0 1713.0v56.5M1866.1 1713.0v56.5M1867.3 1713.0v56.5M1875.0 1713.0v56.5M1513.3 1769.5v56.5M1523.4 1769.5v56.5M1634.7 1769.5v56.5M1640.2 1769.5v56.5M1642.4 1769.5v56.5M1646.9 1769.5v56.5M1658.0 1769.5v56.5M1659.1 1769.5v56.5M1660.3 1769.5v56.5M1661.4 1769.5v56.5M1669.2 1769.5v56.5M1687.0 1769.5v56.5M1709.2 1769.5v56.5M1713.7 1769.5v56.5M1722.6 1769.5v56.5M1731.5 1769.5v56.5M1733.7 1769.5v56.5M1734.8 1769.5v56.5M1738.2 1769.5v56.5M1741.5 1769.5v56.5M1745.9 1769.5v56.5M1754.8 1769.5v56.5M1756.0 1769.5v56.5M1757.1 1769.5v56.5M1760.4 1769.5v56.5M1769.3 1769.5v56.5M1770.4 1769.5v56.5M1772.7 1769.5v56.5M1800.5 1769.5v56.5M1801.6 1769.5v56.5M1802.7 1769.5v56.5M1820.5 1769.5v56.5M1830.5 1769.5v56.5M1831.6 1769.5v56.5M1840.5 1769.5v56.5M1845.0 1769.5v56.5M1846.1 1769.5v56.5M1847.2 1769.5v56.5M1875.0 1769.5v56.5M1343.1 1826.0v56.5M1348.6 1826.0v56.5M1354.2 1826.0v56.5M1357.5 1826.0v56.5M1358.7 1826.0v56.5M1359.8 1826.0v56.5M1362.0 1826.0v56.5M1363.1 1826.0v56.5M1367.6 1826.0v56.5M1368.7 1826.0v56.5M1372.0 1826.0v56.5M1378.7 1826.0v56.5M1380.9 1826.0v56.5M1383.1 1826.0v56.5M1384.2 1826.0v56.5M1385.4 1826.0v56.5M1386.5 1826.0v56.5M1387.6 1826.0v56.5M1388.7 1826.0v56.5M1389.8 1826.0v56.5M1396.5 1826.0v56.5M1399.8 1826.0v56.5M1400.9 1826.0v56.5M1404.3 1826.0v56.5M1405.4 1826.0v56.5M1406.5 1826.0v56.5M1423.2 1826.0v56.5M1426.5 1826.0v56.5M1429.9 1826.0v56.5M1441.0 1826.0v56.5M1442.1 1826.0v56.5M1445.5 1826.0v56.5M1453.2 1826.0v56.5M1454.4 1826.0v56.5M1455.5 1826.0v56.5M1456.6 1826.0v56.5M1458.8 1826.0v56.5M1466.6 1826.0v56.5M1480.0 1826.0v56.5M1498.9 1826.0v56.5M1501.1 1826.0v56.5M1510.0 1826.0v56.5M1511.1 1826.0v56.5M1522.2 1826.0v56.5M1829.4 1826.0v56.5M1342.0 1882.5v56.5M1377.6 1882.5v56.5M1530.0 1882.5v56.5M1670.3 1882.5v56.5M1685.8 1882.5v56.5M1710.3 1882.5v56.5M1711.4 1882.5v56.5M1727.0 1882.5v56.5M1747.1 1882.5v56.5M1753.7 1882.5v56.5M1764.9 1882.5v56.5M1774.9 1882.5v56.5M1796.0 1882.5v56.5M1798.3 1882.5v56.5M1799.4 1882.5v56.5M1814.9 1882.5v56.5M1816.1 1882.5v56.5M1819.4 1882.5v56.5M1820.5 1882.5v56.5M1821.6 1882.5v56.5M1829.4 1882.5v56.5M1833.9 1882.5v56.5M1835.0 1882.5v56.5M1839.4 1882.5v56.5M1840.5 1882.5v56.5M1853.9 1882.5v56.5M1859.5 1882.5v56.5M1863.9 1882.5v56.5M1869.5 1882.5v56.5M1870.6 1882.5v56.5M1873.9 1882.5v56.5M1875.0 1882.5v56.5M1630.2 1939.0v56.5M1638.0 1939.0v56.5M1645.8 1939.0v56.5M1672.5 1939.0v56.5M1710.3 1939.0v56.5M1760.4 1939.0v56.5M1826.1 1939.0v56.5M1838.3 1939.0v56.5M1847.2 1939.0v56.5M1848.3 1939.0v56.5M1850.6 1939.0v56.5M1859.5 1939.0v56.5M1867.3 1939.0v56.5M1869.5 1939.0v56.5M1870.6 1939.0v56.5M1873.9 1939.0v56.5M1731.5 1995.5v56.5M1776.0 1995.5v56.5M1778.2 1995.5v56.5M1790.5 1995.5v56.5M1808.3 1995.5v56.5M1836.1 1995.5v56.5" stroke="#f7a266"/>
<path d="M1624.6 1656.5v56.5M1724.8 1656.5v56.5M1731.5 1656.5v56.5M1733.7 1656.5v56.5M1734.8 1656.5v56.5M1743.7 1656.5v56.5M1774.9 1656.5v56.5M1777.1 1656.5v56.5M1778.2 1656.5v56.5M1782.7 1656.5v56.5M1784.9 1656.5v56.5M1786.0 1656.5v56.5M1787.1 1656.5v56.5M1788.2 1656.5v56.5M1789.3 1656.5v56.5M1790.5 1656.5v56.5M1791.6 1656.5v56.5M1796.0 1656.5v56.5M1797.1 1656.5v56.5M1798.3 1656.5v56.5M1799.4 1656.5v56.5M1803.8 1656.5v56.5M1806.0 1656.5v56.5M1807.2 1656.5v56.5M1810.5 1656.5v56.5M1813.8 1656.5v56.5M1819.4 1656.5v56.5M1822.7 1656.5v56.5M1827.2 1656.5v56.5M1828.3 1656.5v56.5M1829.4 1656.5v56.5M1836.1 1656.5v56.5M1837.2 1656.5v56.5M1838.3 1656.5v56.5M1839.4 1656.5v56.5M1843.9 1656.5v56.5M1845.0 1656.5v56.5M1846.1 1656.5v56.5M1848.3 1656.5v56.5M1849.4 1656.5v56.5M1852.8 1656.5v56.5M1855.0 1656.5v56.5M1856.1 1656.5v56.5M1857.2 1656.5v56.5M1858.3 1656.5v56.5M1859.5 1656.5v56.5M1861.7 1656.5v56.5M1862.8 1656.5v56.5M1863.9 1656.5v56.5M1865.0 1656.5v56.5M1866.1 1656.5v56.5M1868.4 1656.5v56.5M1869.5 1656.5v56.5M1870.6 1656.5v56.5M1873.9 1656.5v56.5M1737.0 1713.0v56.5M1749.3 1713.0v56.5M1750.4 1713.0v56.5M1768.2 1713.0v56.5M1769.3 1713.0v56.5M1770.4 1713.0v56.5M1794.9 1713.0v56.5M1812.7 1713.0v56.5M1814.9 1713.0v56.5M1816.1 1713.0v56.5M1833.9 1713.0v56.5M1849.4 1713.0v56.5M1850.6 1713.0v56.5M1851.7 1713.0v56.5M1852.8 1713.0v56.5M1857.2 1713.0v56.5M1858.3 1713.0v56.5M1859.5 1713.0v56.5M1860.6 1713.0v56.5M1863.9 1713.0v56.5M1868.4 1713.0v56.5M1869.5 1713.0v56.5M1870.6 1713.0v56.5M1871.7 1713.0v56.5M1872.8 1713.0v56.5M1873.9 1713.0v56.5M1690.3 1769.5v56.5M1748.2 1769.5v56.5M1843.9 1769.5v56.5M1857.2 1769.5v56.5M1858.3 1769.5v56.5M1872.8 1769.5v56.5M1342.0 1826.0v56.5M1345.3 1826.0v56.5M1346.4 1826.0v56.5M1347.5 1826.0v56.5M1352.0 1826.0v56.5M1353.1 1826.0v56.5M1355.3 1826.0v56.5M1360.9 1826.0v56.5M1364.2 1826.0v56.5M1365.3 1826.0v56.5M1369.8 1826.0v56.5M1370.9 1826.0v56.5M1373.1 1826.0v56.5M1374.2 1826.0v56.5M1382.0 1826.0v56.5M1397.6 1826.0v56.5M1398.7 1826.0v56.5M1402.1 1826.0v56.5M1419.9 1826.0v56.5M1427.7 1826.0v56.5M1439.9 1826.0v56.5M1443.2 1826.0v56.5M1794.9 1882.5v56.5M1813.8 1882.5v56.5M1838.3 1882.5v56.5M1842.8 1882.5v56.5M1857.2 1882.5v56.5M1858.3 1882.5v56.5M1865.0 1882.5v56.5M1636.9 1939.0v56.5M1664.7 1939.0v56.5M1812.7 1939.0v56.5M1820.5 1939.0v56.5M1821.6 1939.0v56.5M1837.2 1939.0v56.5M1842.8 1939.0v56.5M1851.7 1939.0v56.5M1853.9 1939.0v56.5M1860.6 1939.0v56.5M1756.0 1995.5v56.5M1762.6 1995.5v56.5M1764.9 1995.5v56.5M1771.5 1995.5v56.5M1777.1 1995.5v56.5M1779.3 1995.5v56.5M1788.2 1995.5v56.5M1792.7 1995.5v56.5M1793.8 1995.5v56.5M1797.1 1995.5v56.5M1802.7 1995.5v56.5M1803.8 1995.5v56.5M1810.5 1995.5v56.5M1816.1 1995.5v56.5M1817.2 1995.5v56.5M1820.5 1995.5v56.5M1823.8 1995.5v56.5M1825.0 1995.5v56.5M1829.4 1995.5v56.5M1831.6 1995.5v56.5M1832.8 1995.5v56.5M1833.9 1995.5v56.5M1839.4 1995.5v56.5M1840.5 1995.5v56.5M1845.0 1995.5v56.5M1846.1 1995.5v56.5M1848.3 1995.5v56.5M1852.8 1995.5v56.5M1853.9 1995.5v56.5M1860.6 1995.5v56.5M1868.4 1995.5v56.5M1869.5 1995.5v56.5M1873.9 1995.5v56.5" stroke="#f5873d"/>
<path d="M1780.4 1656.5v56.5M1818.3 1656.5v56.5M1850.6 1656.5v56.5M1851.7 1656.5v56.5M1875.0 1656.5v56.5M1858.3 1939.0v56.5M1871.7 1939.0v56.5M1872.8 1939.0v56.5M1811.6 1995.5v56.5M1813.8 1995.5v56.5M1822.7 1995.5v56.5M1826.1 1995.5v56.5M1830.5 1995.5v56.5M1835.0 1995.5v56.5M1837.2 1995.5v56.5M1841.7 1995.5v56.5M1842.8 1995.5v56.5M1843.9 1995.5v56.5M1847.2 1995.5v56.5M1849.4 1995.5v56.5M1850.6 1995.5v56.5M1851.7 1995.5v56.5M1855.0 1995.5v56.5M1856.1 1995.5v56.5M1857.2 1995.5v56.5M1858.3 1995.5v56.5M1859.5 1995.5v56.5M1861.7 1995.5v56.5M1862.8 1995.5v56.5M1863.9 1995.5v56.5M1865.0 1995.5v56.5M1866.1 1995.5v56.5M1867.3 1995.5v56.5M1870.6 1995.5v56.5M1871.7 1995.5v56.5M1872.8 1995.5v56.5M1875.0 1995.5v56.5" stroke="#f58337"/>
</g></g></g>
<text x="1875.8" y="1695.8" font-size="20" fill="#222" textLength="71.7" lengthAdjust="spacingAndGlyphs">CRNDE</text>
<text x="1875.8" y="1751.5" font-size="20" fill="#222" textLength="94.2" lengthAdjust="spacingAndGlyphs">AC022034.1</text>
<text x="1875.8" y="1807.2" font-size="20" fill="#222" textLength="89.2" lengthAdjust="spacingAndGlyphs">RHOQ-AS1</text>
<text x="1875.8" y="1863.0" font-size="20" fill="#222" textLength="93.2" lengthAdjust="spacingAndGlyphs">AL159169.2</text>
<text x="1875.8" y="1918.7" font-size="20" fill="#222" textLength="110.2" lengthAdjust="spacingAndGlyphs">AL133215.2</text>
<text x="1875.8" y="1974.4" font-size="20" fill="#222" textLength="110.7" lengthAdjust="spacingAndGlyphs">AC007098.1</text>
<text x="1875.8" y="2030.1" font-size="20" fill="#222" textLength="102.6" lengthAdjust="spacingAndGlyphs">LINC02587</text>
<defs><linearGradient id="cb23" x1="0" y1="0" x2="0" y2="1"><stop offset="0.024" stop-color="#f47d2f"/><stop offset="0.364" stop-color="#f58438"/><stop offset="0.443" stop-color="#f9c098"/><stop offset="0.506" stop-color="#fbf3f0"/><stop offset="0.538" stop-color="#c8cbec"/><stop offset="0.585" stop-color="#6e76c6"/><stop offset="0.641" stop-color="#4045a8"/><stop offset="0.696" stop-color="#353780"/><stop offset="0.973" stop-color="#333578"/></linearGradient></defs>
<rect x="1978.0" y="1638.8" width="14.2" height="222.5" fill="url(#cb23)"/>
<text x="1997.6" y="1650.2" font-size="17" fill="#222">6</text>
<text x="1997.6" y="1685.4" font-size="17" fill="#222">4</text>
<text x="1997.6" y="1720.6" font-size="17" fill="#222">2</text>
<text x="1997.6" y="1755.8" font-size="17" fill="#222">0</text>
<text x="1997.6" y="1791.0" font-size="17" fill="#222">−2</text>
<text x="1997.6" y="1826.2" font-size="17" fill="#222">−4</text>
<text x="1997.6" y="1861.4" font-size="17" fill="#222">−6</text>
</svg>
</body></html>
